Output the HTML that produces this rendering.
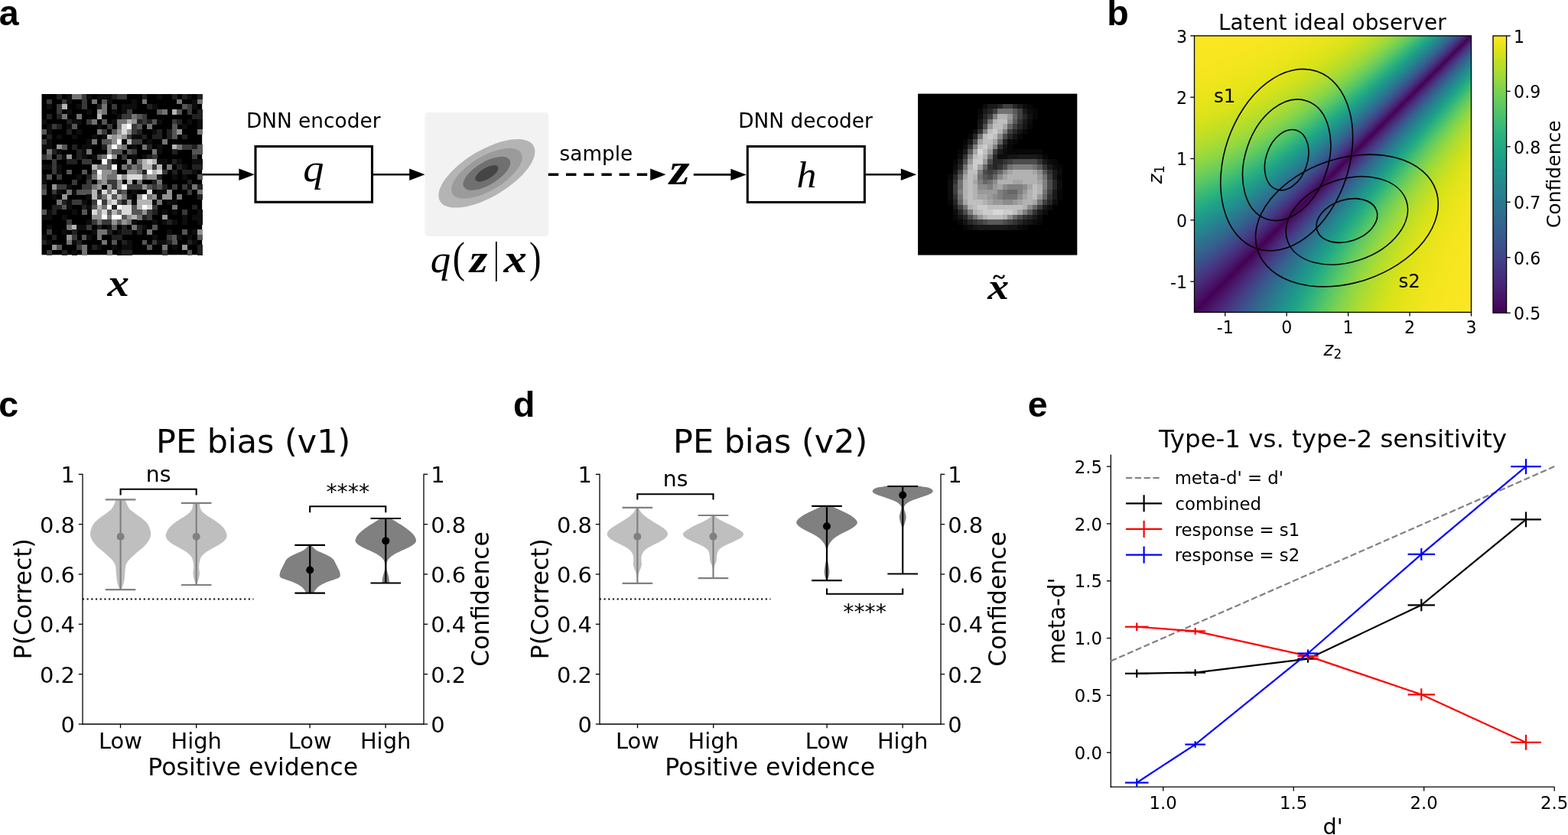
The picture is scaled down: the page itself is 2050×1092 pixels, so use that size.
<!DOCTYPE html>
<html><head><meta charset="utf-8"><title>Figure</title>
<style>html,body{margin:0;padding:0;background:#fff;width:2050px;height:1092px;overflow:hidden;} svg{display:block;}</style></head>
<body><svg width="2050" height="1092" viewBox="0 0 2050 1092">
<rect width="2050" height="1092" fill="#fff"/>
<text x="-1.35" y="32.80" font-family='"Liberation Sans", Arial, sans-serif' font-weight="bold" font-style="normal" font-size="46.50" fill="#000">a</text>
<text x="1447.23" y="32.80" font-family='"Liberation Sans", Arial, sans-serif' font-weight="bold" font-style="normal" font-size="46.50" fill="#000">b</text>
<text x="-1.81" y="545.00" font-family='"Liberation Sans", Arial, sans-serif' font-weight="bold" font-style="normal" font-size="46.50" fill="#000">c</text>
<text x="670.89" y="545.00" font-family='"Liberation Sans", Arial, sans-serif' font-weight="bold" font-style="normal" font-size="46.50" fill="#000">d</text>
<text x="1343.79" y="545.00" font-family='"Liberation Sans", Arial, sans-serif' font-weight="bold" font-style="normal" font-size="46.50" fill="#000">e</text>
<rect x="1200.10" y="122.60" width="208.20" height="211.00" fill="#000"/>
<g shape-rendering="crispEdges"><rect x="1284.68" y="135.79" width="6.81" height="6.89" fill="#0c0c0c"/><rect x="1291.19" y="135.79" width="6.81" height="6.89" fill="#191919"/><rect x="1297.69" y="135.79" width="6.81" height="6.89" fill="#191919"/><rect x="1304.20" y="135.79" width="6.81" height="6.89" fill="#262626"/><rect x="1310.71" y="135.79" width="6.81" height="6.89" fill="#3f3f3f"/><rect x="1317.21" y="135.79" width="6.81" height="6.89" fill="#3f3f3f"/><rect x="1323.72" y="135.79" width="6.81" height="6.89" fill="#262626"/><rect x="1330.22" y="135.79" width="6.81" height="6.89" fill="#191919"/><rect x="1336.73" y="135.79" width="6.81" height="6.89" fill="#0c0c0c"/><rect x="1343.24" y="135.79" width="6.81" height="6.89" fill="#070707"/><rect x="1278.17" y="142.38" width="6.81" height="6.89" fill="#070707"/><rect x="1284.68" y="142.38" width="6.81" height="6.89" fill="#191919"/><rect x="1291.19" y="142.38" width="6.81" height="6.89" fill="#262626"/><rect x="1297.69" y="142.38" width="6.81" height="6.89" fill="#3f3f3f"/><rect x="1304.20" y="142.38" width="6.81" height="6.89" fill="#727272"/><rect x="1310.71" y="142.38" width="6.81" height="6.89" fill="#727272"/><rect x="1317.21" y="142.38" width="6.81" height="6.89" fill="#727272"/><rect x="1323.72" y="142.38" width="6.81" height="6.89" fill="#595959"/><rect x="1330.22" y="142.38" width="6.81" height="6.89" fill="#3f3f3f"/><rect x="1336.73" y="142.38" width="6.81" height="6.89" fill="#191919"/><rect x="1343.24" y="142.38" width="6.81" height="6.89" fill="#0c0c0c"/><rect x="1349.74" y="142.38" width="6.81" height="6.89" fill="#070707"/><rect x="1278.17" y="148.97" width="6.81" height="6.89" fill="#0c0c0c"/><rect x="1284.68" y="148.97" width="6.81" height="6.89" fill="#262626"/><rect x="1291.19" y="148.97" width="6.81" height="6.89" fill="#3f3f3f"/><rect x="1297.69" y="148.97" width="6.81" height="6.89" fill="#7f7f7f"/><rect x="1304.20" y="148.97" width="6.81" height="6.89" fill="#b2b2b2"/><rect x="1310.71" y="148.97" width="6.81" height="6.89" fill="#b2b2b2"/><rect x="1317.21" y="148.97" width="6.81" height="6.89" fill="#999999"/><rect x="1323.72" y="148.97" width="6.81" height="6.89" fill="#666666"/><rect x="1330.22" y="148.97" width="6.81" height="6.89" fill="#3f3f3f"/><rect x="1336.73" y="148.97" width="6.81" height="6.89" fill="#262626"/><rect x="1343.24" y="148.97" width="6.81" height="6.89" fill="#111111"/><rect x="1349.74" y="148.97" width="6.81" height="6.89" fill="#070707"/><rect x="1278.17" y="155.57" width="6.81" height="6.89" fill="#141414"/><rect x="1284.68" y="155.57" width="6.81" height="6.89" fill="#333333"/><rect x="1291.19" y="155.57" width="6.81" height="6.89" fill="#727272"/><rect x="1297.69" y="155.57" width="6.81" height="6.89" fill="#b2b2b2"/><rect x="1304.20" y="155.57" width="6.81" height="6.89" fill="#bfbfbf"/><rect x="1310.71" y="155.57" width="6.81" height="6.89" fill="#bfbfbf"/><rect x="1317.21" y="155.57" width="6.81" height="6.89" fill="#8c8c8c"/><rect x="1323.72" y="155.57" width="6.81" height="6.89" fill="#595959"/><rect x="1330.22" y="155.57" width="6.81" height="6.89" fill="#333333"/><rect x="1336.73" y="155.57" width="6.81" height="6.89" fill="#191919"/><rect x="1343.24" y="155.57" width="6.81" height="6.89" fill="#0c0c0c"/><rect x="1278.17" y="162.16" width="6.81" height="6.89" fill="#191919"/><rect x="1284.68" y="162.16" width="6.81" height="6.89" fill="#4c4c4c"/><rect x="1291.19" y="162.16" width="6.81" height="6.89" fill="#999999"/><rect x="1297.69" y="162.16" width="6.81" height="6.89" fill="#bfbfbf"/><rect x="1304.20" y="162.16" width="6.81" height="6.89" fill="#bfbfbf"/><rect x="1310.71" y="162.16" width="6.81" height="6.89" fill="#a5a5a5"/><rect x="1317.21" y="162.16" width="6.81" height="6.89" fill="#666666"/><rect x="1323.72" y="162.16" width="6.81" height="6.89" fill="#3f3f3f"/><rect x="1330.22" y="162.16" width="6.81" height="6.89" fill="#262626"/><rect x="1336.73" y="162.16" width="6.81" height="6.89" fill="#141414"/><rect x="1343.24" y="162.16" width="6.81" height="6.89" fill="#070707"/><rect x="1271.67" y="168.76" width="6.81" height="6.89" fill="#0c0c0c"/><rect x="1278.17" y="168.76" width="6.81" height="6.89" fill="#333333"/><rect x="1284.68" y="168.76" width="6.81" height="6.89" fill="#7f7f7f"/><rect x="1291.19" y="168.76" width="6.81" height="6.89" fill="#bfbfbf"/><rect x="1297.69" y="168.76" width="6.81" height="6.89" fill="#cccccc"/><rect x="1304.20" y="168.76" width="6.81" height="6.89" fill="#b2b2b2"/><rect x="1310.71" y="168.76" width="6.81" height="6.89" fill="#7f7f7f"/><rect x="1317.21" y="168.76" width="6.81" height="6.89" fill="#3f3f3f"/><rect x="1323.72" y="168.76" width="6.81" height="6.89" fill="#262626"/><rect x="1330.22" y="168.76" width="6.81" height="6.89" fill="#141414"/><rect x="1336.73" y="168.76" width="6.81" height="6.89" fill="#070707"/><rect x="1265.16" y="175.35" width="6.81" height="6.89" fill="#070707"/><rect x="1271.67" y="175.35" width="6.81" height="6.89" fill="#262626"/><rect x="1278.17" y="175.35" width="6.81" height="6.89" fill="#727272"/><rect x="1284.68" y="175.35" width="6.81" height="6.89" fill="#bfbfbf"/><rect x="1291.19" y="175.35" width="6.81" height="6.89" fill="#cccccc"/><rect x="1297.69" y="175.35" width="6.81" height="6.89" fill="#bfbfbf"/><rect x="1304.20" y="175.35" width="6.81" height="6.89" fill="#8c8c8c"/><rect x="1310.71" y="175.35" width="6.81" height="6.89" fill="#4c4c4c"/><rect x="1317.21" y="175.35" width="6.81" height="6.89" fill="#262626"/><rect x="1323.72" y="175.35" width="6.81" height="6.89" fill="#141414"/><rect x="1330.22" y="175.35" width="6.81" height="6.89" fill="#070707"/><rect x="1258.66" y="181.94" width="6.81" height="6.89" fill="#070707"/><rect x="1265.16" y="181.94" width="6.81" height="6.89" fill="#191919"/><rect x="1271.67" y="181.94" width="6.81" height="6.89" fill="#4c4c4c"/><rect x="1278.17" y="181.94" width="6.81" height="6.89" fill="#a5a5a5"/><rect x="1284.68" y="181.94" width="6.81" height="6.89" fill="#bfbfbf"/><rect x="1291.19" y="181.94" width="6.81" height="6.89" fill="#bfbfbf"/><rect x="1297.69" y="181.94" width="6.81" height="6.89" fill="#a5a5a5"/><rect x="1304.20" y="181.94" width="6.81" height="6.89" fill="#666666"/><rect x="1310.71" y="181.94" width="6.81" height="6.89" fill="#262626"/><rect x="1317.21" y="181.94" width="6.81" height="6.89" fill="#0c0c0c"/><rect x="1323.72" y="181.94" width="6.81" height="6.89" fill="#070707"/><rect x="1258.66" y="188.54" width="6.81" height="6.89" fill="#0c0c0c"/><rect x="1265.16" y="188.54" width="6.81" height="6.89" fill="#333333"/><rect x="1271.67" y="188.54" width="6.81" height="6.89" fill="#7f7f7f"/><rect x="1278.17" y="188.54" width="6.81" height="6.89" fill="#bfbfbf"/><rect x="1284.68" y="188.54" width="6.81" height="6.89" fill="#cccccc"/><rect x="1291.19" y="188.54" width="6.81" height="6.89" fill="#b2b2b2"/><rect x="1297.69" y="188.54" width="6.81" height="6.89" fill="#7f7f7f"/><rect x="1304.20" y="188.54" width="6.81" height="6.89" fill="#333333"/><rect x="1310.71" y="188.54" width="6.81" height="6.89" fill="#141414"/><rect x="1317.21" y="188.54" width="6.81" height="6.89" fill="#070707"/><rect x="1252.15" y="195.13" width="6.81" height="6.89" fill="#070707"/><rect x="1258.66" y="195.13" width="6.81" height="6.89" fill="#191919"/><rect x="1265.16" y="195.13" width="6.81" height="6.89" fill="#595959"/><rect x="1271.67" y="195.13" width="6.81" height="6.89" fill="#a5a5a5"/><rect x="1278.17" y="195.13" width="6.81" height="6.89" fill="#d8d8d8"/><rect x="1284.68" y="195.13" width="6.81" height="6.89" fill="#bfbfbf"/><rect x="1291.19" y="195.13" width="6.81" height="6.89" fill="#999999"/><rect x="1297.69" y="195.13" width="6.81" height="6.89" fill="#3f3f3f"/><rect x="1304.20" y="195.13" width="6.81" height="6.89" fill="#191919"/><rect x="1310.71" y="195.13" width="6.81" height="6.89" fill="#0c0c0c"/><rect x="1317.21" y="195.13" width="6.81" height="6.89" fill="#070707"/><rect x="1323.72" y="195.13" width="6.81" height="6.89" fill="#070707"/><rect x="1330.22" y="195.13" width="6.81" height="6.89" fill="#070707"/><rect x="1336.73" y="195.13" width="6.81" height="6.89" fill="#070707"/><rect x="1343.24" y="195.13" width="6.81" height="6.89" fill="#070707"/><rect x="1349.74" y="195.13" width="6.81" height="6.89" fill="#070707"/><rect x="1356.25" y="195.13" width="6.81" height="6.89" fill="#070707"/><rect x="1252.15" y="201.73" width="6.81" height="6.89" fill="#0c0c0c"/><rect x="1258.66" y="201.73" width="6.81" height="6.89" fill="#333333"/><rect x="1265.16" y="201.73" width="6.81" height="6.89" fill="#7f7f7f"/><rect x="1271.67" y="201.73" width="6.81" height="6.89" fill="#bfbfbf"/><rect x="1278.17" y="201.73" width="6.81" height="6.89" fill="#cccccc"/><rect x="1284.68" y="201.73" width="6.81" height="6.89" fill="#b2b2b2"/><rect x="1291.19" y="201.73" width="6.81" height="6.89" fill="#727272"/><rect x="1297.69" y="201.73" width="6.81" height="6.89" fill="#262626"/><rect x="1304.20" y="201.73" width="6.81" height="6.89" fill="#0c0c0c"/><rect x="1310.71" y="201.73" width="6.81" height="6.89" fill="#0c0c0c"/><rect x="1317.21" y="201.73" width="6.81" height="6.89" fill="#141414"/><rect x="1323.72" y="201.73" width="6.81" height="6.89" fill="#141414"/><rect x="1330.22" y="201.73" width="6.81" height="6.89" fill="#191919"/><rect x="1336.73" y="201.73" width="6.81" height="6.89" fill="#191919"/><rect x="1343.24" y="201.73" width="6.81" height="6.89" fill="#191919"/><rect x="1349.74" y="201.73" width="6.81" height="6.89" fill="#191919"/><rect x="1356.25" y="201.73" width="6.81" height="6.89" fill="#141414"/><rect x="1362.76" y="201.73" width="6.81" height="6.89" fill="#070707"/><rect x="1245.64" y="208.32" width="6.81" height="6.89" fill="#070707"/><rect x="1252.15" y="208.32" width="6.81" height="6.89" fill="#191919"/><rect x="1258.66" y="208.32" width="6.81" height="6.89" fill="#4c4c4c"/><rect x="1265.16" y="208.32" width="6.81" height="6.89" fill="#999999"/><rect x="1271.67" y="208.32" width="6.81" height="6.89" fill="#cccccc"/><rect x="1278.17" y="208.32" width="6.81" height="6.89" fill="#cccccc"/><rect x="1284.68" y="208.32" width="6.81" height="6.89" fill="#999999"/><rect x="1291.19" y="208.32" width="6.81" height="6.89" fill="#4c4c4c"/><rect x="1297.69" y="208.32" width="6.81" height="6.89" fill="#262626"/><rect x="1304.20" y="208.32" width="6.81" height="6.89" fill="#262626"/><rect x="1310.71" y="208.32" width="6.81" height="6.89" fill="#333333"/><rect x="1317.21" y="208.32" width="6.81" height="6.89" fill="#3f3f3f"/><rect x="1323.72" y="208.32" width="6.81" height="6.89" fill="#4c4c4c"/><rect x="1330.22" y="208.32" width="6.81" height="6.89" fill="#4c4c4c"/><rect x="1336.73" y="208.32" width="6.81" height="6.89" fill="#4c4c4c"/><rect x="1343.24" y="208.32" width="6.81" height="6.89" fill="#4c4c4c"/><rect x="1349.74" y="208.32" width="6.81" height="6.89" fill="#4c4c4c"/><rect x="1356.25" y="208.32" width="6.81" height="6.89" fill="#333333"/><rect x="1362.76" y="208.32" width="6.81" height="6.89" fill="#191919"/><rect x="1369.26" y="208.32" width="6.81" height="6.89" fill="#0c0c0c"/><rect x="1375.77" y="208.32" width="6.81" height="6.89" fill="#070707"/><rect x="1245.64" y="214.91" width="6.81" height="6.89" fill="#0c0c0c"/><rect x="1252.15" y="214.91" width="6.81" height="6.89" fill="#262626"/><rect x="1258.66" y="214.91" width="6.81" height="6.89" fill="#727272"/><rect x="1265.16" y="214.91" width="6.81" height="6.89" fill="#b2b2b2"/><rect x="1271.67" y="214.91" width="6.81" height="6.89" fill="#cccccc"/><rect x="1278.17" y="214.91" width="6.81" height="6.89" fill="#a5a5a5"/><rect x="1284.68" y="214.91" width="6.81" height="6.89" fill="#666666"/><rect x="1291.19" y="214.91" width="6.81" height="6.89" fill="#333333"/><rect x="1297.69" y="214.91" width="6.81" height="6.89" fill="#262626"/><rect x="1304.20" y="214.91" width="6.81" height="6.89" fill="#333333"/><rect x="1310.71" y="214.91" width="6.81" height="6.89" fill="#4c4c4c"/><rect x="1317.21" y="214.91" width="6.81" height="6.89" fill="#727272"/><rect x="1323.72" y="214.91" width="6.81" height="6.89" fill="#7f7f7f"/><rect x="1330.22" y="214.91" width="6.81" height="6.89" fill="#7f7f7f"/><rect x="1336.73" y="214.91" width="6.81" height="6.89" fill="#7f7f7f"/><rect x="1343.24" y="214.91" width="6.81" height="6.89" fill="#7f7f7f"/><rect x="1349.74" y="214.91" width="6.81" height="6.89" fill="#727272"/><rect x="1356.25" y="214.91" width="6.81" height="6.89" fill="#595959"/><rect x="1362.76" y="214.91" width="6.81" height="6.89" fill="#333333"/><rect x="1369.26" y="214.91" width="6.81" height="6.89" fill="#191919"/><rect x="1375.77" y="214.91" width="6.81" height="6.89" fill="#0c0c0c"/><rect x="1382.27" y="214.91" width="6.81" height="6.89" fill="#070707"/><rect x="1245.64" y="221.51" width="6.81" height="6.89" fill="#141414"/><rect x="1252.15" y="221.51" width="6.81" height="6.89" fill="#3f3f3f"/><rect x="1258.66" y="221.51" width="6.81" height="6.89" fill="#8c8c8c"/><rect x="1265.16" y="221.51" width="6.81" height="6.89" fill="#bfbfbf"/><rect x="1271.67" y="221.51" width="6.81" height="6.89" fill="#bfbfbf"/><rect x="1278.17" y="221.51" width="6.81" height="6.89" fill="#7f7f7f"/><rect x="1284.68" y="221.51" width="6.81" height="6.89" fill="#4c4c4c"/><rect x="1291.19" y="221.51" width="6.81" height="6.89" fill="#3f3f3f"/><rect x="1297.69" y="221.51" width="6.81" height="6.89" fill="#4c4c4c"/><rect x="1304.20" y="221.51" width="6.81" height="6.89" fill="#666666"/><rect x="1310.71" y="221.51" width="6.81" height="6.89" fill="#8c8c8c"/><rect x="1317.21" y="221.51" width="6.81" height="6.89" fill="#a5a5a5"/><rect x="1323.72" y="221.51" width="6.81" height="6.89" fill="#b2b2b2"/><rect x="1330.22" y="221.51" width="6.81" height="6.89" fill="#b2b2b2"/><rect x="1336.73" y="221.51" width="6.81" height="6.89" fill="#b2b2b2"/><rect x="1343.24" y="221.51" width="6.81" height="6.89" fill="#b2b2b2"/><rect x="1349.74" y="221.51" width="6.81" height="6.89" fill="#a5a5a5"/><rect x="1356.25" y="221.51" width="6.81" height="6.89" fill="#8c8c8c"/><rect x="1362.76" y="221.51" width="6.81" height="6.89" fill="#595959"/><rect x="1369.26" y="221.51" width="6.81" height="6.89" fill="#333333"/><rect x="1375.77" y="221.51" width="6.81" height="6.89" fill="#191919"/><rect x="1382.27" y="221.51" width="6.81" height="6.89" fill="#0c0c0c"/><rect x="1239.14" y="228.10" width="6.81" height="6.89" fill="#070707"/><rect x="1245.64" y="228.10" width="6.81" height="6.89" fill="#262626"/><rect x="1252.15" y="228.10" width="6.81" height="6.89" fill="#595959"/><rect x="1258.66" y="228.10" width="6.81" height="6.89" fill="#a5a5a5"/><rect x="1265.16" y="228.10" width="6.81" height="6.89" fill="#bfbfbf"/><rect x="1271.67" y="228.10" width="6.81" height="6.89" fill="#b2b2b2"/><rect x="1278.17" y="228.10" width="6.81" height="6.89" fill="#727272"/><rect x="1284.68" y="228.10" width="6.81" height="6.89" fill="#595959"/><rect x="1291.19" y="228.10" width="6.81" height="6.89" fill="#4c4c4c"/><rect x="1297.69" y="228.10" width="6.81" height="6.89" fill="#666666"/><rect x="1304.20" y="228.10" width="6.81" height="6.89" fill="#8c8c8c"/><rect x="1310.71" y="228.10" width="6.81" height="6.89" fill="#a5a5a5"/><rect x="1317.21" y="228.10" width="6.81" height="6.89" fill="#b2b2b2"/><rect x="1323.72" y="228.10" width="6.81" height="6.89" fill="#b2b2b2"/><rect x="1330.22" y="228.10" width="6.81" height="6.89" fill="#b2b2b2"/><rect x="1336.73" y="228.10" width="6.81" height="6.89" fill="#b2b2b2"/><rect x="1343.24" y="228.10" width="6.81" height="6.89" fill="#b2b2b2"/><rect x="1349.74" y="228.10" width="6.81" height="6.89" fill="#b2b2b2"/><rect x="1356.25" y="228.10" width="6.81" height="6.89" fill="#999999"/><rect x="1362.76" y="228.10" width="6.81" height="6.89" fill="#727272"/><rect x="1369.26" y="228.10" width="6.81" height="6.89" fill="#3f3f3f"/><rect x="1375.77" y="228.10" width="6.81" height="6.89" fill="#191919"/><rect x="1382.27" y="228.10" width="6.81" height="6.89" fill="#070707"/><rect x="1239.14" y="234.69" width="6.81" height="6.89" fill="#0c0c0c"/><rect x="1245.64" y="234.69" width="6.81" height="6.89" fill="#333333"/><rect x="1252.15" y="234.69" width="6.81" height="6.89" fill="#727272"/><rect x="1258.66" y="234.69" width="6.81" height="6.89" fill="#b2b2b2"/><rect x="1265.16" y="234.69" width="6.81" height="6.89" fill="#bfbfbf"/><rect x="1271.67" y="234.69" width="6.81" height="6.89" fill="#a5a5a5"/><rect x="1278.17" y="234.69" width="6.81" height="6.89" fill="#7f7f7f"/><rect x="1284.68" y="234.69" width="6.81" height="6.89" fill="#666666"/><rect x="1291.19" y="234.69" width="6.81" height="6.89" fill="#727272"/><rect x="1297.69" y="234.69" width="6.81" height="6.89" fill="#8c8c8c"/><rect x="1304.20" y="234.69" width="6.81" height="6.89" fill="#b2b2b2"/><rect x="1310.71" y="234.69" width="6.81" height="6.89" fill="#b2b2b2"/><rect x="1317.21" y="234.69" width="6.81" height="6.89" fill="#b2b2b2"/><rect x="1323.72" y="234.69" width="6.81" height="6.89" fill="#a5a5a5"/><rect x="1330.22" y="234.69" width="6.81" height="6.89" fill="#a5a5a5"/><rect x="1336.73" y="234.69" width="6.81" height="6.89" fill="#b2b2b2"/><rect x="1343.24" y="234.69" width="6.81" height="6.89" fill="#b2b2b2"/><rect x="1349.74" y="234.69" width="6.81" height="6.89" fill="#b2b2b2"/><rect x="1356.25" y="234.69" width="6.81" height="6.89" fill="#a5a5a5"/><rect x="1362.76" y="234.69" width="6.81" height="6.89" fill="#7f7f7f"/><rect x="1369.26" y="234.69" width="6.81" height="6.89" fill="#4c4c4c"/><rect x="1375.77" y="234.69" width="6.81" height="6.89" fill="#262626"/><rect x="1382.27" y="234.69" width="6.81" height="6.89" fill="#0c0c0c"/><rect x="1239.14" y="241.29" width="6.81" height="6.89" fill="#0c0c0c"/><rect x="1245.64" y="241.29" width="6.81" height="6.89" fill="#3f3f3f"/><rect x="1252.15" y="241.29" width="6.81" height="6.89" fill="#727272"/><rect x="1258.66" y="241.29" width="6.81" height="6.89" fill="#b2b2b2"/><rect x="1265.16" y="241.29" width="6.81" height="6.89" fill="#bfbfbf"/><rect x="1271.67" y="241.29" width="6.81" height="6.89" fill="#b2b2b2"/><rect x="1278.17" y="241.29" width="6.81" height="6.89" fill="#8c8c8c"/><rect x="1284.68" y="241.29" width="6.81" height="6.89" fill="#8c8c8c"/><rect x="1291.19" y="241.29" width="6.81" height="6.89" fill="#7f7f7f"/><rect x="1297.69" y="241.29" width="6.81" height="6.89" fill="#999999"/><rect x="1304.20" y="241.29" width="6.81" height="6.89" fill="#a5a5a5"/><rect x="1310.71" y="241.29" width="6.81" height="6.89" fill="#8c8c8c"/><rect x="1317.21" y="241.29" width="6.81" height="6.89" fill="#7f7f7f"/><rect x="1323.72" y="241.29" width="6.81" height="6.89" fill="#7f7f7f"/><rect x="1330.22" y="241.29" width="6.81" height="6.89" fill="#7f7f7f"/><rect x="1336.73" y="241.29" width="6.81" height="6.89" fill="#8c8c8c"/><rect x="1343.24" y="241.29" width="6.81" height="6.89" fill="#a5a5a5"/><rect x="1349.74" y="241.29" width="6.81" height="6.89" fill="#bfbfbf"/><rect x="1356.25" y="241.29" width="6.81" height="6.89" fill="#b2b2b2"/><rect x="1362.76" y="241.29" width="6.81" height="6.89" fill="#7f7f7f"/><rect x="1369.26" y="241.29" width="6.81" height="6.89" fill="#4c4c4c"/><rect x="1375.77" y="241.29" width="6.81" height="6.89" fill="#262626"/><rect x="1382.27" y="241.29" width="6.81" height="6.89" fill="#0c0c0c"/><rect x="1239.14" y="247.88" width="6.81" height="6.89" fill="#0c0c0c"/><rect x="1245.64" y="247.88" width="6.81" height="6.89" fill="#3f3f3f"/><rect x="1252.15" y="247.88" width="6.81" height="6.89" fill="#7f7f7f"/><rect x="1258.66" y="247.88" width="6.81" height="6.89" fill="#b2b2b2"/><rect x="1265.16" y="247.88" width="6.81" height="6.89" fill="#bfbfbf"/><rect x="1271.67" y="247.88" width="6.81" height="6.89" fill="#b2b2b2"/><rect x="1278.17" y="247.88" width="6.81" height="6.89" fill="#999999"/><rect x="1284.68" y="247.88" width="6.81" height="6.89" fill="#999999"/><rect x="1291.19" y="247.88" width="6.81" height="6.89" fill="#999999"/><rect x="1297.69" y="247.88" width="6.81" height="6.89" fill="#999999"/><rect x="1304.20" y="247.88" width="6.81" height="6.89" fill="#7f7f7f"/><rect x="1310.71" y="247.88" width="6.81" height="6.89" fill="#727272"/><rect x="1317.21" y="247.88" width="6.81" height="6.89" fill="#666666"/><rect x="1323.72" y="247.88" width="6.81" height="6.89" fill="#666666"/><rect x="1330.22" y="247.88" width="6.81" height="6.89" fill="#7f7f7f"/><rect x="1336.73" y="247.88" width="6.81" height="6.89" fill="#999999"/><rect x="1343.24" y="247.88" width="6.81" height="6.89" fill="#b2b2b2"/><rect x="1349.74" y="247.88" width="6.81" height="6.89" fill="#bfbfbf"/><rect x="1356.25" y="247.88" width="6.81" height="6.89" fill="#b2b2b2"/><rect x="1362.76" y="247.88" width="6.81" height="6.89" fill="#727272"/><rect x="1369.26" y="247.88" width="6.81" height="6.89" fill="#3f3f3f"/><rect x="1375.77" y="247.88" width="6.81" height="6.89" fill="#191919"/><rect x="1382.27" y="247.88" width="6.81" height="6.89" fill="#070707"/><rect x="1239.14" y="254.48" width="6.81" height="6.89" fill="#0c0c0c"/><rect x="1245.64" y="254.48" width="6.81" height="6.89" fill="#333333"/><rect x="1252.15" y="254.48" width="6.81" height="6.89" fill="#727272"/><rect x="1258.66" y="254.48" width="6.81" height="6.89" fill="#b2b2b2"/><rect x="1265.16" y="254.48" width="6.81" height="6.89" fill="#bfbfbf"/><rect x="1271.67" y="254.48" width="6.81" height="6.89" fill="#b2b2b2"/><rect x="1278.17" y="254.48" width="6.81" height="6.89" fill="#a5a5a5"/><rect x="1284.68" y="254.48" width="6.81" height="6.89" fill="#a5a5a5"/><rect x="1291.19" y="254.48" width="6.81" height="6.89" fill="#999999"/><rect x="1297.69" y="254.48" width="6.81" height="6.89" fill="#8c8c8c"/><rect x="1304.20" y="254.48" width="6.81" height="6.89" fill="#7f7f7f"/><rect x="1310.71" y="254.48" width="6.81" height="6.89" fill="#727272"/><rect x="1317.21" y="254.48" width="6.81" height="6.89" fill="#727272"/><rect x="1323.72" y="254.48" width="6.81" height="6.89" fill="#727272"/><rect x="1330.22" y="254.48" width="6.81" height="6.89" fill="#8c8c8c"/><rect x="1336.73" y="254.48" width="6.81" height="6.89" fill="#a5a5a5"/><rect x="1343.24" y="254.48" width="6.81" height="6.89" fill="#b2b2b2"/><rect x="1349.74" y="254.48" width="6.81" height="6.89" fill="#bfbfbf"/><rect x="1356.25" y="254.48" width="6.81" height="6.89" fill="#999999"/><rect x="1362.76" y="254.48" width="6.81" height="6.89" fill="#666666"/><rect x="1369.26" y="254.48" width="6.81" height="6.89" fill="#333333"/><rect x="1375.77" y="254.48" width="6.81" height="6.89" fill="#191919"/><rect x="1382.27" y="254.48" width="6.81" height="6.89" fill="#070707"/><rect x="1239.14" y="261.07" width="6.81" height="6.89" fill="#070707"/><rect x="1245.64" y="261.07" width="6.81" height="6.89" fill="#262626"/><rect x="1252.15" y="261.07" width="6.81" height="6.89" fill="#666666"/><rect x="1258.66" y="261.07" width="6.81" height="6.89" fill="#a5a5a5"/><rect x="1265.16" y="261.07" width="6.81" height="6.89" fill="#bfbfbf"/><rect x="1271.67" y="261.07" width="6.81" height="6.89" fill="#bfbfbf"/><rect x="1278.17" y="261.07" width="6.81" height="6.89" fill="#bfbfbf"/><rect x="1284.68" y="261.07" width="6.81" height="6.89" fill="#b2b2b2"/><rect x="1291.19" y="261.07" width="6.81" height="6.89" fill="#a5a5a5"/><rect x="1297.69" y="261.07" width="6.81" height="6.89" fill="#999999"/><rect x="1304.20" y="261.07" width="6.81" height="6.89" fill="#999999"/><rect x="1310.71" y="261.07" width="6.81" height="6.89" fill="#8c8c8c"/><rect x="1317.21" y="261.07" width="6.81" height="6.89" fill="#8c8c8c"/><rect x="1323.72" y="261.07" width="6.81" height="6.89" fill="#999999"/><rect x="1330.22" y="261.07" width="6.81" height="6.89" fill="#a5a5a5"/><rect x="1336.73" y="261.07" width="6.81" height="6.89" fill="#b2b2b2"/><rect x="1343.24" y="261.07" width="6.81" height="6.89" fill="#b2b2b2"/><rect x="1349.74" y="261.07" width="6.81" height="6.89" fill="#a5a5a5"/><rect x="1356.25" y="261.07" width="6.81" height="6.89" fill="#727272"/><rect x="1362.76" y="261.07" width="6.81" height="6.89" fill="#3f3f3f"/><rect x="1369.26" y="261.07" width="6.81" height="6.89" fill="#262626"/><rect x="1375.77" y="261.07" width="6.81" height="6.89" fill="#0c0c0c"/><rect x="1245.64" y="267.66" width="6.81" height="6.89" fill="#191919"/><rect x="1252.15" y="267.66" width="6.81" height="6.89" fill="#3f3f3f"/><rect x="1258.66" y="267.66" width="6.81" height="6.89" fill="#727272"/><rect x="1265.16" y="267.66" width="6.81" height="6.89" fill="#b2b2b2"/><rect x="1271.67" y="267.66" width="6.81" height="6.89" fill="#bfbfbf"/><rect x="1278.17" y="267.66" width="6.81" height="6.89" fill="#cccccc"/><rect x="1284.68" y="267.66" width="6.81" height="6.89" fill="#cccccc"/><rect x="1291.19" y="267.66" width="6.81" height="6.89" fill="#bfbfbf"/><rect x="1297.69" y="267.66" width="6.81" height="6.89" fill="#bfbfbf"/><rect x="1304.20" y="267.66" width="6.81" height="6.89" fill="#bfbfbf"/><rect x="1310.71" y="267.66" width="6.81" height="6.89" fill="#bfbfbf"/><rect x="1317.21" y="267.66" width="6.81" height="6.89" fill="#bfbfbf"/><rect x="1323.72" y="267.66" width="6.81" height="6.89" fill="#bfbfbf"/><rect x="1330.22" y="267.66" width="6.81" height="6.89" fill="#bfbfbf"/><rect x="1336.73" y="267.66" width="6.81" height="6.89" fill="#b2b2b2"/><rect x="1343.24" y="267.66" width="6.81" height="6.89" fill="#8c8c8c"/><rect x="1349.74" y="267.66" width="6.81" height="6.89" fill="#666666"/><rect x="1356.25" y="267.66" width="6.81" height="6.89" fill="#3f3f3f"/><rect x="1362.76" y="267.66" width="6.81" height="6.89" fill="#191919"/><rect x="1369.26" y="267.66" width="6.81" height="6.89" fill="#0c0c0c"/><rect x="1245.64" y="274.26" width="6.81" height="6.89" fill="#0c0c0c"/><rect x="1252.15" y="274.26" width="6.81" height="6.89" fill="#262626"/><rect x="1258.66" y="274.26" width="6.81" height="6.89" fill="#4c4c4c"/><rect x="1265.16" y="274.26" width="6.81" height="6.89" fill="#7f7f7f"/><rect x="1271.67" y="274.26" width="6.81" height="6.89" fill="#b2b2b2"/><rect x="1278.17" y="274.26" width="6.81" height="6.89" fill="#bfbfbf"/><rect x="1284.68" y="274.26" width="6.81" height="6.89" fill="#cccccc"/><rect x="1291.19" y="274.26" width="6.81" height="6.89" fill="#cccccc"/><rect x="1297.69" y="274.26" width="6.81" height="6.89" fill="#d8d8d8"/><rect x="1304.20" y="274.26" width="6.81" height="6.89" fill="#d8d8d8"/><rect x="1310.71" y="274.26" width="6.81" height="6.89" fill="#cccccc"/><rect x="1317.21" y="274.26" width="6.81" height="6.89" fill="#cccccc"/><rect x="1323.72" y="274.26" width="6.81" height="6.89" fill="#bfbfbf"/><rect x="1330.22" y="274.26" width="6.81" height="6.89" fill="#a5a5a5"/><rect x="1336.73" y="274.26" width="6.81" height="6.89" fill="#7f7f7f"/><rect x="1343.24" y="274.26" width="6.81" height="6.89" fill="#595959"/><rect x="1349.74" y="274.26" width="6.81" height="6.89" fill="#333333"/><rect x="1356.25" y="274.26" width="6.81" height="6.89" fill="#191919"/><rect x="1362.76" y="274.26" width="6.81" height="6.89" fill="#0c0c0c"/><rect x="1245.64" y="280.85" width="6.81" height="6.89" fill="#070707"/><rect x="1252.15" y="280.85" width="6.81" height="6.89" fill="#141414"/><rect x="1258.66" y="280.85" width="6.81" height="6.89" fill="#262626"/><rect x="1265.16" y="280.85" width="6.81" height="6.89" fill="#4c4c4c"/><rect x="1271.67" y="280.85" width="6.81" height="6.89" fill="#727272"/><rect x="1278.17" y="280.85" width="6.81" height="6.89" fill="#999999"/><rect x="1284.68" y="280.85" width="6.81" height="6.89" fill="#b2b2b2"/><rect x="1291.19" y="280.85" width="6.81" height="6.89" fill="#bfbfbf"/><rect x="1297.69" y="280.85" width="6.81" height="6.89" fill="#bfbfbf"/><rect x="1304.20" y="280.85" width="6.81" height="6.89" fill="#bfbfbf"/><rect x="1310.71" y="280.85" width="6.81" height="6.89" fill="#b2b2b2"/><rect x="1317.21" y="280.85" width="6.81" height="6.89" fill="#8c8c8c"/><rect x="1323.72" y="280.85" width="6.81" height="6.89" fill="#666666"/><rect x="1330.22" y="280.85" width="6.81" height="6.89" fill="#4c4c4c"/><rect x="1336.73" y="280.85" width="6.81" height="6.89" fill="#333333"/><rect x="1343.24" y="280.85" width="6.81" height="6.89" fill="#262626"/><rect x="1349.74" y="280.85" width="6.81" height="6.89" fill="#191919"/><rect x="1356.25" y="280.85" width="6.81" height="6.89" fill="#0c0c0c"/><rect x="1252.15" y="287.44" width="6.81" height="6.89" fill="#070707"/><rect x="1258.66" y="287.44" width="6.81" height="6.89" fill="#141414"/><rect x="1265.16" y="287.44" width="6.81" height="6.89" fill="#262626"/><rect x="1271.67" y="287.44" width="6.81" height="6.89" fill="#333333"/><rect x="1278.17" y="287.44" width="6.81" height="6.89" fill="#3f3f3f"/><rect x="1284.68" y="287.44" width="6.81" height="6.89" fill="#4c4c4c"/><rect x="1291.19" y="287.44" width="6.81" height="6.89" fill="#595959"/><rect x="1297.69" y="287.44" width="6.81" height="6.89" fill="#595959"/><rect x="1304.20" y="287.44" width="6.81" height="6.89" fill="#595959"/><rect x="1310.71" y="287.44" width="6.81" height="6.89" fill="#4c4c4c"/><rect x="1317.21" y="287.44" width="6.81" height="6.89" fill="#3f3f3f"/><rect x="1323.72" y="287.44" width="6.81" height="6.89" fill="#333333"/><rect x="1330.22" y="287.44" width="6.81" height="6.89" fill="#262626"/><rect x="1336.73" y="287.44" width="6.81" height="6.89" fill="#191919"/><rect x="1343.24" y="287.44" width="6.81" height="6.89" fill="#141414"/><rect x="1349.74" y="287.44" width="6.81" height="6.89" fill="#0c0c0c"/><rect x="1356.25" y="287.44" width="6.81" height="6.89" fill="#070707"/><rect x="1258.66" y="294.04" width="6.81" height="6.89" fill="#070707"/><rect x="1265.16" y="294.04" width="6.81" height="6.89" fill="#0c0c0c"/><rect x="1271.67" y="294.04" width="6.81" height="6.89" fill="#141414"/><rect x="1278.17" y="294.04" width="6.81" height="6.89" fill="#191919"/><rect x="1284.68" y="294.04" width="6.81" height="6.89" fill="#191919"/><rect x="1291.19" y="294.04" width="6.81" height="6.89" fill="#191919"/><rect x="1297.69" y="294.04" width="6.81" height="6.89" fill="#191919"/><rect x="1304.20" y="294.04" width="6.81" height="6.89" fill="#191919"/><rect x="1310.71" y="294.04" width="6.81" height="6.89" fill="#191919"/><rect x="1317.21" y="294.04" width="6.81" height="6.89" fill="#141414"/><rect x="1323.72" y="294.04" width="6.81" height="6.89" fill="#141414"/><rect x="1330.22" y="294.04" width="6.81" height="6.89" fill="#0c0c0c"/><rect x="1336.73" y="294.04" width="6.81" height="6.89" fill="#070707"/></g>
<rect x="54.50" y="123.00" width="209.70" height="210.30" fill="#000"/>
<g shape-rendering="crispEdges"><rect x="74.16" y="123.00" width="6.85" height="6.87" fill="#212121"/><rect x="87.27" y="123.00" width="6.85" height="6.87" fill="#0d0d0d"/><rect x="93.82" y="123.00" width="6.85" height="6.87" fill="#737373"/><rect x="100.37" y="123.00" width="6.85" height="6.87" fill="#737373"/><rect x="106.92" y="123.00" width="6.85" height="6.87" fill="#393939"/><rect x="113.48" y="123.00" width="6.85" height="6.87" fill="#0d0d0d"/><rect x="126.58" y="123.00" width="6.85" height="6.87" fill="#0d0d0d"/><rect x="133.14" y="123.00" width="6.85" height="6.87" fill="#0d0d0d"/><rect x="139.69" y="123.00" width="6.85" height="6.87" fill="#0d0d0d"/><rect x="146.24" y="123.00" width="6.85" height="6.87" fill="#212121"/><rect x="152.80" y="123.00" width="6.85" height="6.87" fill="#393939"/><rect x="159.35" y="123.00" width="6.85" height="6.87" fill="#393939"/><rect x="185.56" y="123.00" width="6.85" height="6.87" fill="#212121"/><rect x="205.22" y="123.00" width="6.85" height="6.87" fill="#0d0d0d"/><rect x="224.88" y="123.00" width="6.85" height="6.87" fill="#212121"/><rect x="237.99" y="123.00" width="6.85" height="6.87" fill="#212121"/><rect x="244.54" y="123.00" width="6.85" height="6.87" fill="#0d0d0d"/><rect x="257.65" y="123.00" width="6.85" height="6.87" fill="#212121"/><rect x="61.05" y="129.57" width="6.85" height="6.87" fill="#393939"/><rect x="80.71" y="129.57" width="6.85" height="6.87" fill="#393939"/><rect x="87.27" y="129.57" width="6.85" height="6.87" fill="#0d0d0d"/><rect x="106.92" y="129.57" width="6.85" height="6.87" fill="#393939"/><rect x="120.03" y="129.57" width="6.85" height="6.87" fill="#737373"/><rect x="133.14" y="129.57" width="6.85" height="6.87" fill="#555555"/><rect x="139.69" y="129.57" width="6.85" height="6.87" fill="#0d0d0d"/><rect x="172.46" y="129.57" width="6.85" height="6.87" fill="#0d0d0d"/><rect x="185.56" y="129.57" width="6.85" height="6.87" fill="#737373"/><rect x="231.43" y="129.57" width="6.85" height="6.87" fill="#737373"/><rect x="251.09" y="129.57" width="6.85" height="6.87" fill="#0d0d0d"/><rect x="257.65" y="129.57" width="6.85" height="6.87" fill="#737373"/><rect x="61.05" y="136.14" width="6.85" height="6.87" fill="#0d0d0d"/><rect x="74.16" y="136.14" width="6.85" height="6.87" fill="#393939"/><rect x="80.71" y="136.14" width="6.85" height="6.87" fill="#b5b5b5"/><rect x="100.37" y="136.14" width="6.85" height="6.87" fill="#0d0d0d"/><rect x="106.92" y="136.14" width="6.85" height="6.87" fill="#393939"/><rect x="126.58" y="136.14" width="6.85" height="6.87" fill="#212121"/><rect x="133.14" y="136.14" width="6.85" height="6.87" fill="#737373"/><rect x="146.24" y="136.14" width="6.85" height="6.87" fill="#393939"/><rect x="159.35" y="136.14" width="6.85" height="6.87" fill="#0d0d0d"/><rect x="165.90" y="136.14" width="6.85" height="6.87" fill="#0d0d0d"/><rect x="172.46" y="136.14" width="6.85" height="6.87" fill="#0d0d0d"/><rect x="192.12" y="136.14" width="6.85" height="6.87" fill="#212121"/><rect x="198.67" y="136.14" width="6.85" height="6.87" fill="#0d0d0d"/><rect x="237.99" y="136.14" width="6.85" height="6.87" fill="#555555"/><rect x="244.54" y="136.14" width="6.85" height="6.87" fill="#393939"/><rect x="251.09" y="136.14" width="6.85" height="6.87" fill="#0d0d0d"/><rect x="74.16" y="142.72" width="6.85" height="6.87" fill="#393939"/><rect x="87.27" y="142.72" width="6.85" height="6.87" fill="#0d0d0d"/><rect x="113.48" y="142.72" width="6.85" height="6.87" fill="#0d0d0d"/><rect x="126.58" y="142.72" width="6.85" height="6.87" fill="#939393"/><rect x="133.14" y="142.72" width="6.85" height="6.87" fill="#737373"/><rect x="146.24" y="142.72" width="6.85" height="6.87" fill="#0d0d0d"/><rect x="159.35" y="142.72" width="6.85" height="6.87" fill="#0d0d0d"/><rect x="165.90" y="142.72" width="6.85" height="6.87" fill="#393939"/><rect x="205.22" y="142.72" width="6.85" height="6.87" fill="#555555"/><rect x="211.77" y="142.72" width="6.85" height="6.87" fill="#737373"/><rect x="224.88" y="142.72" width="6.85" height="6.87" fill="#b5b5b5"/><rect x="231.43" y="142.72" width="6.85" height="6.87" fill="#555555"/><rect x="244.54" y="142.72" width="6.85" height="6.87" fill="#393939"/><rect x="257.65" y="142.72" width="6.85" height="6.87" fill="#212121"/><rect x="61.05" y="149.29" width="6.85" height="6.87" fill="#212121"/><rect x="74.16" y="149.29" width="6.85" height="6.87" fill="#212121"/><rect x="80.71" y="149.29" width="6.85" height="6.87" fill="#737373"/><rect x="100.37" y="149.29" width="6.85" height="6.87" fill="#737373"/><rect x="126.58" y="149.29" width="6.85" height="6.87" fill="#b5b5b5"/><rect x="152.80" y="149.29" width="6.85" height="6.87" fill="#0d0d0d"/><rect x="159.35" y="149.29" width="6.85" height="6.87" fill="#393939"/><rect x="165.90" y="149.29" width="6.85" height="6.87" fill="#393939"/><rect x="172.46" y="149.29" width="6.85" height="6.87" fill="#737373"/><rect x="179.01" y="149.29" width="6.85" height="6.87" fill="#555555"/><rect x="185.56" y="149.29" width="6.85" height="6.87" fill="#393939"/><rect x="251.09" y="149.29" width="6.85" height="6.87" fill="#212121"/><rect x="257.65" y="149.29" width="6.85" height="6.87" fill="#212121"/><rect x="54.50" y="155.86" width="6.85" height="6.87" fill="#0d0d0d"/><rect x="87.27" y="155.86" width="6.85" height="6.87" fill="#212121"/><rect x="93.82" y="155.86" width="6.85" height="6.87" fill="#0d0d0d"/><rect x="100.37" y="155.86" width="6.85" height="6.87" fill="#0d0d0d"/><rect x="113.48" y="155.86" width="6.85" height="6.87" fill="#393939"/><rect x="120.03" y="155.86" width="6.85" height="6.87" fill="#737373"/><rect x="133.14" y="155.86" width="6.85" height="6.87" fill="#555555"/><rect x="146.24" y="155.86" width="6.85" height="6.87" fill="#0d0d0d"/><rect x="152.80" y="155.86" width="6.85" height="6.87" fill="#737373"/><rect x="159.35" y="155.86" width="6.85" height="6.87" fill="#737373"/><rect x="165.90" y="155.86" width="6.85" height="6.87" fill="#b5b5b5"/><rect x="172.46" y="155.86" width="6.85" height="6.87" fill="#939393"/><rect x="179.01" y="155.86" width="6.85" height="6.87" fill="#212121"/><rect x="185.56" y="155.86" width="6.85" height="6.87" fill="#393939"/><rect x="192.12" y="155.86" width="6.85" height="6.87" fill="#212121"/><rect x="198.67" y="155.86" width="6.85" height="6.87" fill="#555555"/><rect x="205.22" y="155.86" width="6.85" height="6.87" fill="#0d0d0d"/><rect x="224.88" y="155.86" width="6.85" height="6.87" fill="#393939"/><rect x="231.43" y="155.86" width="6.85" height="6.87" fill="#212121"/><rect x="244.54" y="155.86" width="6.85" height="6.87" fill="#0d0d0d"/><rect x="257.65" y="155.86" width="6.85" height="6.87" fill="#0d0d0d"/><rect x="61.05" y="162.43" width="6.85" height="6.87" fill="#0d0d0d"/><rect x="67.61" y="162.43" width="6.85" height="6.87" fill="#393939"/><rect x="74.16" y="162.43" width="6.85" height="6.87" fill="#212121"/><rect x="87.27" y="162.43" width="6.85" height="6.87" fill="#0d0d0d"/><rect x="93.82" y="162.43" width="6.85" height="6.87" fill="#555555"/><rect x="126.58" y="162.43" width="6.85" height="6.87" fill="#0d0d0d"/><rect x="139.69" y="162.43" width="6.85" height="6.87" fill="#393939"/><rect x="152.80" y="162.43" width="6.85" height="6.87" fill="#737373"/><rect x="159.35" y="162.43" width="6.85" height="6.87" fill="#d9d9d9"/><rect x="165.90" y="162.43" width="6.85" height="6.87" fill="#ffffff"/><rect x="172.46" y="162.43" width="6.85" height="6.87" fill="#393939"/><rect x="179.01" y="162.43" width="6.85" height="6.87" fill="#555555"/><rect x="192.12" y="162.43" width="6.85" height="6.87" fill="#737373"/><rect x="224.88" y="162.43" width="6.85" height="6.87" fill="#555555"/><rect x="237.99" y="162.43" width="6.85" height="6.87" fill="#0d0d0d"/><rect x="257.65" y="162.43" width="6.85" height="6.87" fill="#0d0d0d"/><rect x="54.50" y="169.00" width="6.85" height="6.87" fill="#555555"/><rect x="61.05" y="169.00" width="6.85" height="6.87" fill="#0d0d0d"/><rect x="87.27" y="169.00" width="6.85" height="6.87" fill="#212121"/><rect x="100.37" y="169.00" width="6.85" height="6.87" fill="#0d0d0d"/><rect x="126.58" y="169.00" width="6.85" height="6.87" fill="#737373"/><rect x="133.14" y="169.00" width="6.85" height="6.87" fill="#393939"/><rect x="146.24" y="169.00" width="6.85" height="6.87" fill="#555555"/><rect x="152.80" y="169.00" width="6.85" height="6.87" fill="#939393"/><rect x="159.35" y="169.00" width="6.85" height="6.87" fill="#d9d9d9"/><rect x="165.90" y="169.00" width="6.85" height="6.87" fill="#939393"/><rect x="172.46" y="169.00" width="6.85" height="6.87" fill="#393939"/><rect x="179.01" y="169.00" width="6.85" height="6.87" fill="#212121"/><rect x="198.67" y="169.00" width="6.85" height="6.87" fill="#0d0d0d"/><rect x="205.22" y="169.00" width="6.85" height="6.87" fill="#212121"/><rect x="218.33" y="169.00" width="6.85" height="6.87" fill="#212121"/><rect x="224.88" y="169.00" width="6.85" height="6.87" fill="#555555"/><rect x="231.43" y="169.00" width="6.85" height="6.87" fill="#939393"/><rect x="257.65" y="169.00" width="6.85" height="6.87" fill="#737373"/><rect x="61.05" y="175.57" width="6.85" height="6.87" fill="#212121"/><rect x="74.16" y="175.57" width="6.85" height="6.87" fill="#0d0d0d"/><rect x="93.82" y="175.57" width="6.85" height="6.87" fill="#0d0d0d"/><rect x="120.03" y="175.57" width="6.85" height="6.87" fill="#0d0d0d"/><rect x="133.14" y="175.57" width="6.85" height="6.87" fill="#0d0d0d"/><rect x="139.69" y="175.57" width="6.85" height="6.87" fill="#b5b5b5"/><rect x="146.24" y="175.57" width="6.85" height="6.87" fill="#939393"/><rect x="152.80" y="175.57" width="6.85" height="6.87" fill="#b5b5b5"/><rect x="159.35" y="175.57" width="6.85" height="6.87" fill="#939393"/><rect x="165.90" y="175.57" width="6.85" height="6.87" fill="#393939"/><rect x="172.46" y="175.57" width="6.85" height="6.87" fill="#0d0d0d"/><rect x="179.01" y="175.57" width="6.85" height="6.87" fill="#0d0d0d"/><rect x="185.56" y="175.57" width="6.85" height="6.87" fill="#212121"/><rect x="198.67" y="175.57" width="6.85" height="6.87" fill="#212121"/><rect x="205.22" y="175.57" width="6.85" height="6.87" fill="#212121"/><rect x="218.33" y="175.57" width="6.85" height="6.87" fill="#212121"/><rect x="224.88" y="175.57" width="6.85" height="6.87" fill="#555555"/><rect x="237.99" y="175.57" width="6.85" height="6.87" fill="#212121"/><rect x="54.50" y="182.15" width="6.85" height="6.87" fill="#393939"/><rect x="61.05" y="182.15" width="6.85" height="6.87" fill="#0d0d0d"/><rect x="113.48" y="182.15" width="6.85" height="6.87" fill="#0d0d0d"/><rect x="120.03" y="182.15" width="6.85" height="6.87" fill="#737373"/><rect x="133.14" y="182.15" width="6.85" height="6.87" fill="#555555"/><rect x="139.69" y="182.15" width="6.85" height="6.87" fill="#555555"/><rect x="146.24" y="182.15" width="6.85" height="6.87" fill="#939393"/><rect x="152.80" y="182.15" width="6.85" height="6.87" fill="#ffffff"/><rect x="159.35" y="182.15" width="6.85" height="6.87" fill="#0d0d0d"/><rect x="165.90" y="182.15" width="6.85" height="6.87" fill="#b5b5b5"/><rect x="172.46" y="182.15" width="6.85" height="6.87" fill="#393939"/><rect x="179.01" y="182.15" width="6.85" height="6.87" fill="#393939"/><rect x="192.12" y="182.15" width="6.85" height="6.87" fill="#0d0d0d"/><rect x="211.77" y="182.15" width="6.85" height="6.87" fill="#737373"/><rect x="54.50" y="188.72" width="6.85" height="6.87" fill="#0d0d0d"/><rect x="61.05" y="188.72" width="6.85" height="6.87" fill="#0d0d0d"/><rect x="74.16" y="188.72" width="6.85" height="6.87" fill="#939393"/><rect x="80.71" y="188.72" width="6.85" height="6.87" fill="#555555"/><rect x="93.82" y="188.72" width="6.85" height="6.87" fill="#212121"/><rect x="106.92" y="188.72" width="6.85" height="6.87" fill="#0d0d0d"/><rect x="113.48" y="188.72" width="6.85" height="6.87" fill="#0d0d0d"/><rect x="133.14" y="188.72" width="6.85" height="6.87" fill="#212121"/><rect x="139.69" y="188.72" width="6.85" height="6.87" fill="#939393"/><rect x="146.24" y="188.72" width="6.85" height="6.87" fill="#ffffff"/><rect x="152.80" y="188.72" width="6.85" height="6.87" fill="#939393"/><rect x="159.35" y="188.72" width="6.85" height="6.87" fill="#737373"/><rect x="172.46" y="188.72" width="6.85" height="6.87" fill="#0d0d0d"/><rect x="185.56" y="188.72" width="6.85" height="6.87" fill="#737373"/><rect x="192.12" y="188.72" width="6.85" height="6.87" fill="#212121"/><rect x="205.22" y="188.72" width="6.85" height="6.87" fill="#0d0d0d"/><rect x="224.88" y="188.72" width="6.85" height="6.87" fill="#b5b5b5"/><rect x="231.43" y="188.72" width="6.85" height="6.87" fill="#737373"/><rect x="237.99" y="188.72" width="6.85" height="6.87" fill="#393939"/><rect x="244.54" y="188.72" width="6.85" height="6.87" fill="#393939"/><rect x="251.09" y="188.72" width="6.85" height="6.87" fill="#212121"/><rect x="257.65" y="188.72" width="6.85" height="6.87" fill="#555555"/><rect x="61.05" y="195.29" width="6.85" height="6.87" fill="#737373"/><rect x="67.61" y="195.29" width="6.85" height="6.87" fill="#212121"/><rect x="74.16" y="195.29" width="6.85" height="6.87" fill="#0d0d0d"/><rect x="100.37" y="195.29" width="6.85" height="6.87" fill="#212121"/><rect x="106.92" y="195.29" width="6.85" height="6.87" fill="#0d0d0d"/><rect x="113.48" y="195.29" width="6.85" height="6.87" fill="#737373"/><rect x="139.69" y="195.29" width="6.85" height="6.87" fill="#939393"/><rect x="146.24" y="195.29" width="6.85" height="6.87" fill="#555555"/><rect x="152.80" y="195.29" width="6.85" height="6.87" fill="#555555"/><rect x="165.90" y="195.29" width="6.85" height="6.87" fill="#555555"/><rect x="172.46" y="195.29" width="6.85" height="6.87" fill="#393939"/><rect x="198.67" y="195.29" width="6.85" height="6.87" fill="#737373"/><rect x="205.22" y="195.29" width="6.85" height="6.87" fill="#0d0d0d"/><rect x="224.88" y="195.29" width="6.85" height="6.87" fill="#212121"/><rect x="251.09" y="195.29" width="6.85" height="6.87" fill="#555555"/><rect x="257.65" y="195.29" width="6.85" height="6.87" fill="#555555"/><rect x="54.50" y="201.86" width="6.85" height="6.87" fill="#393939"/><rect x="61.05" y="201.86" width="6.85" height="6.87" fill="#555555"/><rect x="74.16" y="201.86" width="6.85" height="6.87" fill="#393939"/><rect x="80.71" y="201.86" width="6.85" height="6.87" fill="#0d0d0d"/><rect x="87.27" y="201.86" width="6.85" height="6.87" fill="#939393"/><rect x="100.37" y="201.86" width="6.85" height="6.87" fill="#212121"/><rect x="106.92" y="201.86" width="6.85" height="6.87" fill="#0d0d0d"/><rect x="120.03" y="201.86" width="6.85" height="6.87" fill="#0d0d0d"/><rect x="126.58" y="201.86" width="6.85" height="6.87" fill="#555555"/><rect x="133.14" y="201.86" width="6.85" height="6.87" fill="#737373"/><rect x="139.69" y="201.86" width="6.85" height="6.87" fill="#ffffff"/><rect x="146.24" y="201.86" width="6.85" height="6.87" fill="#939393"/><rect x="159.35" y="201.86" width="6.85" height="6.87" fill="#393939"/><rect x="172.46" y="201.86" width="6.85" height="6.87" fill="#0d0d0d"/><rect x="185.56" y="201.86" width="6.85" height="6.87" fill="#0d0d0d"/><rect x="192.12" y="201.86" width="6.85" height="6.87" fill="#212121"/><rect x="198.67" y="201.86" width="6.85" height="6.87" fill="#393939"/><rect x="251.09" y="201.86" width="6.85" height="6.87" fill="#393939"/><rect x="67.61" y="208.43" width="6.85" height="6.87" fill="#393939"/><rect x="87.27" y="208.43" width="6.85" height="6.87" fill="#212121"/><rect x="93.82" y="208.43" width="6.85" height="6.87" fill="#212121"/><rect x="106.92" y="208.43" width="6.85" height="6.87" fill="#393939"/><rect x="113.48" y="208.43" width="6.85" height="6.87" fill="#393939"/><rect x="133.14" y="208.43" width="6.85" height="6.87" fill="#ffffff"/><rect x="139.69" y="208.43" width="6.85" height="6.87" fill="#555555"/><rect x="146.24" y="208.43" width="6.85" height="6.87" fill="#0d0d0d"/><rect x="165.90" y="208.43" width="6.85" height="6.87" fill="#939393"/><rect x="172.46" y="208.43" width="6.85" height="6.87" fill="#0d0d0d"/><rect x="179.01" y="208.43" width="6.85" height="6.87" fill="#737373"/><rect x="185.56" y="208.43" width="6.85" height="6.87" fill="#b5b5b5"/><rect x="192.12" y="208.43" width="6.85" height="6.87" fill="#d9d9d9"/><rect x="198.67" y="208.43" width="6.85" height="6.87" fill="#b5b5b5"/><rect x="205.22" y="208.43" width="6.85" height="6.87" fill="#0d0d0d"/><rect x="211.77" y="208.43" width="6.85" height="6.87" fill="#0d0d0d"/><rect x="224.88" y="208.43" width="6.85" height="6.87" fill="#212121"/><rect x="231.43" y="208.43" width="6.85" height="6.87" fill="#0d0d0d"/><rect x="251.09" y="208.43" width="6.85" height="6.87" fill="#0d0d0d"/><rect x="257.65" y="208.43" width="6.85" height="6.87" fill="#0d0d0d"/><rect x="54.50" y="215.01" width="6.85" height="6.87" fill="#0d0d0d"/><rect x="61.05" y="215.01" width="6.85" height="6.87" fill="#0d0d0d"/><rect x="67.61" y="215.01" width="6.85" height="6.87" fill="#393939"/><rect x="74.16" y="215.01" width="6.85" height="6.87" fill="#0d0d0d"/><rect x="120.03" y="215.01" width="6.85" height="6.87" fill="#b5b5b5"/><rect x="126.58" y="215.01" width="6.85" height="6.87" fill="#737373"/><rect x="133.14" y="215.01" width="6.85" height="6.87" fill="#737373"/><rect x="139.69" y="215.01" width="6.85" height="6.87" fill="#555555"/><rect x="146.24" y="215.01" width="6.85" height="6.87" fill="#ffffff"/><rect x="159.35" y="215.01" width="6.85" height="6.87" fill="#737373"/><rect x="165.90" y="215.01" width="6.85" height="6.87" fill="#393939"/><rect x="172.46" y="215.01" width="6.85" height="6.87" fill="#737373"/><rect x="179.01" y="215.01" width="6.85" height="6.87" fill="#555555"/><rect x="185.56" y="215.01" width="6.85" height="6.87" fill="#b5b5b5"/><rect x="192.12" y="215.01" width="6.85" height="6.87" fill="#b5b5b5"/><rect x="198.67" y="215.01" width="6.85" height="6.87" fill="#393939"/><rect x="205.22" y="215.01" width="6.85" height="6.87" fill="#b5b5b5"/><rect x="218.33" y="215.01" width="6.85" height="6.87" fill="#737373"/><rect x="231.43" y="215.01" width="6.85" height="6.87" fill="#212121"/><rect x="237.99" y="215.01" width="6.85" height="6.87" fill="#0d0d0d"/><rect x="251.09" y="215.01" width="6.85" height="6.87" fill="#212121"/><rect x="257.65" y="215.01" width="6.85" height="6.87" fill="#212121"/><rect x="67.61" y="221.58" width="6.85" height="6.87" fill="#393939"/><rect x="74.16" y="221.58" width="6.85" height="6.87" fill="#0d0d0d"/><rect x="87.27" y="221.58" width="6.85" height="6.87" fill="#555555"/><rect x="106.92" y="221.58" width="6.85" height="6.87" fill="#555555"/><rect x="120.03" y="221.58" width="6.85" height="6.87" fill="#555555"/><rect x="126.58" y="221.58" width="6.85" height="6.87" fill="#ffffff"/><rect x="133.14" y="221.58" width="6.85" height="6.87" fill="#939393"/><rect x="139.69" y="221.58" width="6.85" height="6.87" fill="#939393"/><rect x="146.24" y="221.58" width="6.85" height="6.87" fill="#737373"/><rect x="165.90" y="221.58" width="6.85" height="6.87" fill="#939393"/><rect x="172.46" y="221.58" width="6.85" height="6.87" fill="#939393"/><rect x="179.01" y="221.58" width="6.85" height="6.87" fill="#737373"/><rect x="185.56" y="221.58" width="6.85" height="6.87" fill="#212121"/><rect x="192.12" y="221.58" width="6.85" height="6.87" fill="#ffffff"/><rect x="198.67" y="221.58" width="6.85" height="6.87" fill="#b5b5b5"/><rect x="205.22" y="221.58" width="6.85" height="6.87" fill="#d9d9d9"/><rect x="211.77" y="221.58" width="6.85" height="6.87" fill="#393939"/><rect x="224.88" y="221.58" width="6.85" height="6.87" fill="#212121"/><rect x="237.99" y="221.58" width="6.85" height="6.87" fill="#212121"/><rect x="244.54" y="221.58" width="6.85" height="6.87" fill="#212121"/><rect x="251.09" y="221.58" width="6.85" height="6.87" fill="#0d0d0d"/><rect x="54.50" y="228.15" width="6.85" height="6.87" fill="#0d0d0d"/><rect x="61.05" y="228.15" width="6.85" height="6.87" fill="#555555"/><rect x="74.16" y="228.15" width="6.85" height="6.87" fill="#393939"/><rect x="100.37" y="228.15" width="6.85" height="6.87" fill="#0d0d0d"/><rect x="113.48" y="228.15" width="6.85" height="6.87" fill="#212121"/><rect x="120.03" y="228.15" width="6.85" height="6.87" fill="#737373"/><rect x="126.58" y="228.15" width="6.85" height="6.87" fill="#d9d9d9"/><rect x="133.14" y="228.15" width="6.85" height="6.87" fill="#939393"/><rect x="139.69" y="228.15" width="6.85" height="6.87" fill="#737373"/><rect x="146.24" y="228.15" width="6.85" height="6.87" fill="#737373"/><rect x="152.80" y="228.15" width="6.85" height="6.87" fill="#d9d9d9"/><rect x="159.35" y="228.15" width="6.85" height="6.87" fill="#939393"/><rect x="165.90" y="228.15" width="6.85" height="6.87" fill="#d9d9d9"/><rect x="172.46" y="228.15" width="6.85" height="6.87" fill="#d9d9d9"/><rect x="179.01" y="228.15" width="6.85" height="6.87" fill="#d9d9d9"/><rect x="185.56" y="228.15" width="6.85" height="6.87" fill="#737373"/><rect x="192.12" y="228.15" width="6.85" height="6.87" fill="#939393"/><rect x="198.67" y="228.15" width="6.85" height="6.87" fill="#939393"/><rect x="205.22" y="228.15" width="6.85" height="6.87" fill="#212121"/><rect x="224.88" y="228.15" width="6.85" height="6.87" fill="#0d0d0d"/><rect x="237.99" y="228.15" width="6.85" height="6.87" fill="#0d0d0d"/><rect x="257.65" y="228.15" width="6.85" height="6.87" fill="#555555"/><rect x="54.50" y="234.72" width="6.85" height="6.87" fill="#0d0d0d"/><rect x="93.82" y="234.72" width="6.85" height="6.87" fill="#393939"/><rect x="113.48" y="234.72" width="6.85" height="6.87" fill="#393939"/><rect x="126.58" y="234.72" width="6.85" height="6.87" fill="#737373"/><rect x="133.14" y="234.72" width="6.85" height="6.87" fill="#939393"/><rect x="139.69" y="234.72" width="6.85" height="6.87" fill="#393939"/><rect x="146.24" y="234.72" width="6.85" height="6.87" fill="#393939"/><rect x="152.80" y="234.72" width="6.85" height="6.87" fill="#939393"/><rect x="165.90" y="234.72" width="6.85" height="6.87" fill="#b5b5b5"/><rect x="179.01" y="234.72" width="6.85" height="6.87" fill="#737373"/><rect x="198.67" y="234.72" width="6.85" height="6.87" fill="#212121"/><rect x="205.22" y="234.72" width="6.85" height="6.87" fill="#737373"/><rect x="244.54" y="234.72" width="6.85" height="6.87" fill="#212121"/><rect x="54.50" y="241.29" width="6.85" height="6.87" fill="#393939"/><rect x="67.61" y="241.29" width="6.85" height="6.87" fill="#939393"/><rect x="74.16" y="241.29" width="6.85" height="6.87" fill="#393939"/><rect x="80.71" y="241.29" width="6.85" height="6.87" fill="#393939"/><rect x="87.27" y="241.29" width="6.85" height="6.87" fill="#0d0d0d"/><rect x="106.92" y="241.29" width="6.85" height="6.87" fill="#393939"/><rect x="113.48" y="241.29" width="6.85" height="6.87" fill="#393939"/><rect x="120.03" y="241.29" width="6.85" height="6.87" fill="#737373"/><rect x="126.58" y="241.29" width="6.85" height="6.87" fill="#939393"/><rect x="139.69" y="241.29" width="6.85" height="6.87" fill="#939393"/><rect x="146.24" y="241.29" width="6.85" height="6.87" fill="#393939"/><rect x="152.80" y="241.29" width="6.85" height="6.87" fill="#939393"/><rect x="159.35" y="241.29" width="6.85" height="6.87" fill="#ffffff"/><rect x="165.90" y="241.29" width="6.85" height="6.87" fill="#393939"/><rect x="172.46" y="241.29" width="6.85" height="6.87" fill="#393939"/><rect x="179.01" y="241.29" width="6.85" height="6.87" fill="#393939"/><rect x="185.56" y="241.29" width="6.85" height="6.87" fill="#939393"/><rect x="192.12" y="241.29" width="6.85" height="6.87" fill="#555555"/><rect x="198.67" y="241.29" width="6.85" height="6.87" fill="#393939"/><rect x="205.22" y="241.29" width="6.85" height="6.87" fill="#555555"/><rect x="211.77" y="241.29" width="6.85" height="6.87" fill="#212121"/><rect x="224.88" y="241.29" width="6.85" height="6.87" fill="#393939"/><rect x="237.99" y="241.29" width="6.85" height="6.87" fill="#393939"/><rect x="244.54" y="241.29" width="6.85" height="6.87" fill="#0d0d0d"/><rect x="251.09" y="241.29" width="6.85" height="6.87" fill="#737373"/><rect x="257.65" y="241.29" width="6.85" height="6.87" fill="#212121"/><rect x="54.50" y="247.87" width="6.85" height="6.87" fill="#555555"/><rect x="67.61" y="247.87" width="6.85" height="6.87" fill="#393939"/><rect x="74.16" y="247.87" width="6.85" height="6.87" fill="#0d0d0d"/><rect x="87.27" y="247.87" width="6.85" height="6.87" fill="#737373"/><rect x="93.82" y="247.87" width="6.85" height="6.87" fill="#0d0d0d"/><rect x="100.37" y="247.87" width="6.85" height="6.87" fill="#555555"/><rect x="106.92" y="247.87" width="6.85" height="6.87" fill="#555555"/><rect x="113.48" y="247.87" width="6.85" height="6.87" fill="#555555"/><rect x="120.03" y="247.87" width="6.85" height="6.87" fill="#b5b5b5"/><rect x="126.58" y="247.87" width="6.85" height="6.87" fill="#212121"/><rect x="133.14" y="247.87" width="6.85" height="6.87" fill="#d9d9d9"/><rect x="139.69" y="247.87" width="6.85" height="6.87" fill="#737373"/><rect x="146.24" y="247.87" width="6.85" height="6.87" fill="#d9d9d9"/><rect x="152.80" y="247.87" width="6.85" height="6.87" fill="#393939"/><rect x="159.35" y="247.87" width="6.85" height="6.87" fill="#555555"/><rect x="172.46" y="247.87" width="6.85" height="6.87" fill="#0d0d0d"/><rect x="192.12" y="247.87" width="6.85" height="6.87" fill="#d9d9d9"/><rect x="205.22" y="247.87" width="6.85" height="6.87" fill="#0d0d0d"/><rect x="211.77" y="247.87" width="6.85" height="6.87" fill="#0d0d0d"/><rect x="218.33" y="247.87" width="6.85" height="6.87" fill="#939393"/><rect x="244.54" y="247.87" width="6.85" height="6.87" fill="#393939"/><rect x="257.65" y="247.87" width="6.85" height="6.87" fill="#737373"/><rect x="67.61" y="254.44" width="6.85" height="6.87" fill="#0d0d0d"/><rect x="80.71" y="254.44" width="6.85" height="6.87" fill="#939393"/><rect x="113.48" y="254.44" width="6.85" height="6.87" fill="#0d0d0d"/><rect x="120.03" y="254.44" width="6.85" height="6.87" fill="#b5b5b5"/><rect x="126.58" y="254.44" width="6.85" height="6.87" fill="#393939"/><rect x="133.14" y="254.44" width="6.85" height="6.87" fill="#737373"/><rect x="139.69" y="254.44" width="6.85" height="6.87" fill="#d9d9d9"/><rect x="146.24" y="254.44" width="6.85" height="6.87" fill="#555555"/><rect x="152.80" y="254.44" width="6.85" height="6.87" fill="#b5b5b5"/><rect x="159.35" y="254.44" width="6.85" height="6.87" fill="#737373"/><rect x="165.90" y="254.44" width="6.85" height="6.87" fill="#0d0d0d"/><rect x="179.01" y="254.44" width="6.85" height="6.87" fill="#939393"/><rect x="185.56" y="254.44" width="6.85" height="6.87" fill="#ffffff"/><rect x="192.12" y="254.44" width="6.85" height="6.87" fill="#737373"/><rect x="198.67" y="254.44" width="6.85" height="6.87" fill="#939393"/><rect x="205.22" y="254.44" width="6.85" height="6.87" fill="#0d0d0d"/><rect x="211.77" y="254.44" width="6.85" height="6.87" fill="#939393"/><rect x="218.33" y="254.44" width="6.85" height="6.87" fill="#939393"/><rect x="231.43" y="254.44" width="6.85" height="6.87" fill="#737373"/><rect x="257.65" y="254.44" width="6.85" height="6.87" fill="#212121"/><rect x="74.16" y="261.01" width="6.85" height="6.87" fill="#737373"/><rect x="80.71" y="261.01" width="6.85" height="6.87" fill="#212121"/><rect x="87.27" y="261.01" width="6.85" height="6.87" fill="#0d0d0d"/><rect x="93.82" y="261.01" width="6.85" height="6.87" fill="#393939"/><rect x="100.37" y="261.01" width="6.85" height="6.87" fill="#393939"/><rect x="106.92" y="261.01" width="6.85" height="6.87" fill="#0d0d0d"/><rect x="120.03" y="261.01" width="6.85" height="6.87" fill="#393939"/><rect x="126.58" y="261.01" width="6.85" height="6.87" fill="#ffffff"/><rect x="133.14" y="261.01" width="6.85" height="6.87" fill="#393939"/><rect x="139.69" y="261.01" width="6.85" height="6.87" fill="#b5b5b5"/><rect x="146.24" y="261.01" width="6.85" height="6.87" fill="#d9d9d9"/><rect x="152.80" y="261.01" width="6.85" height="6.87" fill="#555555"/><rect x="159.35" y="261.01" width="6.85" height="6.87" fill="#212121"/><rect x="165.90" y="261.01" width="6.85" height="6.87" fill="#939393"/><rect x="172.46" y="261.01" width="6.85" height="6.87" fill="#0d0d0d"/><rect x="179.01" y="261.01" width="6.85" height="6.87" fill="#b5b5b5"/><rect x="185.56" y="261.01" width="6.85" height="6.87" fill="#b5b5b5"/><rect x="192.12" y="261.01" width="6.85" height="6.87" fill="#b5b5b5"/><rect x="198.67" y="261.01" width="6.85" height="6.87" fill="#0d0d0d"/><rect x="205.22" y="261.01" width="6.85" height="6.87" fill="#737373"/><rect x="218.33" y="261.01" width="6.85" height="6.87" fill="#0d0d0d"/><rect x="224.88" y="261.01" width="6.85" height="6.87" fill="#0d0d0d"/><rect x="67.61" y="267.58" width="6.85" height="6.87" fill="#212121"/><rect x="74.16" y="267.58" width="6.85" height="6.87" fill="#212121"/><rect x="80.71" y="267.58" width="6.85" height="6.87" fill="#555555"/><rect x="87.27" y="267.58" width="6.85" height="6.87" fill="#0d0d0d"/><rect x="106.92" y="267.58" width="6.85" height="6.87" fill="#212121"/><rect x="113.48" y="267.58" width="6.85" height="6.87" fill="#0d0d0d"/><rect x="120.03" y="267.58" width="6.85" height="6.87" fill="#555555"/><rect x="126.58" y="267.58" width="6.85" height="6.87" fill="#b5b5b5"/><rect x="133.14" y="267.58" width="6.85" height="6.87" fill="#737373"/><rect x="139.69" y="267.58" width="6.85" height="6.87" fill="#ffffff"/><rect x="146.24" y="267.58" width="6.85" height="6.87" fill="#212121"/><rect x="152.80" y="267.58" width="6.85" height="6.87" fill="#ffffff"/><rect x="159.35" y="267.58" width="6.85" height="6.87" fill="#d9d9d9"/><rect x="165.90" y="267.58" width="6.85" height="6.87" fill="#d9d9d9"/><rect x="172.46" y="267.58" width="6.85" height="6.87" fill="#555555"/><rect x="179.01" y="267.58" width="6.85" height="6.87" fill="#b5b5b5"/><rect x="185.56" y="267.58" width="6.85" height="6.87" fill="#ffffff"/><rect x="192.12" y="267.58" width="6.85" height="6.87" fill="#d9d9d9"/><rect x="198.67" y="267.58" width="6.85" height="6.87" fill="#393939"/><rect x="224.88" y="267.58" width="6.85" height="6.87" fill="#737373"/><rect x="251.09" y="267.58" width="6.85" height="6.87" fill="#212121"/><rect x="54.50" y="274.15" width="6.85" height="6.87" fill="#555555"/><rect x="61.05" y="274.15" width="6.85" height="6.87" fill="#0d0d0d"/><rect x="67.61" y="274.15" width="6.85" height="6.87" fill="#212121"/><rect x="93.82" y="274.15" width="6.85" height="6.87" fill="#0d0d0d"/><rect x="106.92" y="274.15" width="6.85" height="6.87" fill="#555555"/><rect x="120.03" y="274.15" width="6.85" height="6.87" fill="#d9d9d9"/><rect x="126.58" y="274.15" width="6.85" height="6.87" fill="#939393"/><rect x="133.14" y="274.15" width="6.85" height="6.87" fill="#d9d9d9"/><rect x="139.69" y="274.15" width="6.85" height="6.87" fill="#555555"/><rect x="146.24" y="274.15" width="6.85" height="6.87" fill="#b5b5b5"/><rect x="152.80" y="274.15" width="6.85" height="6.87" fill="#737373"/><rect x="159.35" y="274.15" width="6.85" height="6.87" fill="#d9d9d9"/><rect x="165.90" y="274.15" width="6.85" height="6.87" fill="#d9d9d9"/><rect x="172.46" y="274.15" width="6.85" height="6.87" fill="#555555"/><rect x="179.01" y="274.15" width="6.85" height="6.87" fill="#555555"/><rect x="185.56" y="274.15" width="6.85" height="6.87" fill="#939393"/><rect x="192.12" y="274.15" width="6.85" height="6.87" fill="#393939"/><rect x="198.67" y="274.15" width="6.85" height="6.87" fill="#212121"/><rect x="211.77" y="274.15" width="6.85" height="6.87" fill="#0d0d0d"/><rect x="224.88" y="274.15" width="6.85" height="6.87" fill="#0d0d0d"/><rect x="237.99" y="274.15" width="6.85" height="6.87" fill="#393939"/><rect x="257.65" y="274.15" width="6.85" height="6.87" fill="#0d0d0d"/><rect x="54.50" y="280.73" width="6.85" height="6.87" fill="#0d0d0d"/><rect x="61.05" y="280.73" width="6.85" height="6.87" fill="#0d0d0d"/><rect x="80.71" y="280.73" width="6.85" height="6.87" fill="#0d0d0d"/><rect x="120.03" y="280.73" width="6.85" height="6.87" fill="#939393"/><rect x="126.58" y="280.73" width="6.85" height="6.87" fill="#939393"/><rect x="133.14" y="280.73" width="6.85" height="6.87" fill="#ffffff"/><rect x="139.69" y="280.73" width="6.85" height="6.87" fill="#737373"/><rect x="146.24" y="280.73" width="6.85" height="6.87" fill="#ffffff"/><rect x="152.80" y="280.73" width="6.85" height="6.87" fill="#ffffff"/><rect x="159.35" y="280.73" width="6.85" height="6.87" fill="#555555"/><rect x="165.90" y="280.73" width="6.85" height="6.87" fill="#939393"/><rect x="172.46" y="280.73" width="6.85" height="6.87" fill="#b5b5b5"/><rect x="179.01" y="280.73" width="6.85" height="6.87" fill="#737373"/><rect x="185.56" y="280.73" width="6.85" height="6.87" fill="#212121"/><rect x="192.12" y="280.73" width="6.85" height="6.87" fill="#393939"/><rect x="211.77" y="280.73" width="6.85" height="6.87" fill="#939393"/><rect x="237.99" y="280.73" width="6.85" height="6.87" fill="#0d0d0d"/><rect x="251.09" y="280.73" width="6.85" height="6.87" fill="#0d0d0d"/><rect x="257.65" y="280.73" width="6.85" height="6.87" fill="#0d0d0d"/><rect x="87.27" y="287.30" width="6.85" height="6.87" fill="#393939"/><rect x="113.48" y="287.30" width="6.85" height="6.87" fill="#0d0d0d"/><rect x="120.03" y="287.30" width="6.85" height="6.87" fill="#393939"/><rect x="126.58" y="287.30" width="6.85" height="6.87" fill="#737373"/><rect x="133.14" y="287.30" width="6.85" height="6.87" fill="#393939"/><rect x="139.69" y="287.30" width="6.85" height="6.87" fill="#393939"/><rect x="146.24" y="287.30" width="6.85" height="6.87" fill="#939393"/><rect x="152.80" y="287.30" width="6.85" height="6.87" fill="#555555"/><rect x="159.35" y="287.30" width="6.85" height="6.87" fill="#939393"/><rect x="165.90" y="287.30" width="6.85" height="6.87" fill="#737373"/><rect x="172.46" y="287.30" width="6.85" height="6.87" fill="#0d0d0d"/><rect x="198.67" y="287.30" width="6.85" height="6.87" fill="#0d0d0d"/><rect x="211.77" y="287.30" width="6.85" height="6.87" fill="#0d0d0d"/><rect x="218.33" y="287.30" width="6.85" height="6.87" fill="#212121"/><rect x="224.88" y="287.30" width="6.85" height="6.87" fill="#0d0d0d"/><rect x="237.99" y="287.30" width="6.85" height="6.87" fill="#0d0d0d"/><rect x="257.65" y="287.30" width="6.85" height="6.87" fill="#0d0d0d"/><rect x="61.05" y="293.87" width="6.85" height="6.87" fill="#0d0d0d"/><rect x="87.27" y="293.87" width="6.85" height="6.87" fill="#737373"/><rect x="93.82" y="293.87" width="6.85" height="6.87" fill="#b5b5b5"/><rect x="100.37" y="293.87" width="6.85" height="6.87" fill="#0d0d0d"/><rect x="106.92" y="293.87" width="6.85" height="6.87" fill="#0d0d0d"/><rect x="113.48" y="293.87" width="6.85" height="6.87" fill="#393939"/><rect x="126.58" y="293.87" width="6.85" height="6.87" fill="#212121"/><rect x="139.69" y="293.87" width="6.85" height="6.87" fill="#0d0d0d"/><rect x="146.24" y="293.87" width="6.85" height="6.87" fill="#555555"/><rect x="159.35" y="293.87" width="6.85" height="6.87" fill="#212121"/><rect x="172.46" y="293.87" width="6.85" height="6.87" fill="#737373"/><rect x="179.01" y="293.87" width="6.85" height="6.87" fill="#212121"/><rect x="185.56" y="293.87" width="6.85" height="6.87" fill="#0d0d0d"/><rect x="198.67" y="293.87" width="6.85" height="6.87" fill="#555555"/><rect x="61.05" y="300.44" width="6.85" height="6.87" fill="#393939"/><rect x="80.71" y="300.44" width="6.85" height="6.87" fill="#0d0d0d"/><rect x="93.82" y="300.44" width="6.85" height="6.87" fill="#212121"/><rect x="120.03" y="300.44" width="6.85" height="6.87" fill="#0d0d0d"/><rect x="126.58" y="300.44" width="6.85" height="6.87" fill="#737373"/><rect x="133.14" y="300.44" width="6.85" height="6.87" fill="#737373"/><rect x="139.69" y="300.44" width="6.85" height="6.87" fill="#212121"/><rect x="152.80" y="300.44" width="6.85" height="6.87" fill="#0d0d0d"/><rect x="159.35" y="300.44" width="6.85" height="6.87" fill="#212121"/><rect x="165.90" y="300.44" width="6.85" height="6.87" fill="#212121"/><rect x="179.01" y="300.44" width="6.85" height="6.87" fill="#212121"/><rect x="192.12" y="300.44" width="6.85" height="6.87" fill="#737373"/><rect x="218.33" y="300.44" width="6.85" height="6.87" fill="#0d0d0d"/><rect x="237.99" y="300.44" width="6.85" height="6.87" fill="#555555"/><rect x="251.09" y="300.44" width="6.85" height="6.87" fill="#0d0d0d"/><rect x="257.65" y="300.44" width="6.85" height="6.87" fill="#939393"/><rect x="54.50" y="307.01" width="6.85" height="6.87" fill="#0d0d0d"/><rect x="67.61" y="307.01" width="6.85" height="6.87" fill="#212121"/><rect x="87.27" y="307.01" width="6.85" height="6.87" fill="#939393"/><rect x="93.82" y="307.01" width="6.85" height="6.87" fill="#393939"/><rect x="106.92" y="307.01" width="6.85" height="6.87" fill="#555555"/><rect x="113.48" y="307.01" width="6.85" height="6.87" fill="#0d0d0d"/><rect x="126.58" y="307.01" width="6.85" height="6.87" fill="#737373"/><rect x="146.24" y="307.01" width="6.85" height="6.87" fill="#212121"/><rect x="152.80" y="307.01" width="6.85" height="6.87" fill="#212121"/><rect x="198.67" y="307.01" width="6.85" height="6.87" fill="#0d0d0d"/><rect x="218.33" y="307.01" width="6.85" height="6.87" fill="#393939"/><rect x="224.88" y="307.01" width="6.85" height="6.87" fill="#555555"/><rect x="231.43" y="307.01" width="6.85" height="6.87" fill="#0d0d0d"/><rect x="244.54" y="307.01" width="6.85" height="6.87" fill="#0d0d0d"/><rect x="257.65" y="307.01" width="6.85" height="6.87" fill="#555555"/><rect x="54.50" y="313.58" width="6.85" height="6.87" fill="#212121"/><rect x="61.05" y="313.58" width="6.85" height="6.87" fill="#0d0d0d"/><rect x="87.27" y="313.58" width="6.85" height="6.87" fill="#737373"/><rect x="93.82" y="313.58" width="6.85" height="6.87" fill="#0d0d0d"/><rect x="100.37" y="313.58" width="6.85" height="6.87" fill="#212121"/><rect x="133.14" y="313.58" width="6.85" height="6.87" fill="#737373"/><rect x="146.24" y="313.58" width="6.85" height="6.87" fill="#555555"/><rect x="159.35" y="313.58" width="6.85" height="6.87" fill="#212121"/><rect x="165.90" y="313.58" width="6.85" height="6.87" fill="#0d0d0d"/><rect x="185.56" y="313.58" width="6.85" height="6.87" fill="#555555"/><rect x="198.67" y="313.58" width="6.85" height="6.87" fill="#393939"/><rect x="205.22" y="313.58" width="6.85" height="6.87" fill="#0d0d0d"/><rect x="211.77" y="313.58" width="6.85" height="6.87" fill="#0d0d0d"/><rect x="218.33" y="313.58" width="6.85" height="6.87" fill="#212121"/><rect x="224.88" y="313.58" width="6.85" height="6.87" fill="#555555"/><rect x="244.54" y="313.58" width="6.85" height="6.87" fill="#212121"/><rect x="251.09" y="313.58" width="6.85" height="6.87" fill="#0d0d0d"/><rect x="67.61" y="320.16" width="6.85" height="6.87" fill="#939393"/><rect x="74.16" y="320.16" width="6.85" height="6.87" fill="#555555"/><rect x="100.37" y="320.16" width="6.85" height="6.87" fill="#393939"/><rect x="106.92" y="320.16" width="6.85" height="6.87" fill="#737373"/><rect x="120.03" y="320.16" width="6.85" height="6.87" fill="#212121"/><rect x="126.58" y="320.16" width="6.85" height="6.87" fill="#0d0d0d"/><rect x="146.24" y="320.16" width="6.85" height="6.87" fill="#0d0d0d"/><rect x="159.35" y="320.16" width="6.85" height="6.87" fill="#0d0d0d"/><rect x="165.90" y="320.16" width="6.85" height="6.87" fill="#0d0d0d"/><rect x="192.12" y="320.16" width="6.85" height="6.87" fill="#555555"/><rect x="211.77" y="320.16" width="6.85" height="6.87" fill="#737373"/><rect x="224.88" y="320.16" width="6.85" height="6.87" fill="#0d0d0d"/><rect x="237.99" y="320.16" width="6.85" height="6.87" fill="#939393"/><rect x="257.65" y="320.16" width="6.85" height="6.87" fill="#212121"/><rect x="61.05" y="326.73" width="6.85" height="6.87" fill="#393939"/><rect x="80.71" y="326.73" width="6.85" height="6.87" fill="#212121"/><rect x="93.82" y="326.73" width="6.85" height="6.87" fill="#0d0d0d"/><rect x="106.92" y="326.73" width="6.85" height="6.87" fill="#737373"/><rect x="139.69" y="326.73" width="6.85" height="6.87" fill="#737373"/><rect x="152.80" y="326.73" width="6.85" height="6.87" fill="#0d0d0d"/><rect x="159.35" y="326.73" width="6.85" height="6.87" fill="#212121"/><rect x="165.90" y="326.73" width="6.85" height="6.87" fill="#212121"/><rect x="211.77" y="326.73" width="6.85" height="6.87" fill="#393939"/><rect x="244.54" y="326.73" width="6.85" height="6.87" fill="#555555"/><rect x="257.65" y="326.73" width="6.85" height="6.87" fill="#212121"/></g>
<line x1="264.40" y1="228.20" x2="313.40" y2="228.20" stroke="#000" stroke-width="2.6" />
<polygon points="312.40,220.50 332.80,228.20 312.40,235.90" fill="#000"/>
<rect x="334.0" y="191.5" width="152.5" height="72.8" fill="#fff" stroke="#000" stroke-width="3.1"/>
<line x1="488.00" y1="228.20" x2="536.20" y2="228.20" stroke="#000" stroke-width="2.6" />
<polygon points="535.20,220.50 555.60,228.20 535.20,235.90" fill="#000"/>
<rect x="555.4" y="147.1" width="161.8" height="161.9" rx="4.5" fill="#f2f2f2"/>
<ellipse cx="636.40" cy="226.80" rx="71.03" ry="30.51" transform="rotate(149.24,636.40,226.80)" fill="#b4b4b4"/>
<ellipse cx="636.40" cy="226.80" rx="52.21" ry="22.43" transform="rotate(149.24,636.40,226.80)" fill="#9b9b9b"/>
<ellipse cx="636.40" cy="226.80" rx="34.80" ry="14.95" transform="rotate(149.24,636.40,226.80)" fill="#707070"/>
<ellipse cx="636.40" cy="226.80" rx="17.05" ry="7.32" transform="rotate(149.24,636.40,226.80)" fill="#454545"/>
<line x1="716.80" y1="228.20" x2="850.50" y2="228.20" stroke="#000" stroke-width="3.4" stroke-dasharray="13.4 9.8"/>
<polygon points="850.2,220.5 870.6,228.2 850.2,235.9" fill="#000"/>
<line x1="906.80" y1="228.40" x2="956.40" y2="228.40" stroke="#000" stroke-width="2.6" />
<polygon points="955.40,220.70 975.80,228.40 955.40,236.10" fill="#000"/>
<rect x="977.3" y="191.5" width="153.1" height="73.0" fill="#fff" stroke="#000" stroke-width="3.0"/>
<line x1="1131.70" y1="228.20" x2="1178.80" y2="228.20" stroke="#000" stroke-width="2.6" />
<polygon points="1177.80,220.50 1198.20,228.20 1177.80,235.90" fill="#000"/>
<text x="321.91" y="167.10" font-family='"DejaVu Sans", sans-serif' font-weight="normal" font-style="normal" font-size="26.40" fill="#000">DNN encoder</text>
<text x="965.21" y="167.10" font-family='"DejaVu Sans", sans-serif' font-weight="normal" font-style="normal" font-size="26.40" fill="#000">DNN decoder</text>
<text x="731.58" y="209.80" font-family='"DejaVu Sans", sans-serif' font-weight="normal" font-style="normal" font-size="26.30" fill="#000">sample</text>
<text transform="translate(396.20,236.93) scale(1.0662,1)" font-family='"Liberation Serif", serif' font-weight="normal" font-style="italic" font-size="51.02" fill="#000" >q</text>
<text transform="translate(1041.43,245.10) scale(1.0687,1)" font-family='"Liberation Serif", serif' font-weight="normal" font-style="italic" font-size="48.56" fill="#000" >h</text>
<text transform="translate(140.38,386.50) scale(1.1418,1)" font-family='"Liberation Serif", serif' font-weight="bold" font-style="italic" font-size="49.89" fill="#000" >x</text>
<text transform="translate(875.20,241.20) scale(1.1525,1)" font-family='"Liberation Serif", serif' font-weight="bold" font-style="italic" font-size="58.82" fill="#000" >z</text>
<text transform="translate(1291.17,390.50) scale(1.1682,1)" font-family='"Liberation Serif", serif' font-weight="bold" font-style="italic" font-size="47.71" fill="#000" >x</text>
<text transform="translate(1298.12,370.32) scale(1.1624,1)" font-family='"Liberation Serif", serif' font-weight="normal" font-style="normal" font-size="25.60" fill="#000" stroke="#000" stroke-width="0.9" stroke-linejoin="round">~</text>
<text transform="translate(562.66,355.92) scale(1.0534,1)" font-family='"Liberation Serif", serif' font-weight="normal" font-style="italic" font-size="50.15" fill="#000" >q</text>
<text transform="translate(591.86,355.75) scale(0.8387,1)" font-family='"Liberation Serif", serif' font-weight="normal" font-style="normal" font-size="57.99" fill="#000" >(</text>
<text transform="translate(614.09,355.70) scale(1.1249,1)" font-family='"Liberation Serif", serif' font-weight="bold" font-style="italic" font-size="53.59" fill="#000" >z</text>
<text transform="translate(645.20,355.61) scale(0.6228,1)" font-family='"Liberation Serif", serif' font-weight="normal" font-style="normal" font-size="57.80" fill="#000" >|</text>
<text transform="translate(658.43,355.70) scale(1.1505,1)" font-family='"Liberation Serif", serif' font-weight="bold" font-style="italic" font-size="52.72" fill="#000" >x</text>
<text transform="translate(692.11,355.75) scale(0.8051,1)" font-family='"Liberation Serif", serif' font-weight="normal" font-style="normal" font-size="57.99" fill="#000" >)</text>
<defs><linearGradient id="hmb" gradientUnits="userSpaceOnUse" x1="0" y1="-7.0" x2="0" y2="7.0"><stop offset="0.0000" stop-color="#fde725"/><stop offset="0.1214" stop-color="#f8e621"/><stop offset="0.1786" stop-color="#f1e51d"/><stop offset="0.2214" stop-color="#e5e419"/><stop offset="0.2536" stop-color="#d8e219"/><stop offset="0.2821" stop-color="#c2df23"/><stop offset="0.3071" stop-color="#aadc32"/><stop offset="0.3286" stop-color="#90d743"/><stop offset="0.3464" stop-color="#75d054"/><stop offset="0.3629" stop-color="#5ac864"/><stop offset="0.3786" stop-color="#3fbc73"/><stop offset="0.3929" stop-color="#2ab07f"/><stop offset="0.4050" stop-color="#20a386"/><stop offset="0.4164" stop-color="#1f968b"/><stop offset="0.4271" stop-color="#23898e"/><stop offset="0.4371" stop-color="#297b8e"/><stop offset="0.4464" stop-color="#2e6e8e"/><stop offset="0.4550" stop-color="#34618d"/><stop offset="0.4629" stop-color="#3a538b"/><stop offset="0.4700" stop-color="#404588"/><stop offset="0.4764" stop-color="#453882"/><stop offset="0.4821" stop-color="#472c7a"/><stop offset="0.4879" stop-color="#481f70"/><stop offset="0.4929" stop-color="#471365"/><stop offset="0.4964" stop-color="#460a5d"/><stop offset="0.5000" stop-color="#440154"/><stop offset="0.5036" stop-color="#460a5d"/><stop offset="0.5071" stop-color="#471365"/><stop offset="0.5121" stop-color="#481f70"/><stop offset="0.5179" stop-color="#472c7a"/><stop offset="0.5236" stop-color="#453882"/><stop offset="0.5300" stop-color="#404588"/><stop offset="0.5371" stop-color="#3a538b"/><stop offset="0.5450" stop-color="#34618d"/><stop offset="0.5536" stop-color="#2e6e8e"/><stop offset="0.5629" stop-color="#297b8e"/><stop offset="0.5729" stop-color="#23898e"/><stop offset="0.5836" stop-color="#1f968b"/><stop offset="0.5950" stop-color="#20a386"/><stop offset="0.6071" stop-color="#2ab07f"/><stop offset="0.6214" stop-color="#3fbc73"/><stop offset="0.6371" stop-color="#5ac864"/><stop offset="0.6536" stop-color="#75d054"/><stop offset="0.6714" stop-color="#90d743"/><stop offset="0.6929" stop-color="#aadc32"/><stop offset="0.7179" stop-color="#c2df23"/><stop offset="0.7464" stop-color="#d8e219"/><stop offset="0.7786" stop-color="#e5e419"/><stop offset="0.8214" stop-color="#f1e51d"/><stop offset="0.8786" stop-color="#f8e621"/><stop offset="1.0000" stop-color="#fde725"/></linearGradient>
<linearGradient id="hs0" href="#hmb" gradientTransform="scale(1,109.455)"/><linearGradient id="hs1" href="#hmb" gradientTransform="scale(1,105.386)"/><linearGradient id="hs2" href="#hmb" gradientTransform="scale(1,101.609)"/><linearGradient id="hs3" href="#hmb" gradientTransform="scale(1,98.094)"/><linearGradient id="hs4" href="#hmb" gradientTransform="scale(1,94.813)"/><linearGradient id="hs5" href="#hmb" gradientTransform="scale(1,91.745)"/><linearGradient id="hs6" href="#hmb" gradientTransform="scale(1,88.869)"/><linearGradient id="hs7" href="#hmb" gradientTransform="scale(1,86.168)"/><linearGradient id="hs8" href="#hmb" gradientTransform="scale(1,83.626)"/><linearGradient id="hs9" href="#hmb" gradientTransform="scale(1,81.230)"/><linearGradient id="hs10" href="#hmb" gradientTransform="scale(1,78.968)"/><linearGradient id="hs11" href="#hmb" gradientTransform="scale(1,76.828)"/><linearGradient id="hs12" href="#hmb" gradientTransform="scale(1,74.801)"/><linearGradient id="hs13" href="#hmb" gradientTransform="scale(1,72.878)"/><linearGradient id="hs14" href="#hmb" gradientTransform="scale(1,71.051)"/><linearGradient id="hs15" href="#hmb" gradientTransform="scale(1,69.314)"/><linearGradient id="hs16" href="#hmb" gradientTransform="scale(1,67.660)"/><linearGradient id="hs17" href="#hmb" gradientTransform="scale(1,66.083)"/><linearGradient id="hs18" href="#hmb" gradientTransform="scale(1,64.578)"/><linearGradient id="hs19" href="#hmb" gradientTransform="scale(1,63.139)"/><linearGradient id="hs20" href="#hmb" gradientTransform="scale(1,61.764)"/><linearGradient id="hs21" href="#hmb" gradientTransform="scale(1,60.447)"/><linearGradient id="hs22" href="#hmb" gradientTransform="scale(1,59.185)"/><linearGradient id="hs23" href="#hmb" gradientTransform="scale(1,57.975)"/><linearGradient id="hs24" href="#hmb" gradientTransform="scale(1,56.813)"/><linearGradient id="hs25" href="#hmb" gradientTransform="scale(1,55.697)"/><linearGradient id="hs26" href="#hmb" gradientTransform="scale(1,54.624)"/><linearGradient id="hs27" href="#hmb" gradientTransform="scale(1,53.591)"/><linearGradient id="hs28" href="#hmb" gradientTransform="scale(1,52.597)"/><linearGradient id="hs29" href="#hmb" gradientTransform="scale(1,51.639)"/><linearGradient id="hs30" href="#hmb" gradientTransform="scale(1,50.715)"/><linearGradient id="hs31" href="#hmb" gradientTransform="scale(1,49.824)"/><linearGradient id="hs32" href="#hmb" gradientTransform="scale(1,48.963)"/><linearGradient id="hs33" href="#hmb" gradientTransform="scale(1,48.132)"/><linearGradient id="hs34" href="#hmb" gradientTransform="scale(1,47.329)"/><linearGradient id="hs35" href="#hmb" gradientTransform="scale(1,46.552)"/><linearGradient id="hs36" href="#hmb" gradientTransform="scale(1,45.800)"/><linearGradient id="hs37" href="#hmb" gradientTransform="scale(1,45.071)"/><linearGradient id="hs38" href="#hmb" gradientTransform="scale(1,44.366)"/><linearGradient id="hs39" href="#hmb" gradientTransform="scale(1,43.683)"/><linearGradient id="hs40" href="#hmb" gradientTransform="scale(1,43.020)"/><linearGradient id="hs41" href="#hmb" gradientTransform="scale(1,42.377)"/><linearGradient id="hs42" href="#hmb" gradientTransform="scale(1,41.753)"/><linearGradient id="hs43" href="#hmb" gradientTransform="scale(1,41.147)"/><linearGradient id="hs44" href="#hmb" gradientTransform="scale(1,40.558)"/><linearGradient id="hs45" href="#hmb" gradientTransform="scale(1,39.986)"/><linearGradient id="hs46" href="#hmb" gradientTransform="scale(1,39.430)"/><linearGradient id="hs47" href="#hmb" gradientTransform="scale(1,38.889)"/><linearGradient id="hs48" href="#hmb" gradientTransform="scale(1,38.363)"/><linearGradient id="hs49" href="#hmb" gradientTransform="scale(1,37.851)"/><linearGradient id="hs50" href="#hmb" gradientTransform="scale(1,37.352)"/><linearGradient id="hs51" href="#hmb" gradientTransform="scale(1,36.866)"/><linearGradient id="hs52" href="#hmb" gradientTransform="scale(1,36.393)"/><linearGradient id="hs53" href="#hmb" gradientTransform="scale(1,35.932)"/><linearGradient id="hs54" href="#hmb" gradientTransform="scale(1,35.482)"/><linearGradient id="hs55" href="#hmb" gradientTransform="scale(1,35.043)"/><linearGradient id="hs56" href="#hmb" gradientTransform="scale(1,34.616)"/><linearGradient id="hs57" href="#hmb" gradientTransform="scale(1,34.198)"/><linearGradient id="hs58" href="#hmb" gradientTransform="scale(1,33.790)"/><linearGradient id="hs59" href="#hmb" gradientTransform="scale(1,33.392)"/><linearGradient id="hs60" href="#hmb" gradientTransform="scale(1,33.004)"/><linearGradient id="hs61" href="#hmb" gradientTransform="scale(1,32.624)"/><linearGradient id="hs62" href="#hmb" gradientTransform="scale(1,32.253)"/><linearGradient id="hs63" href="#hmb" gradientTransform="scale(1,31.890)"/><linearGradient id="hs64" href="#hmb" gradientTransform="scale(1,31.535)"/><linearGradient id="hs65" href="#hmb" gradientTransform="scale(1,31.188)"/><linearGradient id="hs66" href="#hmb" gradientTransform="scale(1,30.849)"/><linearGradient id="hs67" href="#hmb" gradientTransform="scale(1,30.517)"/><linearGradient id="hs68" href="#hmb" gradientTransform="scale(1,30.192)"/><linearGradient id="hs69" href="#hmb" gradientTransform="scale(1,29.874)"/><linearGradient id="hs70" href="#hmb" gradientTransform="scale(1,29.562)"/><linearGradient id="hs71" href="#hmb" gradientTransform="scale(1,29.257)"/><linearGradient id="hs72" href="#hmb" gradientTransform="scale(1,28.958)"/><linearGradient id="hs73" href="#hmb" gradientTransform="scale(1,28.666)"/><linearGradient id="hs74" href="#hmb" gradientTransform="scale(1,28.379)"/><linearGradient id="hs75" href="#hmb" gradientTransform="scale(1,28.097)"/><linearGradient id="hs76" href="#hmb" gradientTransform="scale(1,27.822)"/><linearGradient id="hs77" href="#hmb" gradientTransform="scale(1,27.551)"/><linearGradient id="hs78" href="#hmb" gradientTransform="scale(1,27.286)"/><linearGradient id="hs79" href="#hmb" gradientTransform="scale(1,27.026)"/><linearGradient id="hs80" href="#hmb" gradientTransform="scale(1,26.771)"/><linearGradient id="hs81" href="#hmb" gradientTransform="scale(1,26.520)"/><linearGradient id="hs82" href="#hmb" gradientTransform="scale(1,26.275)"/><linearGradient id="hs83" href="#hmb" gradientTransform="scale(1,26.033)"/><linearGradient id="hs84" href="#hmb" gradientTransform="scale(1,25.796)"/><linearGradient id="hs85" href="#hmb" gradientTransform="scale(1,25.564)"/><linearGradient id="hs86" href="#hmb" gradientTransform="scale(1,25.335)"/><linearGradient id="hs87" href="#hmb" gradientTransform="scale(1,25.111)"/>
<linearGradient id="cb" x1="0" y1="0" x2="0" y2="1"><stop offset="0.000" stop-color="#fde725"/><stop offset="0.010" stop-color="#f8e621"/><stop offset="0.020" stop-color="#f1e51d"/><stop offset="0.030" stop-color="#ece51b"/><stop offset="0.040" stop-color="#e5e419"/><stop offset="0.050" stop-color="#dfe318"/><stop offset="0.060" stop-color="#d8e219"/><stop offset="0.070" stop-color="#d2e21b"/><stop offset="0.080" stop-color="#cae11f"/><stop offset="0.090" stop-color="#c2df23"/><stop offset="0.100" stop-color="#bddf26"/><stop offset="0.110" stop-color="#b5de2b"/><stop offset="0.120" stop-color="#b0dd2f"/><stop offset="0.130" stop-color="#a8db34"/><stop offset="0.140" stop-color="#a2da37"/><stop offset="0.150" stop-color="#9bd93c"/><stop offset="0.160" stop-color="#95d840"/><stop offset="0.170" stop-color="#8ed645"/><stop offset="0.180" stop-color="#86d549"/><stop offset="0.190" stop-color="#81d34d"/><stop offset="0.200" stop-color="#7ad151"/><stop offset="0.210" stop-color="#75d054"/><stop offset="0.220" stop-color="#6ece58"/><stop offset="0.230" stop-color="#69cd5b"/><stop offset="0.240" stop-color="#63cb5f"/><stop offset="0.250" stop-color="#5ec962"/><stop offset="0.260" stop-color="#58c765"/><stop offset="0.270" stop-color="#52c569"/><stop offset="0.280" stop-color="#4ec36b"/><stop offset="0.290" stop-color="#48c16e"/><stop offset="0.300" stop-color="#44bf70"/><stop offset="0.310" stop-color="#3fbc73"/><stop offset="0.320" stop-color="#3bbb75"/><stop offset="0.330" stop-color="#37b878"/><stop offset="0.340" stop-color="#32b67a"/><stop offset="0.350" stop-color="#2fb47c"/><stop offset="0.360" stop-color="#2cb17e"/><stop offset="0.370" stop-color="#29af7f"/><stop offset="0.380" stop-color="#26ad81"/><stop offset="0.390" stop-color="#25ab82"/><stop offset="0.400" stop-color="#22a884"/><stop offset="0.410" stop-color="#21a685"/><stop offset="0.420" stop-color="#20a386"/><stop offset="0.430" stop-color="#1fa188"/><stop offset="0.440" stop-color="#1f9f88"/><stop offset="0.450" stop-color="#1e9c89"/><stop offset="0.460" stop-color="#1f9a8a"/><stop offset="0.470" stop-color="#1f978b"/><stop offset="0.480" stop-color="#1f958b"/><stop offset="0.490" stop-color="#20928c"/><stop offset="0.500" stop-color="#21918c"/><stop offset="0.510" stop-color="#218e8d"/><stop offset="0.520" stop-color="#228b8d"/><stop offset="0.530" stop-color="#23898e"/><stop offset="0.540" stop-color="#24868e"/><stop offset="0.550" stop-color="#25848e"/><stop offset="0.560" stop-color="#26828e"/><stop offset="0.570" stop-color="#27808e"/><stop offset="0.580" stop-color="#287d8e"/><stop offset="0.590" stop-color="#297a8e"/><stop offset="0.600" stop-color="#2a788e"/><stop offset="0.610" stop-color="#2b758e"/><stop offset="0.620" stop-color="#2c738e"/><stop offset="0.630" stop-color="#2d718e"/><stop offset="0.640" stop-color="#2e6f8e"/><stop offset="0.650" stop-color="#2f6c8e"/><stop offset="0.660" stop-color="#306a8e"/><stop offset="0.670" stop-color="#31678e"/><stop offset="0.680" stop-color="#32648e"/><stop offset="0.690" stop-color="#33628d"/><stop offset="0.700" stop-color="#355f8d"/><stop offset="0.710" stop-color="#365d8d"/><stop offset="0.720" stop-color="#375a8c"/><stop offset="0.730" stop-color="#38588c"/><stop offset="0.740" stop-color="#3a548c"/><stop offset="0.750" stop-color="#3b528b"/><stop offset="0.760" stop-color="#3c4f8a"/><stop offset="0.770" stop-color="#3e4c8a"/><stop offset="0.780" stop-color="#3e4989"/><stop offset="0.790" stop-color="#404688"/><stop offset="0.800" stop-color="#414487"/><stop offset="0.810" stop-color="#424086"/><stop offset="0.820" stop-color="#433e85"/><stop offset="0.830" stop-color="#443a83"/><stop offset="0.840" stop-color="#453781"/><stop offset="0.850" stop-color="#463480"/><stop offset="0.860" stop-color="#46307e"/><stop offset="0.870" stop-color="#472e7c"/><stop offset="0.880" stop-color="#472a7a"/><stop offset="0.890" stop-color="#482878"/><stop offset="0.900" stop-color="#482475"/><stop offset="0.910" stop-color="#482173"/><stop offset="0.920" stop-color="#481d6f"/><stop offset="0.930" stop-color="#481a6c"/><stop offset="0.940" stop-color="#481769"/><stop offset="0.950" stop-color="#471365"/><stop offset="0.960" stop-color="#471063"/><stop offset="0.970" stop-color="#460b5e"/><stop offset="0.980" stop-color="#46085c"/><stop offset="0.990" stop-color="#450457"/><stop offset="1.000" stop-color="#440154"/></linearGradient>
<clipPath id="hmclip"><rect x="1561.5" y="46.8" width="362.0" height="361.59999999999997"/></clipPath></defs>
<g clip-path="url(#hmclip)"><g transform="translate(1742.50,227.60) rotate(-45)"><rect x="-262.0" y="-262" width="6.8" height="524" fill="url(#hs0)"/><rect x="-256.0" y="-262" width="6.8" height="524" fill="url(#hs1)"/><rect x="-250.0" y="-262" width="6.8" height="524" fill="url(#hs2)"/><rect x="-244.0" y="-262" width="6.8" height="524" fill="url(#hs3)"/><rect x="-238.0" y="-262" width="6.8" height="524" fill="url(#hs4)"/><rect x="-232.0" y="-262" width="6.8" height="524" fill="url(#hs5)"/><rect x="-226.0" y="-262" width="6.8" height="524" fill="url(#hs6)"/><rect x="-220.0" y="-262" width="6.8" height="524" fill="url(#hs7)"/><rect x="-214.0" y="-262" width="6.8" height="524" fill="url(#hs8)"/><rect x="-208.0" y="-262" width="6.8" height="524" fill="url(#hs9)"/><rect x="-202.0" y="-262" width="6.8" height="524" fill="url(#hs10)"/><rect x="-196.0" y="-262" width="6.8" height="524" fill="url(#hs11)"/><rect x="-190.0" y="-262" width="6.8" height="524" fill="url(#hs12)"/><rect x="-184.0" y="-262" width="6.8" height="524" fill="url(#hs13)"/><rect x="-178.0" y="-262" width="6.8" height="524" fill="url(#hs14)"/><rect x="-172.0" y="-262" width="6.8" height="524" fill="url(#hs15)"/><rect x="-166.0" y="-262" width="6.8" height="524" fill="url(#hs16)"/><rect x="-160.0" y="-262" width="6.8" height="524" fill="url(#hs17)"/><rect x="-154.0" y="-262" width="6.8" height="524" fill="url(#hs18)"/><rect x="-148.0" y="-262" width="6.8" height="524" fill="url(#hs19)"/><rect x="-142.0" y="-262" width="6.8" height="524" fill="url(#hs20)"/><rect x="-136.0" y="-262" width="6.8" height="524" fill="url(#hs21)"/><rect x="-130.0" y="-262" width="6.8" height="524" fill="url(#hs22)"/><rect x="-124.0" y="-262" width="6.8" height="524" fill="url(#hs23)"/><rect x="-118.0" y="-262" width="6.8" height="524" fill="url(#hs24)"/><rect x="-112.0" y="-262" width="6.8" height="524" fill="url(#hs25)"/><rect x="-106.0" y="-262" width="6.8" height="524" fill="url(#hs26)"/><rect x="-100.0" y="-262" width="6.8" height="524" fill="url(#hs27)"/><rect x="-94.0" y="-262" width="6.8" height="524" fill="url(#hs28)"/><rect x="-88.0" y="-262" width="6.8" height="524" fill="url(#hs29)"/><rect x="-82.0" y="-262" width="6.8" height="524" fill="url(#hs30)"/><rect x="-76.0" y="-262" width="6.8" height="524" fill="url(#hs31)"/><rect x="-70.0" y="-262" width="6.8" height="524" fill="url(#hs32)"/><rect x="-64.0" y="-262" width="6.8" height="524" fill="url(#hs33)"/><rect x="-58.0" y="-262" width="6.8" height="524" fill="url(#hs34)"/><rect x="-52.0" y="-262" width="6.8" height="524" fill="url(#hs35)"/><rect x="-46.0" y="-262" width="6.8" height="524" fill="url(#hs36)"/><rect x="-40.0" y="-262" width="6.8" height="524" fill="url(#hs37)"/><rect x="-34.0" y="-262" width="6.8" height="524" fill="url(#hs38)"/><rect x="-28.0" y="-262" width="6.8" height="524" fill="url(#hs39)"/><rect x="-22.0" y="-262" width="6.8" height="524" fill="url(#hs40)"/><rect x="-16.0" y="-262" width="6.8" height="524" fill="url(#hs41)"/><rect x="-10.0" y="-262" width="6.8" height="524" fill="url(#hs42)"/><rect x="-4.0" y="-262" width="6.8" height="524" fill="url(#hs43)"/><rect x="2.0" y="-262" width="6.8" height="524" fill="url(#hs44)"/><rect x="8.0" y="-262" width="6.8" height="524" fill="url(#hs45)"/><rect x="14.0" y="-262" width="6.8" height="524" fill="url(#hs46)"/><rect x="20.0" y="-262" width="6.8" height="524" fill="url(#hs47)"/><rect x="26.0" y="-262" width="6.8" height="524" fill="url(#hs48)"/><rect x="32.0" y="-262" width="6.8" height="524" fill="url(#hs49)"/><rect x="38.0" y="-262" width="6.8" height="524" fill="url(#hs50)"/><rect x="44.0" y="-262" width="6.8" height="524" fill="url(#hs51)"/><rect x="50.0" y="-262" width="6.8" height="524" fill="url(#hs52)"/><rect x="56.0" y="-262" width="6.8" height="524" fill="url(#hs53)"/><rect x="62.0" y="-262" width="6.8" height="524" fill="url(#hs54)"/><rect x="68.0" y="-262" width="6.8" height="524" fill="url(#hs55)"/><rect x="74.0" y="-262" width="6.8" height="524" fill="url(#hs56)"/><rect x="80.0" y="-262" width="6.8" height="524" fill="url(#hs57)"/><rect x="86.0" y="-262" width="6.8" height="524" fill="url(#hs58)"/><rect x="92.0" y="-262" width="6.8" height="524" fill="url(#hs59)"/><rect x="98.0" y="-262" width="6.8" height="524" fill="url(#hs60)"/><rect x="104.0" y="-262" width="6.8" height="524" fill="url(#hs61)"/><rect x="110.0" y="-262" width="6.8" height="524" fill="url(#hs62)"/><rect x="116.0" y="-262" width="6.8" height="524" fill="url(#hs63)"/><rect x="122.0" y="-262" width="6.8" height="524" fill="url(#hs64)"/><rect x="128.0" y="-262" width="6.8" height="524" fill="url(#hs65)"/><rect x="134.0" y="-262" width="6.8" height="524" fill="url(#hs66)"/><rect x="140.0" y="-262" width="6.8" height="524" fill="url(#hs67)"/><rect x="146.0" y="-262" width="6.8" height="524" fill="url(#hs68)"/><rect x="152.0" y="-262" width="6.8" height="524" fill="url(#hs69)"/><rect x="158.0" y="-262" width="6.8" height="524" fill="url(#hs70)"/><rect x="164.0" y="-262" width="6.8" height="524" fill="url(#hs71)"/><rect x="170.0" y="-262" width="6.8" height="524" fill="url(#hs72)"/><rect x="176.0" y="-262" width="6.8" height="524" fill="url(#hs73)"/><rect x="182.0" y="-262" width="6.8" height="524" fill="url(#hs74)"/><rect x="188.0" y="-262" width="6.8" height="524" fill="url(#hs75)"/><rect x="194.0" y="-262" width="6.8" height="524" fill="url(#hs76)"/><rect x="200.0" y="-262" width="6.8" height="524" fill="url(#hs77)"/><rect x="206.0" y="-262" width="6.8" height="524" fill="url(#hs78)"/><rect x="212.0" y="-262" width="6.8" height="524" fill="url(#hs79)"/><rect x="218.0" y="-262" width="6.8" height="524" fill="url(#hs80)"/><rect x="224.0" y="-262" width="6.8" height="524" fill="url(#hs81)"/><rect x="230.0" y="-262" width="6.8" height="524" fill="url(#hs82)"/><rect x="236.0" y="-262" width="6.8" height="524" fill="url(#hs83)"/><rect x="242.0" y="-262" width="6.8" height="524" fill="url(#hs84)"/><rect x="248.0" y="-262" width="6.8" height="524" fill="url(#hs85)"/><rect x="254.0" y="-262" width="6.8" height="524" fill="url(#hs86)"/><rect x="260.0" y="-262" width="6.8" height="524" fill="url(#hs87)"/></g></g>
<g clip-path="url(#hmclip)"><ellipse cx="1682.20" cy="209.20" rx="40.81" ry="27.06" transform="rotate(108.83,1682.20,209.20)" fill="none" stroke="#000" stroke-width="1.6"/><ellipse cx="1682.20" cy="209.20" rx="81.62" ry="54.12" transform="rotate(108.83,1682.20,209.20)" fill="none" stroke="#000" stroke-width="1.6"/><ellipse cx="1682.20" cy="209.20" rx="122.43" ry="81.18" transform="rotate(108.83,1682.20,209.20)" fill="none" stroke="#000" stroke-width="1.6"/></g>
<g clip-path="url(#hmclip)"><ellipse cx="1760.90" cy="288.50" rx="40.99" ry="27.07" transform="rotate(161.39,1760.90,288.50)" fill="none" stroke="#000" stroke-width="1.6"/><ellipse cx="1760.90" cy="288.50" rx="81.99" ry="54.15" transform="rotate(161.39,1760.90,288.50)" fill="none" stroke="#000" stroke-width="1.6"/><ellipse cx="1760.90" cy="288.50" rx="122.98" ry="81.22" transform="rotate(161.39,1760.90,288.50)" fill="none" stroke="#000" stroke-width="1.6"/></g>
<rect x="1561.5" y="46.8" width="362.00" height="361.60" fill="none" stroke="#000" stroke-width="1.3"/>
<line x1="1601.72" y1="408.40" x2="1601.72" y2="413.60" stroke="#000" stroke-width="1.3" />
<line x1="1561.50" y1="368.22" x2="1556.30" y2="368.22" stroke="#000" stroke-width="1.3" />
<line x1="1682.17" y1="408.40" x2="1682.17" y2="413.60" stroke="#000" stroke-width="1.3" />
<line x1="1561.50" y1="287.87" x2="1556.30" y2="287.87" stroke="#000" stroke-width="1.3" />
<line x1="1762.61" y1="408.40" x2="1762.61" y2="413.60" stroke="#000" stroke-width="1.3" />
<line x1="1561.50" y1="207.51" x2="1556.30" y2="207.51" stroke="#000" stroke-width="1.3" />
<line x1="1843.06" y1="408.40" x2="1843.06" y2="413.60" stroke="#000" stroke-width="1.3" />
<line x1="1561.50" y1="127.16" x2="1556.30" y2="127.16" stroke="#000" stroke-width="1.3" />
<line x1="1923.50" y1="408.40" x2="1923.50" y2="413.60" stroke="#000" stroke-width="1.3" />
<line x1="1561.50" y1="46.80" x2="1556.30" y2="46.80" stroke="#000" stroke-width="1.3" />
<text x="1590.70" y="436.00" font-family='"DejaVu Sans", sans-serif' font-weight="normal" font-style="normal" font-size="22.10" fill="#000">-1</text>
<text x="1530.06" y="376.92" font-family='"DejaVu Sans", sans-serif' font-weight="normal" font-style="normal" font-size="22.10" fill="#000">-1</text>
<text x="1675.14" y="436.00" font-family='"DejaVu Sans", sans-serif' font-weight="normal" font-style="normal" font-size="22.10" fill="#000">0</text>
<text x="1538.04" y="296.57" font-family='"DejaVu Sans", sans-serif' font-weight="normal" font-style="normal" font-size="22.10" fill="#000">0</text>
<text x="1755.58" y="436.00" font-family='"DejaVu Sans", sans-serif' font-weight="normal" font-style="normal" font-size="22.10" fill="#000">1</text>
<text x="1538.04" y="216.21" font-family='"DejaVu Sans", sans-serif' font-weight="normal" font-style="normal" font-size="22.10" fill="#000">1</text>
<text x="1836.03" y="436.00" font-family='"DejaVu Sans", sans-serif' font-weight="normal" font-style="normal" font-size="22.10" fill="#000">2</text>
<text x="1538.04" y="135.86" font-family='"DejaVu Sans", sans-serif' font-weight="normal" font-style="normal" font-size="22.10" fill="#000">2</text>
<text x="1916.47" y="436.00" font-family='"DejaVu Sans", sans-serif' font-weight="normal" font-style="normal" font-size="22.10" fill="#000">3</text>
<text x="1538.04" y="55.50" font-family='"DejaVu Sans", sans-serif' font-weight="normal" font-style="normal" font-size="22.10" fill="#000">3</text>
<text x="1593.07" y="38.60" font-family='"DejaVu Sans", sans-serif' font-weight="normal" font-style="normal" font-size="27.90" fill="#000">Latent ideal observer</text>
<text x="1586.88" y="134.30" font-family='"DejaVu Sans", sans-serif' font-weight="normal" font-style="normal" font-size="24.50" fill="#000">s1</text>
<text x="1828.58" y="375.80" font-family='"DejaVu Sans", sans-serif' font-weight="normal" font-style="normal" font-size="24.50" fill="#000">s2</text>
<text transform="translate(1730.43,464.55)" font-family='"DejaVu Sans", sans-serif' font-weight="normal" font-style="oblique" font-size="24.13" fill="#000" >z</text>
<text transform="translate(1743.47,468.75)" font-family='"DejaVu Sans", sans-serif' font-weight="normal" font-style="normal" font-size="16.85" fill="#000" >2</text>
<text transform="translate(1518.55,240.16) rotate(-90)" font-family='"DejaVu Sans", sans-serif' font-weight="normal" font-style="oblique" font-size="24.31" fill="#000" >z</text>
<text transform="translate(1522.45,227.02) rotate(-90)" font-family='"DejaVu Sans", sans-serif' font-weight="normal" font-style="normal" font-size="16.87" fill="#000" >1</text>
<rect x="1952.0" y="46.9" width="17.60" height="362.30" fill="url(#cb)" stroke="#000" stroke-width="1.3"/>
<line x1="1969.60" y1="409.20" x2="1974.80" y2="409.20" stroke="#000" stroke-width="1.3" />
<text x="1979.10" y="418.20" font-family='"DejaVu Sans", sans-serif' font-weight="normal" font-style="normal" font-size="22.10" fill="#000">0.5</text>
<line x1="1969.60" y1="336.74" x2="1974.80" y2="336.74" stroke="#000" stroke-width="1.3" />
<text x="1979.10" y="345.74" font-family='"DejaVu Sans", sans-serif' font-weight="normal" font-style="normal" font-size="22.10" fill="#000">0.6</text>
<line x1="1969.60" y1="264.28" x2="1974.80" y2="264.28" stroke="#000" stroke-width="1.3" />
<text x="1979.10" y="273.28" font-family='"DejaVu Sans", sans-serif' font-weight="normal" font-style="normal" font-size="22.10" fill="#000">0.7</text>
<line x1="1969.60" y1="191.82" x2="1974.80" y2="191.82" stroke="#000" stroke-width="1.3" />
<text x="1979.10" y="200.82" font-family='"DejaVu Sans", sans-serif' font-weight="normal" font-style="normal" font-size="22.10" fill="#000">0.8</text>
<line x1="1969.60" y1="119.36" x2="1974.80" y2="119.36" stroke="#000" stroke-width="1.3" />
<text x="1979.10" y="128.36" font-family='"DejaVu Sans", sans-serif' font-weight="normal" font-style="normal" font-size="22.10" fill="#000">0.9</text>
<line x1="1969.60" y1="46.90" x2="1974.80" y2="46.90" stroke="#000" stroke-width="1.3" />
<text x="1979.10" y="55.90" font-family='"DejaVu Sans", sans-serif' font-weight="normal" font-style="normal" font-size="22.10" fill="#000">1</text>
<text transform="translate(2039.95,298.15) rotate(-90)" font-family='"DejaVu Sans", sans-serif' font-weight="normal" font-style="normal" font-size="25.07" fill="#000" >Confidence</text>
<line x1="108.00" y1="619.70" x2="108.00" y2="947.60" stroke="#000" stroke-width="1.3" />
<line x1="554.00" y1="619.70" x2="554.00" y2="947.60" stroke="#000" stroke-width="1.3" />
<line x1="108.00" y1="947.00" x2="554.00" y2="947.00" stroke="#000" stroke-width="1.3" />
<line x1="108.00" y1="947.00" x2="102.80" y2="947.00" stroke="#000" stroke-width="1.3" />
<line x1="554.00" y1="947.00" x2="559.20" y2="947.00" stroke="#000" stroke-width="1.3" />
<text x="79.61" y="958.10" font-family='"DejaVu Sans", sans-serif' font-weight="normal" font-style="normal" font-size="28.90" fill="#000">0</text>
<text x="563.20" y="958.10" font-family='"DejaVu Sans", sans-serif' font-weight="normal" font-style="normal" font-size="28.90" fill="#000">0</text>
<line x1="108.00" y1="881.66" x2="102.80" y2="881.66" stroke="#000" stroke-width="1.3" />
<line x1="554.00" y1="881.66" x2="559.20" y2="881.66" stroke="#000" stroke-width="1.3" />
<text x="52.04" y="892.76" font-family='"DejaVu Sans", sans-serif' font-weight="normal" font-style="normal" font-size="28.90" fill="#000">0.2</text>
<text x="563.20" y="892.76" font-family='"DejaVu Sans", sans-serif' font-weight="normal" font-style="normal" font-size="28.90" fill="#000">0.2</text>
<line x1="108.00" y1="816.32" x2="102.80" y2="816.32" stroke="#000" stroke-width="1.3" />
<line x1="554.00" y1="816.32" x2="559.20" y2="816.32" stroke="#000" stroke-width="1.3" />
<text x="52.04" y="827.42" font-family='"DejaVu Sans", sans-serif' font-weight="normal" font-style="normal" font-size="28.90" fill="#000">0.4</text>
<text x="563.20" y="827.42" font-family='"DejaVu Sans", sans-serif' font-weight="normal" font-style="normal" font-size="28.90" fill="#000">0.4</text>
<line x1="108.00" y1="750.98" x2="102.80" y2="750.98" stroke="#000" stroke-width="1.3" />
<line x1="554.00" y1="750.98" x2="559.20" y2="750.98" stroke="#000" stroke-width="1.3" />
<text x="52.04" y="762.08" font-family='"DejaVu Sans", sans-serif' font-weight="normal" font-style="normal" font-size="28.90" fill="#000">0.6</text>
<text x="563.20" y="762.08" font-family='"DejaVu Sans", sans-serif' font-weight="normal" font-style="normal" font-size="28.90" fill="#000">0.6</text>
<line x1="108.00" y1="685.64" x2="102.80" y2="685.64" stroke="#000" stroke-width="1.3" />
<line x1="554.00" y1="685.64" x2="559.20" y2="685.64" stroke="#000" stroke-width="1.3" />
<text x="52.04" y="696.74" font-family='"DejaVu Sans", sans-serif' font-weight="normal" font-style="normal" font-size="28.90" fill="#000">0.8</text>
<text x="563.20" y="696.74" font-family='"DejaVu Sans", sans-serif' font-weight="normal" font-style="normal" font-size="28.90" fill="#000">0.8</text>
<line x1="108.00" y1="620.30" x2="102.80" y2="620.30" stroke="#000" stroke-width="1.3" />
<line x1="554.00" y1="620.30" x2="559.20" y2="620.30" stroke="#000" stroke-width="1.3" />
<text x="79.61" y="631.40" font-family='"DejaVu Sans", sans-serif' font-weight="normal" font-style="normal" font-size="28.90" fill="#000">1</text>
<text x="563.20" y="631.40" font-family='"DejaVu Sans", sans-serif' font-weight="normal" font-style="normal" font-size="28.90" fill="#000">1</text>
<line x1="157.50" y1="947.00" x2="157.50" y2="952.20" stroke="#000" stroke-width="1.3" />
<text x="129.04" y="979.00" font-family='"DejaVu Sans", sans-serif' font-weight="normal" font-style="normal" font-size="28.90" fill="#000">Low</text>
<line x1="256.70" y1="947.00" x2="256.70" y2="952.20" stroke="#000" stroke-width="1.3" />
<text x="223.49" y="979.00" font-family='"DejaVu Sans", sans-serif' font-weight="normal" font-style="normal" font-size="28.90" fill="#000">High</text>
<line x1="405.10" y1="947.00" x2="405.10" y2="952.20" stroke="#000" stroke-width="1.3" />
<text x="376.64" y="979.00" font-family='"DejaVu Sans", sans-serif' font-weight="normal" font-style="normal" font-size="28.90" fill="#000">Low</text>
<line x1="504.10" y1="947.00" x2="504.10" y2="952.20" stroke="#000" stroke-width="1.3" />
<text x="470.89" y="979.00" font-family='"DejaVu Sans", sans-serif' font-weight="normal" font-style="normal" font-size="28.90" fill="#000">High</text>
<text transform="translate(204.05,591.82)" font-family='"DejaVu Sans", sans-serif' font-weight="normal" font-style="normal" font-size="42.90" fill="#000" >PE bias (v1)</text>
<text transform="translate(40.54,862.23) rotate(-90)" font-family='"DejaVu Sans", sans-serif' font-weight="normal" font-style="normal" font-size="31.39" fill="#000" >P(Correct)</text>
<text transform="translate(639.32,871.71) rotate(-90)" font-family='"DejaVu Sans", sans-serif' font-weight="normal" font-style="normal" font-size="31.42" fill="#000" >Confidence</text>
<text transform="translate(193.26,1014.23)" font-family='"DejaVu Sans", sans-serif' font-weight="normal" font-style="normal" font-size="31.57" fill="#000" >Positive evidence</text>
<line x1="107.80" y1="783.50" x2="331.50" y2="783.50" stroke="#000" stroke-width="2.2" stroke-dasharray="2.15 3.56"/>
<path d="M 151.65,653.40 L 151.45,653.90 L 151.19,654.58 L 150.89,655.38 L 150.54,656.27 L 150.17,657.21 L 149.78,658.16 L 149.39,659.07 L 149.00,659.90 L 148.63,660.67 L 148.27,661.44 L 147.91,662.19 L 147.53,662.94 L 147.12,663.68 L 146.66,664.42 L 146.12,665.16 L 145.50,665.90 L 144.78,666.64 L 143.99,667.38 L 143.12,668.12 L 142.20,668.85 L 141.24,669.58 L 140.26,670.32 L 139.28,671.06 L 138.30,671.80 L 137.30,672.55 L 136.26,673.30 L 135.19,674.05 L 134.11,674.80 L 133.04,675.55 L 131.98,676.30 L 130.96,677.05 L 130.00,677.80 L 129.07,678.54 L 128.16,679.28 L 127.26,680.02 L 126.40,680.75 L 125.57,681.48 L 124.79,682.22 L 124.07,682.96 L 123.40,683.70 L 122.80,684.45 L 122.26,685.20 L 121.78,685.95 L 121.34,686.70 L 120.94,687.45 L 120.57,688.20 L 120.23,688.95 L 119.90,689.70 L 119.60,690.46 L 119.33,691.24 L 119.10,692.02 L 118.89,692.80 L 118.71,693.56 L 118.56,694.29 L 118.42,694.97 L 118.30,695.60 L 118.20,696.15 L 118.12,696.63 L 118.06,697.07 L 118.02,697.47 L 118.01,697.86 L 118.02,698.27 L 118.05,698.71 L 118.10,699.20 L 118.17,699.74 L 118.25,700.29 L 118.35,700.86 L 118.47,701.46 L 118.62,702.07 L 118.81,702.69 L 119.03,703.34 L 119.30,704.00 L 119.61,704.68 L 119.97,705.40 L 120.36,706.13 L 120.79,706.88 L 121.25,707.63 L 121.74,708.39 L 122.26,709.15 L 122.80,709.90 L 123.37,710.65 L 123.98,711.40 L 124.61,712.15 L 125.28,712.90 L 125.97,713.65 L 126.69,714.40 L 127.43,715.15 L 128.20,715.90 L 129.01,716.64 L 129.87,717.38 L 130.76,718.12 L 131.68,718.85 L 132.60,719.58 L 133.52,720.32 L 134.42,721.06 L 135.30,721.80 L 136.15,722.55 L 137.00,723.30 L 137.84,724.05 L 138.68,724.80 L 139.50,725.55 L 140.31,726.30 L 141.11,727.05 L 141.90,727.80 L 142.69,728.54 L 143.49,729.28 L 144.29,730.02 L 145.07,730.75 L 145.83,731.48 L 146.55,732.22 L 147.21,732.96 L 147.80,733.70 L 148.33,734.45 L 148.81,735.20 L 149.23,735.95 L 149.62,736.70 L 149.96,737.45 L 150.27,738.20 L 150.55,738.95 L 150.80,739.70 L 151.01,740.44 L 151.16,741.18 L 151.28,741.92 L 151.36,742.65 L 151.43,743.38 L 151.48,744.12 L 151.53,744.86 L 151.60,745.60 L 151.67,746.35 L 151.72,747.10 L 151.77,747.85 L 151.81,748.60 L 151.85,749.35 L 151.90,750.10 L 151.94,750.85 L 152.00,751.60 L 152.06,752.34 L 152.12,753.08 L 152.18,753.82 L 152.25,754.55 L 152.32,755.28 L 152.40,756.02 L 152.49,756.76 L 152.60,757.50 L 152.72,758.25 L 152.84,759.02 L 152.98,759.80 L 153.12,760.58 L 153.28,761.34 L 153.44,762.09 L 153.62,762.81 L 153.80,763.50 L 154.00,764.17 L 154.21,764.82 L 154.44,765.46 L 154.68,766.07 L 154.92,766.66 L 155.16,767.22 L 155.39,767.73 L 155.60,768.20 L 155.81,768.63 L 156.03,769.02 L 156.25,769.37 L 156.46,769.69 L 156.66,769.98 L 156.84,770.22 L 156.99,770.43 L 157.10,770.60 L 158.10,770.60 L 158.21,770.43 L 158.36,770.22 L 158.54,769.98 L 158.74,769.69 L 158.95,769.37 L 159.17,769.02 L 159.39,768.63 L 159.60,768.20 L 159.81,767.73 L 160.04,767.22 L 160.28,766.66 L 160.52,766.07 L 160.76,765.46 L 160.99,764.82 L 161.20,764.17 L 161.40,763.50 L 161.58,762.81 L 161.76,762.09 L 161.92,761.34 L 162.07,760.58 L 162.22,759.80 L 162.36,759.02 L 162.48,758.25 L 162.60,757.50 L 162.71,756.76 L 162.80,756.02 L 162.88,755.28 L 162.95,754.55 L 163.02,753.82 L 163.08,753.08 L 163.14,752.34 L 163.20,751.60 L 163.26,750.85 L 163.30,750.10 L 163.35,749.35 L 163.39,748.60 L 163.43,747.85 L 163.48,747.10 L 163.53,746.35 L 163.60,745.60 L 163.67,744.86 L 163.72,744.12 L 163.77,743.38 L 163.84,742.65 L 163.92,741.92 L 164.04,741.18 L 164.19,740.44 L 164.40,739.70 L 164.65,738.95 L 164.93,738.20 L 165.24,737.45 L 165.58,736.70 L 165.97,735.95 L 166.39,735.20 L 166.87,734.45 L 167.40,733.70 L 167.99,732.96 L 168.65,732.22 L 169.37,731.48 L 170.12,730.75 L 170.91,730.02 L 171.71,729.28 L 172.51,728.54 L 173.30,727.80 L 174.09,727.05 L 174.89,726.30 L 175.70,725.55 L 176.52,724.80 L 177.36,724.05 L 178.20,723.30 L 179.05,722.55 L 179.90,721.80 L 180.78,721.06 L 181.68,720.32 L 182.60,719.58 L 183.52,718.85 L 184.44,718.12 L 185.33,717.38 L 186.19,716.64 L 187.00,715.90 L 187.77,715.15 L 188.51,714.40 L 189.23,713.65 L 189.92,712.90 L 190.59,712.15 L 191.22,711.40 L 191.83,710.65 L 192.40,709.90 L 192.94,709.15 L 193.46,708.39 L 193.95,707.63 L 194.41,706.88 L 194.84,706.13 L 195.23,705.40 L 195.59,704.68 L 195.90,704.00 L 196.17,703.34 L 196.39,702.69 L 196.58,702.07 L 196.73,701.46 L 196.85,700.86 L 196.95,700.29 L 197.03,699.74 L 197.10,699.20 L 197.15,698.71 L 197.18,698.27 L 197.19,697.86 L 197.18,697.47 L 197.14,697.07 L 197.08,696.63 L 197.00,696.15 L 196.90,695.60 L 196.78,694.97 L 196.64,694.29 L 196.49,693.56 L 196.31,692.80 L 196.10,692.02 L 195.87,691.24 L 195.60,690.46 L 195.30,689.70 L 194.97,688.95 L 194.63,688.20 L 194.26,687.45 L 193.86,686.70 L 193.42,685.95 L 192.94,685.20 L 192.40,684.45 L 191.80,683.70 L 191.13,682.96 L 190.41,682.22 L 189.63,681.48 L 188.80,680.75 L 187.94,680.02 L 187.04,679.28 L 186.13,678.54 L 185.20,677.80 L 184.24,677.05 L 183.22,676.30 L 182.16,675.55 L 181.09,674.80 L 180.01,674.05 L 178.94,673.30 L 177.90,672.55 L 176.90,671.80 L 175.92,671.06 L 174.94,670.32 L 173.96,669.58 L 173.00,668.85 L 172.08,668.12 L 171.21,667.38 L 170.42,666.64 L 169.70,665.90 L 169.08,665.16 L 168.54,664.42 L 168.08,663.68 L 167.67,662.94 L 167.29,662.19 L 166.93,661.44 L 166.57,660.67 L 166.20,659.90 L 165.81,659.07 L 165.42,658.16 L 165.03,657.21 L 164.66,656.27 L 164.31,655.38 L 164.01,654.58 L 163.75,653.90 L 163.55,653.40 Z" fill="#bfbfbf" stroke="none"/>
<line x1="157.60" y1="653.40" x2="157.60" y2="771.20" stroke="#808080" stroke-width="2.2" />
<line x1="137.80" y1="653.40" x2="177.40" y2="653.40" stroke="#808080" stroke-width="2.2" />
<line x1="137.80" y1="771.20" x2="177.40" y2="771.20" stroke="#808080" stroke-width="2.2" />
<circle cx="157.60" cy="701.80" r="5.0" fill="#808080"/>
<path d="M 252.20,657.80 L 252.18,658.26 L 252.16,658.87 L 252.15,659.60 L 252.12,660.41 L 252.07,661.26 L 251.99,662.12 L 251.87,662.95 L 251.70,663.70 L 251.49,664.40 L 251.27,665.09 L 251.01,665.77 L 250.72,666.44 L 250.38,667.10 L 249.99,667.77 L 249.53,668.43 L 249.00,669.10 L 248.39,669.77 L 247.71,670.43 L 246.97,671.09 L 246.17,671.75 L 245.32,672.41 L 244.44,673.07 L 243.53,673.73 L 242.60,674.40 L 241.62,675.07 L 240.58,675.74 L 239.49,676.42 L 238.37,677.09 L 237.24,677.77 L 236.12,678.45 L 235.04,679.12 L 234.00,679.80 L 233.00,680.48 L 232.00,681.15 L 231.01,681.83 L 230.05,682.51 L 229.11,683.18 L 228.20,683.86 L 227.33,684.53 L 226.50,685.20 L 225.71,685.87 L 224.95,686.53 L 224.22,687.19 L 223.53,687.85 L 222.87,688.51 L 222.25,689.17 L 221.66,689.83 L 221.10,690.50 L 220.58,691.17 L 220.10,691.85 L 219.65,692.52 L 219.23,693.20 L 218.85,693.88 L 218.50,694.55 L 218.18,695.23 L 217.90,695.90 L 217.64,696.57 L 217.39,697.23 L 217.17,697.89 L 216.98,698.55 L 216.84,699.21 L 216.76,699.87 L 216.74,700.53 L 216.80,701.20 L 216.93,701.87 L 217.11,702.54 L 217.35,703.22 L 217.64,703.89 L 218.01,704.57 L 218.43,705.25 L 218.93,705.92 L 219.50,706.60 L 220.15,707.28 L 220.89,707.95 L 221.70,708.63 L 222.57,709.31 L 223.50,709.98 L 224.47,710.66 L 225.47,711.33 L 226.50,712.00 L 227.58,712.67 L 228.74,713.33 L 229.95,713.99 L 231.20,714.65 L 232.46,715.31 L 233.71,715.97 L 234.93,716.63 L 236.10,717.30 L 237.24,717.97 L 238.40,718.65 L 239.54,719.32 L 240.66,720.00 L 241.75,720.68 L 242.80,721.35 L 243.78,722.03 L 244.70,722.70 L 245.55,723.37 L 246.35,724.03 L 247.10,724.69 L 247.81,725.35 L 248.46,726.01 L 249.06,726.67 L 249.60,727.33 L 250.10,728.00 L 250.53,728.67 L 250.89,729.35 L 251.18,730.02 L 251.43,730.70 L 251.65,731.38 L 251.84,732.05 L 252.02,732.73 L 252.20,733.40 L 252.38,734.07 L 252.53,734.73 L 252.66,735.39 L 252.78,736.05 L 252.88,736.71 L 252.97,737.37 L 253.04,738.03 L 253.10,738.70 L 253.15,739.37 L 253.18,740.04 L 253.20,740.72 L 253.20,741.39 L 253.19,742.07 L 253.17,742.75 L 253.14,743.42 L 253.10,744.10 L 253.04,744.78 L 252.94,745.45 L 252.83,746.13 L 252.71,746.81 L 252.59,747.48 L 252.49,748.16 L 252.43,748.83 L 252.40,749.50 L 252.42,750.17 L 252.46,750.83 L 252.52,751.49 L 252.61,752.15 L 252.72,752.81 L 252.84,753.47 L 252.96,754.13 L 253.10,754.80 L 253.25,755.48 L 253.42,756.18 L 253.61,756.89 L 253.81,757.60 L 254.02,758.30 L 254.22,758.97 L 254.42,759.61 L 254.60,760.20 L 254.78,760.76 L 254.96,761.31 L 255.13,761.83 L 255.31,762.32 L 255.47,762.78 L 255.63,763.20 L 255.77,763.57 L 255.90,763.90 L 256.01,764.17 L 256.11,764.38 L 256.20,764.55 L 256.28,764.68 L 256.35,764.78 L 256.41,764.86 L 256.46,764.93 L 256.50,765.00 L 256.90,765.00 L 256.94,764.93 L 256.99,764.86 L 257.05,764.78 L 257.12,764.68 L 257.20,764.55 L 257.29,764.38 L 257.39,764.17 L 257.50,763.90 L 257.63,763.57 L 257.77,763.20 L 257.93,762.78 L 258.09,762.32 L 258.27,761.83 L 258.44,761.31 L 258.62,760.76 L 258.80,760.20 L 258.98,759.61 L 259.18,758.97 L 259.38,758.30 L 259.59,757.60 L 259.79,756.89 L 259.98,756.18 L 260.15,755.48 L 260.30,754.80 L 260.44,754.13 L 260.56,753.47 L 260.68,752.81 L 260.79,752.15 L 260.88,751.49 L 260.94,750.83 L 260.98,750.17 L 261.00,749.50 L 260.97,748.83 L 260.91,748.16 L 260.81,747.48 L 260.69,746.81 L 260.57,746.13 L 260.46,745.45 L 260.36,744.78 L 260.30,744.10 L 260.26,743.42 L 260.23,742.75 L 260.21,742.07 L 260.20,741.39 L 260.20,740.72 L 260.22,740.04 L 260.25,739.37 L 260.30,738.70 L 260.36,738.03 L 260.43,737.37 L 260.52,736.71 L 260.62,736.05 L 260.74,735.39 L 260.87,734.73 L 261.02,734.07 L 261.20,733.40 L 261.38,732.73 L 261.56,732.05 L 261.75,731.38 L 261.97,730.70 L 262.22,730.02 L 262.51,729.35 L 262.87,728.67 L 263.30,728.00 L 263.80,727.33 L 264.34,726.67 L 264.94,726.01 L 265.59,725.35 L 266.30,724.69 L 267.05,724.03 L 267.85,723.37 L 268.70,722.70 L 269.62,722.03 L 270.60,721.35 L 271.65,720.68 L 272.74,720.00 L 273.86,719.32 L 275.00,718.65 L 276.16,717.97 L 277.30,717.30 L 278.47,716.63 L 279.69,715.97 L 280.94,715.31 L 282.20,714.65 L 283.45,713.99 L 284.66,713.33 L 285.82,712.67 L 286.90,712.00 L 287.93,711.33 L 288.93,710.66 L 289.90,709.98 L 290.83,709.31 L 291.70,708.63 L 292.51,707.95 L 293.25,707.28 L 293.90,706.60 L 294.47,705.92 L 294.97,705.25 L 295.39,704.57 L 295.76,703.89 L 296.05,703.22 L 296.29,702.54 L 296.47,701.87 L 296.60,701.20 L 296.66,700.53 L 296.64,699.87 L 296.56,699.21 L 296.42,698.55 L 296.23,697.89 L 296.01,697.23 L 295.76,696.57 L 295.50,695.90 L 295.22,695.23 L 294.90,694.55 L 294.55,693.88 L 294.17,693.20 L 293.75,692.52 L 293.30,691.85 L 292.82,691.17 L 292.30,690.50 L 291.74,689.83 L 291.15,689.17 L 290.53,688.51 L 289.87,687.85 L 289.18,687.19 L 288.45,686.53 L 287.69,685.87 L 286.90,685.20 L 286.07,684.53 L 285.20,683.86 L 284.29,683.18 L 283.35,682.51 L 282.39,681.83 L 281.40,681.15 L 280.40,680.48 L 279.40,679.80 L 278.36,679.12 L 277.28,678.45 L 276.16,677.77 L 275.03,677.09 L 273.91,676.42 L 272.82,675.74 L 271.78,675.07 L 270.80,674.40 L 269.87,673.73 L 268.96,673.07 L 268.08,672.41 L 267.23,671.75 L 266.43,671.09 L 265.69,670.43 L 265.01,669.77 L 264.40,669.10 L 263.87,668.43 L 263.41,667.77 L 263.02,667.10 L 262.68,666.44 L 262.39,665.77 L 262.13,665.09 L 261.91,664.40 L 261.70,663.70 L 261.53,662.95 L 261.41,662.12 L 261.33,661.26 L 261.28,660.41 L 261.25,659.60 L 261.24,658.87 L 261.22,658.26 L 261.20,657.80 Z" fill="#bfbfbf" stroke="none"/>
<line x1="256.70" y1="657.80" x2="256.70" y2="765.00" stroke="#808080" stroke-width="2.2" />
<line x1="236.90" y1="657.80" x2="276.50" y2="657.80" stroke="#808080" stroke-width="2.2" />
<line x1="236.90" y1="765.00" x2="276.50" y2="765.00" stroke="#808080" stroke-width="2.2" />
<circle cx="256.70" cy="701.80" r="5.0" fill="#808080"/>
<path d="M 404.20,712.80 L 404.11,712.87 L 404.00,712.96 L 403.86,713.06 L 403.71,713.18 L 403.54,713.32 L 403.35,713.49 L 403.13,713.68 L 402.90,713.90 L 402.65,714.16 L 402.37,714.45 L 402.08,714.77 L 401.77,715.11 L 401.43,715.47 L 401.08,715.85 L 400.70,716.22 L 400.30,716.60 L 399.89,716.98 L 399.48,717.38 L 399.05,717.79 L 398.59,718.21 L 398.10,718.64 L 397.56,719.06 L 396.97,719.48 L 396.30,719.90 L 395.54,720.31 L 394.70,720.73 L 393.80,721.14 L 392.85,721.55 L 391.88,721.96 L 390.90,722.37 L 389.93,722.79 L 389.00,723.20 L 388.08,723.61 L 387.15,724.03 L 386.21,724.44 L 385.27,724.85 L 384.36,725.26 L 383.46,725.68 L 382.61,726.09 L 381.80,726.50 L 381.03,726.91 L 380.29,727.33 L 379.57,727.74 L 378.89,728.15 L 378.24,728.56 L 377.62,728.98 L 377.04,729.39 L 376.50,729.80 L 376.01,730.21 L 375.56,730.62 L 375.15,731.04 L 374.77,731.45 L 374.42,731.86 L 374.10,732.27 L 373.79,732.69 L 373.50,733.10 L 373.23,733.51 L 373.00,733.93 L 372.80,734.34 L 372.62,734.75 L 372.45,735.16 L 372.27,735.58 L 372.10,735.99 L 371.90,736.40 L 371.69,736.81 L 371.48,737.23 L 371.27,737.64 L 371.05,738.05 L 370.83,738.46 L 370.62,738.87 L 370.41,739.29 L 370.20,739.70 L 370.00,740.11 L 369.80,740.53 L 369.60,740.94 L 369.40,741.35 L 369.20,741.76 L 369.00,742.18 L 368.80,742.59 L 368.60,743.00 L 368.39,743.41 L 368.16,743.83 L 367.93,744.24 L 367.71,744.65 L 367.48,745.06 L 367.27,745.48 L 367.07,745.89 L 366.90,746.30 L 366.75,746.71 L 366.61,747.12 L 366.48,747.54 L 366.37,747.95 L 366.27,748.36 L 366.17,748.77 L 366.08,749.19 L 366.00,749.60 L 365.91,750.02 L 365.82,750.44 L 365.72,750.87 L 365.64,751.29 L 365.57,751.71 L 365.54,752.12 L 365.55,752.52 L 365.60,752.90 L 365.68,753.26 L 365.76,753.60 L 365.87,753.93 L 366.01,754.24 L 366.21,754.56 L 366.48,754.87 L 366.84,755.18 L 367.30,755.50 L 367.88,755.82 L 368.57,756.15 L 369.36,756.47 L 370.21,756.79 L 371.11,757.12 L 372.04,757.44 L 372.98,757.77 L 373.90,758.10 L 374.83,758.43 L 375.80,758.75 L 376.80,759.08 L 377.81,759.41 L 378.83,759.74 L 379.84,760.08 L 380.84,760.43 L 381.80,760.80 L 382.75,761.18 L 383.69,761.58 L 384.63,761.99 L 385.56,762.41 L 386.47,762.84 L 387.35,763.26 L 388.20,763.68 L 389.00,764.10 L 389.77,764.51 L 390.51,764.93 L 391.23,765.34 L 391.91,765.75 L 392.56,766.16 L 393.18,766.58 L 393.76,766.99 L 394.30,767.40 L 394.79,767.82 L 395.24,768.24 L 395.64,768.67 L 396.01,769.09 L 396.35,769.51 L 396.67,769.92 L 396.99,770.32 L 397.30,770.70 L 397.61,771.06 L 397.90,771.41 L 398.18,771.74 L 398.44,772.06 L 398.69,772.38 L 398.91,772.69 L 399.12,772.99 L 399.30,773.30 L 399.45,773.62 L 399.58,773.95 L 399.69,774.29 L 399.77,774.61 L 399.85,774.92 L 399.90,775.19 L 399.95,775.42 L 400.00,775.60 L 410.40,775.60 L 410.45,775.42 L 410.50,775.19 L 410.55,774.92 L 410.62,774.61 L 410.71,774.29 L 410.82,773.95 L 410.95,773.62 L 411.10,773.30 L 411.28,772.99 L 411.49,772.69 L 411.71,772.38 L 411.96,772.06 L 412.22,771.74 L 412.50,771.41 L 412.79,771.06 L 413.10,770.70 L 413.41,770.32 L 413.73,769.92 L 414.05,769.51 L 414.39,769.09 L 414.76,768.67 L 415.16,768.24 L 415.61,767.82 L 416.10,767.40 L 416.64,766.99 L 417.22,766.58 L 417.84,766.16 L 418.49,765.75 L 419.17,765.34 L 419.89,764.93 L 420.63,764.51 L 421.40,764.10 L 422.20,763.68 L 423.05,763.26 L 423.93,762.84 L 424.84,762.41 L 425.77,761.99 L 426.71,761.58 L 427.65,761.18 L 428.60,760.80 L 429.56,760.43 L 430.56,760.08 L 431.57,759.74 L 432.59,759.41 L 433.60,759.08 L 434.60,758.75 L 435.57,758.43 L 436.50,758.10 L 437.42,757.77 L 438.36,757.44 L 439.29,757.12 L 440.19,756.79 L 441.04,756.47 L 441.82,756.15 L 442.52,755.82 L 443.10,755.50 L 443.56,755.18 L 443.92,754.87 L 444.19,754.56 L 444.39,754.24 L 444.53,753.93 L 444.64,753.60 L 444.72,753.26 L 444.80,752.90 L 444.85,752.52 L 444.86,752.12 L 444.83,751.71 L 444.76,751.29 L 444.68,750.87 L 444.58,750.44 L 444.49,750.02 L 444.40,749.60 L 444.32,749.19 L 444.23,748.77 L 444.13,748.36 L 444.03,747.95 L 443.92,747.54 L 443.79,747.12 L 443.65,746.71 L 443.50,746.30 L 443.33,745.89 L 443.13,745.48 L 442.92,745.06 L 442.69,744.65 L 442.47,744.24 L 442.24,743.83 L 442.01,743.41 L 441.80,743.00 L 441.60,742.59 L 441.40,742.18 L 441.20,741.76 L 441.00,741.35 L 440.80,740.94 L 440.60,740.53 L 440.40,740.11 L 440.20,739.70 L 439.99,739.29 L 439.78,738.87 L 439.57,738.46 L 439.35,738.05 L 439.13,737.64 L 438.92,737.23 L 438.71,736.81 L 438.50,736.40 L 438.30,735.99 L 438.13,735.58 L 437.95,735.16 L 437.78,734.75 L 437.60,734.34 L 437.40,733.93 L 437.17,733.51 L 436.90,733.10 L 436.61,732.69 L 436.30,732.27 L 435.98,731.86 L 435.63,731.45 L 435.25,731.04 L 434.84,730.62 L 434.39,730.21 L 433.90,729.80 L 433.36,729.39 L 432.78,728.98 L 432.16,728.56 L 431.51,728.15 L 430.83,727.74 L 430.11,727.33 L 429.37,726.91 L 428.60,726.50 L 427.79,726.09 L 426.94,725.68 L 426.04,725.26 L 425.12,724.85 L 424.19,724.44 L 423.25,724.03 L 422.32,723.61 L 421.40,723.20 L 420.47,722.79 L 419.50,722.37 L 418.52,721.96 L 417.55,721.55 L 416.60,721.14 L 415.70,720.73 L 414.86,720.31 L 414.10,719.90 L 413.43,719.48 L 412.84,719.06 L 412.30,718.64 L 411.81,718.21 L 411.35,717.79 L 410.92,717.38 L 410.51,716.98 L 410.10,716.60 L 409.70,716.22 L 409.32,715.85 L 408.97,715.47 L 408.63,715.11 L 408.32,714.77 L 408.03,714.45 L 407.75,714.16 L 407.50,713.90 L 407.27,713.68 L 407.05,713.49 L 406.86,713.32 L 406.69,713.18 L 406.54,713.06 L 406.40,712.96 L 406.29,712.87 L 406.20,712.80 Z" fill="#808080" stroke="none"/>
<line x1="405.20" y1="712.80" x2="405.20" y2="775.60" stroke="#000000" stroke-width="2.2" />
<line x1="385.40" y1="712.80" x2="425.00" y2="712.80" stroke="#000000" stroke-width="2.2" />
<line x1="385.40" y1="775.60" x2="425.00" y2="775.60" stroke="#000000" stroke-width="2.2" />
<circle cx="405.20" cy="745.50" r="5.0" fill="#000000"/>
<path d="M 498.30,678.00 L 498.15,678.05 L 497.99,678.10 L 497.81,678.16 L 497.58,678.23 L 497.30,678.34 L 496.95,678.49 L 496.52,678.71 L 496.00,679.00 L 495.36,679.38 L 494.60,679.84 L 493.75,680.37 L 492.84,680.94 L 491.89,681.54 L 490.93,682.15 L 489.99,682.74 L 489.10,683.30 L 488.23,683.84 L 487.35,684.38 L 486.47,684.91 L 485.59,685.45 L 484.72,685.99 L 483.86,686.52 L 483.02,687.06 L 482.20,687.60 L 481.40,688.14 L 480.62,688.68 L 479.85,689.21 L 479.09,689.75 L 478.35,690.29 L 477.62,690.83 L 476.91,691.36 L 476.20,691.90 L 475.50,692.44 L 474.81,692.98 L 474.13,693.51 L 473.47,694.05 L 472.82,694.59 L 472.19,695.12 L 471.58,695.66 L 471.00,696.20 L 470.44,696.74 L 469.89,697.28 L 469.36,697.81 L 468.86,698.35 L 468.37,698.89 L 467.92,699.43 L 467.49,699.96 L 467.10,700.50 L 466.74,701.04 L 466.40,701.59 L 466.10,702.15 L 465.82,702.70 L 465.57,703.25 L 465.35,703.78 L 465.16,704.30 L 465.00,704.80 L 464.86,705.28 L 464.75,705.73 L 464.65,706.18 L 464.59,706.61 L 464.57,707.03 L 464.59,707.45 L 464.67,707.87 L 464.80,708.30 L 464.98,708.72 L 465.20,709.14 L 465.45,709.54 L 465.76,709.95 L 466.13,710.36 L 466.55,710.79 L 467.04,711.23 L 467.60,711.70 L 468.24,712.19 L 468.96,712.71 L 469.74,713.25 L 470.58,713.79 L 471.48,714.35 L 472.42,714.90 L 473.39,715.46 L 474.40,716.00 L 475.46,716.54 L 476.61,717.08 L 477.80,717.61 L 479.04,718.15 L 480.28,718.69 L 481.53,719.23 L 482.74,719.76 L 483.90,720.30 L 485.04,720.84 L 486.17,721.38 L 487.31,721.91 L 488.42,722.45 L 489.50,722.99 L 490.55,723.52 L 491.56,724.06 L 492.50,724.60 L 493.39,725.14 L 494.24,725.68 L 495.05,726.21 L 495.82,726.75 L 496.55,727.29 L 497.24,727.83 L 497.89,728.36 L 498.50,728.90 L 499.07,729.44 L 499.60,729.98 L 500.09,730.51 L 500.54,731.05 L 500.96,731.59 L 501.34,732.12 L 501.68,732.66 L 502.00,733.20 L 502.28,733.74 L 502.51,734.28 L 502.71,734.81 L 502.87,735.35 L 503.00,735.89 L 503.12,736.43 L 503.21,736.96 L 503.30,737.50 L 503.37,738.04 L 503.40,738.58 L 503.42,739.11 L 503.41,739.65 L 503.39,740.19 L 503.37,740.73 L 503.33,741.26 L 503.30,741.80 L 503.27,742.34 L 503.23,742.87 L 503.18,743.41 L 503.13,743.94 L 503.07,744.48 L 502.99,745.02 L 502.90,745.56 L 502.80,746.10 L 502.67,746.65 L 502.53,747.20 L 502.36,747.75 L 502.19,748.30 L 502.01,748.85 L 501.83,749.40 L 501.66,749.95 L 501.50,750.50 L 501.35,751.04 L 501.20,751.58 L 501.05,752.12 L 500.91,752.66 L 500.77,753.19 L 500.64,753.73 L 500.51,754.26 L 500.40,754.80 L 500.30,755.34 L 500.20,755.90 L 500.11,756.45 L 500.03,757.01 L 499.96,757.55 L 499.90,758.09 L 499.84,758.61 L 499.80,759.10 L 499.77,759.59 L 499.76,760.09 L 499.76,760.59 L 499.76,761.07 L 499.77,761.51 L 499.79,761.91 L 499.80,762.24 L 499.80,762.50 L 508.80,762.50 L 508.80,762.24 L 508.81,761.91 L 508.83,761.51 L 508.84,761.07 L 508.84,760.59 L 508.84,760.09 L 508.83,759.59 L 508.80,759.10 L 508.76,758.61 L 508.70,758.09 L 508.64,757.55 L 508.57,757.01 L 508.49,756.45 L 508.40,755.90 L 508.30,755.34 L 508.20,754.80 L 508.09,754.26 L 507.96,753.73 L 507.83,753.19 L 507.69,752.66 L 507.55,752.12 L 507.40,751.58 L 507.25,751.04 L 507.10,750.50 L 506.94,749.95 L 506.77,749.40 L 506.59,748.85 L 506.41,748.30 L 506.24,747.75 L 506.07,747.20 L 505.93,746.65 L 505.80,746.10 L 505.70,745.56 L 505.61,745.02 L 505.53,744.48 L 505.47,743.94 L 505.42,743.41 L 505.37,742.87 L 505.33,742.34 L 505.30,741.80 L 505.27,741.26 L 505.23,740.73 L 505.21,740.19 L 505.19,739.65 L 505.18,739.11 L 505.20,738.58 L 505.23,738.04 L 505.30,737.50 L 505.39,736.96 L 505.48,736.43 L 505.60,735.89 L 505.73,735.35 L 505.89,734.81 L 506.09,734.28 L 506.32,733.74 L 506.60,733.20 L 506.92,732.66 L 507.26,732.12 L 507.64,731.59 L 508.06,731.05 L 508.51,730.51 L 509.00,729.98 L 509.53,729.44 L 510.10,728.90 L 510.71,728.36 L 511.36,727.83 L 512.05,727.29 L 512.78,726.75 L 513.55,726.21 L 514.36,725.68 L 515.21,725.14 L 516.10,724.60 L 517.04,724.06 L 518.05,723.52 L 519.10,722.99 L 520.18,722.45 L 521.29,721.91 L 522.43,721.38 L 523.56,720.84 L 524.70,720.30 L 525.86,719.76 L 527.08,719.23 L 528.32,718.69 L 529.56,718.15 L 530.80,717.61 L 531.99,717.08 L 533.14,716.54 L 534.20,716.00 L 535.21,715.46 L 536.18,714.90 L 537.12,714.35 L 538.02,713.79 L 538.86,713.25 L 539.64,712.71 L 540.36,712.19 L 541.00,711.70 L 541.56,711.23 L 542.05,710.79 L 542.47,710.36 L 542.84,709.95 L 543.15,709.54 L 543.40,709.14 L 543.62,708.72 L 543.80,708.30 L 543.93,707.87 L 544.01,707.45 L 544.03,707.03 L 544.01,706.61 L 543.95,706.18 L 543.85,705.73 L 543.74,705.28 L 543.60,704.80 L 543.44,704.30 L 543.25,703.78 L 543.03,703.25 L 542.78,702.70 L 542.50,702.15 L 542.20,701.59 L 541.86,701.04 L 541.50,700.50 L 541.11,699.96 L 540.68,699.43 L 540.23,698.89 L 539.74,698.35 L 539.24,697.81 L 538.71,697.28 L 538.16,696.74 L 537.60,696.20 L 537.02,695.66 L 536.41,695.12 L 535.78,694.59 L 535.13,694.05 L 534.47,693.51 L 533.79,692.98 L 533.10,692.44 L 532.40,691.90 L 531.69,691.36 L 530.98,690.83 L 530.25,690.29 L 529.51,689.75 L 528.75,689.21 L 527.98,688.68 L 527.20,688.14 L 526.40,687.60 L 525.58,687.06 L 524.74,686.52 L 523.88,685.99 L 523.01,685.45 L 522.13,684.91 L 521.25,684.38 L 520.37,683.84 L 519.50,683.30 L 518.61,682.74 L 517.67,682.15 L 516.71,681.54 L 515.76,680.94 L 514.85,680.37 L 514.00,679.84 L 513.24,679.38 L 512.60,679.00 L 512.08,678.71 L 511.65,678.49 L 511.30,678.34 L 511.02,678.23 L 510.79,678.16 L 510.61,678.10 L 510.45,678.05 L 510.30,678.00 Z" fill="#808080" stroke="none"/>
<line x1="504.30" y1="678.00" x2="504.30" y2="762.50" stroke="#000000" stroke-width="2.2" />
<line x1="484.50" y1="678.00" x2="524.10" y2="678.00" stroke="#000000" stroke-width="2.2" />
<line x1="484.50" y1="762.50" x2="524.10" y2="762.50" stroke="#000000" stroke-width="2.2" />
<circle cx="504.30" cy="707.40" r="5.0" fill="#000000"/>
<polyline points="157.60,647.40 157.60,639.80 256.70,639.80 256.70,647.40" fill="none" stroke="#000" stroke-width="2.1" />
<polyline points="405.20,670.20 405.20,662.30 504.30,662.30 504.30,670.20" fill="none" stroke="#000" stroke-width="2.1" />
<text x="190.72" y="629.80" font-family='"DejaVu Sans", sans-serif' font-weight="normal" font-style="normal" font-size="28.30" fill="#000">ns</text>
<text transform="translate(426.40,652.66)" font-family='"DejaVu Sans", sans-serif' font-weight="normal" font-style="normal" font-size="28.43" fill="#000" >****</text>
<line x1="784.00" y1="619.70" x2="784.00" y2="947.60" stroke="#000" stroke-width="1.3" />
<line x1="1230.00" y1="619.70" x2="1230.00" y2="947.60" stroke="#000" stroke-width="1.3" />
<line x1="784.00" y1="947.00" x2="1230.00" y2="947.00" stroke="#000" stroke-width="1.3" />
<line x1="784.00" y1="947.00" x2="778.80" y2="947.00" stroke="#000" stroke-width="1.3" />
<line x1="1230.00" y1="947.00" x2="1235.20" y2="947.00" stroke="#000" stroke-width="1.3" />
<text x="755.61" y="958.10" font-family='"DejaVu Sans", sans-serif' font-weight="normal" font-style="normal" font-size="28.90" fill="#000">0</text>
<text x="1239.20" y="958.10" font-family='"DejaVu Sans", sans-serif' font-weight="normal" font-style="normal" font-size="28.90" fill="#000">0</text>
<line x1="784.00" y1="881.66" x2="778.80" y2="881.66" stroke="#000" stroke-width="1.3" />
<line x1="1230.00" y1="881.66" x2="1235.20" y2="881.66" stroke="#000" stroke-width="1.3" />
<text x="728.04" y="892.76" font-family='"DejaVu Sans", sans-serif' font-weight="normal" font-style="normal" font-size="28.90" fill="#000">0.2</text>
<text x="1239.20" y="892.76" font-family='"DejaVu Sans", sans-serif' font-weight="normal" font-style="normal" font-size="28.90" fill="#000">0.2</text>
<line x1="784.00" y1="816.32" x2="778.80" y2="816.32" stroke="#000" stroke-width="1.3" />
<line x1="1230.00" y1="816.32" x2="1235.20" y2="816.32" stroke="#000" stroke-width="1.3" />
<text x="728.04" y="827.42" font-family='"DejaVu Sans", sans-serif' font-weight="normal" font-style="normal" font-size="28.90" fill="#000">0.4</text>
<text x="1239.20" y="827.42" font-family='"DejaVu Sans", sans-serif' font-weight="normal" font-style="normal" font-size="28.90" fill="#000">0.4</text>
<line x1="784.00" y1="750.98" x2="778.80" y2="750.98" stroke="#000" stroke-width="1.3" />
<line x1="1230.00" y1="750.98" x2="1235.20" y2="750.98" stroke="#000" stroke-width="1.3" />
<text x="728.04" y="762.08" font-family='"DejaVu Sans", sans-serif' font-weight="normal" font-style="normal" font-size="28.90" fill="#000">0.6</text>
<text x="1239.20" y="762.08" font-family='"DejaVu Sans", sans-serif' font-weight="normal" font-style="normal" font-size="28.90" fill="#000">0.6</text>
<line x1="784.00" y1="685.64" x2="778.80" y2="685.64" stroke="#000" stroke-width="1.3" />
<line x1="1230.00" y1="685.64" x2="1235.20" y2="685.64" stroke="#000" stroke-width="1.3" />
<text x="728.04" y="696.74" font-family='"DejaVu Sans", sans-serif' font-weight="normal" font-style="normal" font-size="28.90" fill="#000">0.8</text>
<text x="1239.20" y="696.74" font-family='"DejaVu Sans", sans-serif' font-weight="normal" font-style="normal" font-size="28.90" fill="#000">0.8</text>
<line x1="784.00" y1="620.30" x2="778.80" y2="620.30" stroke="#000" stroke-width="1.3" />
<line x1="1230.00" y1="620.30" x2="1235.20" y2="620.30" stroke="#000" stroke-width="1.3" />
<text x="755.61" y="631.40" font-family='"DejaVu Sans", sans-serif' font-weight="normal" font-style="normal" font-size="28.90" fill="#000">1</text>
<text x="1239.20" y="631.40" font-family='"DejaVu Sans", sans-serif' font-weight="normal" font-style="normal" font-size="28.90" fill="#000">1</text>
<line x1="833.50" y1="947.00" x2="833.50" y2="952.20" stroke="#000" stroke-width="1.3" />
<text x="805.04" y="979.00" font-family='"DejaVu Sans", sans-serif' font-weight="normal" font-style="normal" font-size="28.90" fill="#000">Low</text>
<line x1="932.70" y1="947.00" x2="932.70" y2="952.20" stroke="#000" stroke-width="1.3" />
<text x="899.49" y="979.00" font-family='"DejaVu Sans", sans-serif' font-weight="normal" font-style="normal" font-size="28.90" fill="#000">High</text>
<line x1="1081.10" y1="947.00" x2="1081.10" y2="952.20" stroke="#000" stroke-width="1.3" />
<text x="1052.64" y="979.00" font-family='"DejaVu Sans", sans-serif' font-weight="normal" font-style="normal" font-size="28.90" fill="#000">Low</text>
<line x1="1180.10" y1="947.00" x2="1180.10" y2="952.20" stroke="#000" stroke-width="1.3" />
<text x="1146.89" y="979.00" font-family='"DejaVu Sans", sans-serif' font-weight="normal" font-style="normal" font-size="28.90" fill="#000">High</text>
<text transform="translate(880.05,591.82)" font-family='"DejaVu Sans", sans-serif' font-weight="normal" font-style="normal" font-size="42.90" fill="#000" >PE bias (v2)</text>
<text transform="translate(716.54,862.23) rotate(-90)" font-family='"DejaVu Sans", sans-serif' font-weight="normal" font-style="normal" font-size="31.39" fill="#000" >P(Correct)</text>
<text transform="translate(1315.32,871.71) rotate(-90)" font-family='"DejaVu Sans", sans-serif' font-weight="normal" font-style="normal" font-size="31.42" fill="#000" >Confidence</text>
<text transform="translate(869.26,1014.23)" font-family='"DejaVu Sans", sans-serif' font-weight="normal" font-style="normal" font-size="31.57" fill="#000" >Positive evidence</text>
<line x1="783.80" y1="783.50" x2="1007.50" y2="783.50" stroke="#000" stroke-width="2.2" stroke-dasharray="2.15 3.56"/>
<path d="M 832.55,663.90 L 832.49,663.95 L 832.41,663.99 L 832.33,664.03 L 832.23,664.09 L 832.11,664.20 L 831.96,664.35 L 831.77,664.58 L 831.55,664.90 L 831.29,665.33 L 831.01,665.85 L 830.69,666.45 L 830.34,667.11 L 829.97,667.79 L 829.56,668.48 L 829.12,669.16 L 828.65,669.80 L 828.15,670.41 L 827.61,671.02 L 827.05,671.64 L 826.45,672.25 L 825.82,672.86 L 825.16,673.48 L 824.47,674.09 L 823.75,674.70 L 822.99,675.31 L 822.19,675.93 L 821.35,676.54 L 820.48,677.15 L 819.59,677.76 L 818.69,678.38 L 817.77,678.99 L 816.85,679.60 L 815.92,680.21 L 814.97,680.83 L 814.00,681.44 L 813.01,682.05 L 812.02,682.66 L 811.03,683.27 L 810.04,683.89 L 809.05,684.50 L 808.05,685.11 L 807.03,685.73 L 806.00,686.34 L 804.98,686.95 L 803.96,687.56 L 802.98,688.17 L 802.04,688.79 L 801.15,689.40 L 800.30,690.01 L 799.45,690.62 L 798.63,691.24 L 797.85,691.85 L 797.12,692.46 L 796.45,693.07 L 795.85,693.69 L 795.35,694.30 L 794.92,694.91 L 794.56,695.52 L 794.26,696.14 L 794.02,696.75 L 793.86,697.36 L 793.78,697.98 L 793.77,698.59 L 793.85,699.20 L 794.01,699.81 L 794.25,700.43 L 794.57,701.04 L 794.96,701.65 L 795.43,702.26 L 795.97,702.88 L 796.58,703.49 L 797.25,704.10 L 798.01,704.71 L 798.86,705.33 L 799.80,705.94 L 800.80,706.55 L 801.85,707.16 L 802.94,707.77 L 804.04,708.39 L 805.15,709.00 L 806.30,709.61 L 807.51,710.23 L 808.77,710.84 L 810.06,711.45 L 811.34,712.06 L 812.60,712.67 L 813.81,713.29 L 814.95,713.90 L 816.05,714.51 L 817.13,715.12 L 818.19,715.74 L 819.22,716.35 L 820.20,716.96 L 821.12,717.57 L 821.98,718.19 L 822.75,718.80 L 823.44,719.41 L 824.06,720.02 L 824.60,720.64 L 825.09,721.25 L 825.53,721.86 L 825.94,722.48 L 826.30,723.09 L 826.65,723.70 L 826.96,724.31 L 827.23,724.93 L 827.45,725.54 L 827.64,726.15 L 827.80,726.76 L 827.94,727.38 L 828.05,727.99 L 828.15,728.60 L 828.22,729.21 L 828.26,729.83 L 828.27,730.44 L 828.26,731.05 L 828.24,731.66 L 828.21,732.27 L 828.17,732.89 L 828.15,733.50 L 828.12,734.11 L 828.06,734.73 L 827.99,735.34 L 827.92,735.95 L 827.86,736.56 L 827.82,737.17 L 827.81,737.79 L 827.85,738.40 L 827.93,739.01 L 828.05,739.62 L 828.19,740.24 L 828.36,740.85 L 828.55,741.46 L 828.75,742.07 L 828.95,742.69 L 829.15,743.30 L 829.36,743.91 L 829.59,744.52 L 829.84,745.14 L 830.09,745.75 L 830.34,746.36 L 830.59,746.98 L 830.83,747.59 L 831.05,748.20 L 831.26,748.81 L 831.48,749.43 L 831.69,750.04 L 831.89,750.65 L 832.08,751.26 L 832.25,751.88 L 832.41,752.49 L 832.55,753.10 L 832.66,753.71 L 832.75,754.33 L 832.82,754.94 L 832.88,755.55 L 832.92,756.16 L 832.96,756.77 L 833.00,757.39 L 833.05,758.00 L 833.10,758.65 L 833.15,759.34 L 833.19,760.05 L 833.23,760.76 L 833.27,761.42 L 833.30,762.02 L 833.33,762.52 L 833.35,762.90 L 833.35,762.90 L 833.37,762.52 L 833.40,762.02 L 833.43,761.42 L 833.47,760.76 L 833.51,760.05 L 833.55,759.34 L 833.60,758.65 L 833.65,758.00 L 833.70,757.39 L 833.74,756.77 L 833.78,756.16 L 833.83,755.55 L 833.88,754.94 L 833.95,754.33 L 834.04,753.71 L 834.15,753.10 L 834.29,752.49 L 834.45,751.88 L 834.62,751.26 L 834.81,750.65 L 835.01,750.04 L 835.22,749.43 L 835.44,748.81 L 835.65,748.20 L 835.87,747.59 L 836.11,746.98 L 836.36,746.36 L 836.61,745.75 L 836.86,745.14 L 837.11,744.52 L 837.34,743.91 L 837.55,743.30 L 837.75,742.69 L 837.95,742.07 L 838.15,741.46 L 838.34,740.85 L 838.51,740.24 L 838.65,739.62 L 838.77,739.01 L 838.85,738.40 L 838.89,737.79 L 838.88,737.17 L 838.84,736.56 L 838.78,735.95 L 838.71,735.34 L 838.64,734.73 L 838.58,734.11 L 838.55,733.50 L 838.53,732.89 L 838.49,732.27 L 838.46,731.66 L 838.44,731.05 L 838.43,730.44 L 838.44,729.83 L 838.48,729.21 L 838.55,728.60 L 838.65,727.99 L 838.76,727.38 L 838.90,726.76 L 839.06,726.15 L 839.25,725.54 L 839.47,724.93 L 839.74,724.31 L 840.05,723.70 L 840.40,723.09 L 840.76,722.48 L 841.17,721.86 L 841.61,721.25 L 842.10,720.64 L 842.64,720.02 L 843.26,719.41 L 843.95,718.80 L 844.72,718.19 L 845.58,717.57 L 846.50,716.96 L 847.48,716.35 L 848.51,715.74 L 849.57,715.12 L 850.65,714.51 L 851.75,713.90 L 852.89,713.29 L 854.10,712.67 L 855.36,712.06 L 856.64,711.45 L 857.93,710.84 L 859.19,710.23 L 860.40,709.61 L 861.55,709.00 L 862.66,708.39 L 863.76,707.77 L 864.85,707.16 L 865.90,706.55 L 866.90,705.94 L 867.84,705.33 L 868.69,704.71 L 869.45,704.10 L 870.12,703.49 L 870.73,702.88 L 871.27,702.26 L 871.74,701.65 L 872.13,701.04 L 872.45,700.43 L 872.69,699.81 L 872.85,699.20 L 872.93,698.59 L 872.92,697.98 L 872.84,697.36 L 872.68,696.75 L 872.44,696.14 L 872.14,695.52 L 871.78,694.91 L 871.35,694.30 L 870.85,693.69 L 870.25,693.07 L 869.58,692.46 L 868.85,691.85 L 868.07,691.24 L 867.25,690.62 L 866.40,690.01 L 865.55,689.40 L 864.66,688.79 L 863.72,688.17 L 862.74,687.56 L 861.73,686.95 L 860.70,686.34 L 859.67,685.73 L 858.65,685.11 L 857.65,684.50 L 856.66,683.89 L 855.67,683.27 L 854.68,682.66 L 853.69,682.05 L 852.70,681.44 L 851.73,680.83 L 850.78,680.21 L 849.85,679.60 L 848.93,678.99 L 848.01,678.38 L 847.11,677.76 L 846.22,677.15 L 845.35,676.54 L 844.51,675.93 L 843.71,675.31 L 842.95,674.70 L 842.23,674.09 L 841.54,673.48 L 840.88,672.86 L 840.25,672.25 L 839.65,671.64 L 839.09,671.02 L 838.55,670.41 L 838.05,669.80 L 837.58,669.16 L 837.14,668.48 L 836.73,667.79 L 836.36,667.11 L 836.01,666.45 L 835.69,665.85 L 835.41,665.33 L 835.15,664.90 L 834.93,664.58 L 834.74,664.35 L 834.59,664.20 L 834.47,664.09 L 834.37,664.03 L 834.29,663.99 L 834.21,663.95 L 834.15,663.90 Z" fill="#bfbfbf" stroke="none"/>
<line x1="833.35" y1="663.90" x2="833.35" y2="762.90" stroke="#808080" stroke-width="2.2" />
<line x1="813.55" y1="663.90" x2="853.15" y2="663.90" stroke="#808080" stroke-width="2.2" />
<line x1="813.55" y1="762.90" x2="853.15" y2="762.90" stroke="#808080" stroke-width="2.2" />
<circle cx="833.35" cy="701.70" r="5.0" fill="#808080"/>
<path d="M 931.70,674.00 L 931.62,674.05 L 931.53,674.11 L 931.43,674.17 L 931.31,674.24 L 931.15,674.35 L 930.95,674.49 L 930.71,674.67 L 930.40,674.90 L 930.04,675.19 L 929.65,675.54 L 929.21,675.92 L 928.73,676.34 L 928.20,676.79 L 927.62,677.26 L 926.99,677.73 L 926.30,678.20 L 925.54,678.68 L 924.72,679.19 L 923.84,679.71 L 922.91,680.25 L 921.94,680.79 L 920.95,681.34 L 919.93,681.87 L 918.90,682.40 L 917.83,682.92 L 916.70,683.43 L 915.54,683.94 L 914.35,684.46 L 913.16,684.97 L 912.00,685.48 L 910.87,685.99 L 909.80,686.50 L 908.79,687.01 L 907.81,687.52 L 906.87,688.04 L 905.94,688.55 L 905.04,689.06 L 904.15,689.58 L 903.28,690.09 L 902.40,690.60 L 901.51,691.12 L 900.61,691.63 L 899.70,692.16 L 898.82,692.68 L 897.97,693.19 L 897.17,693.70 L 896.44,694.21 L 895.80,694.70 L 895.22,695.18 L 894.68,695.63 L 894.19,696.08 L 893.76,696.52 L 893.40,696.96 L 893.13,697.42 L 892.96,697.90 L 892.90,698.40 L 892.95,698.94 L 893.11,699.50 L 893.36,700.08 L 893.71,700.67 L 894.13,701.27 L 894.62,701.86 L 895.18,702.44 L 895.80,703.00 L 896.50,703.54 L 897.29,704.06 L 898.17,704.57 L 899.11,705.08 L 900.10,705.58 L 901.12,706.09 L 902.16,706.59 L 903.20,707.10 L 904.26,707.61 L 905.38,708.12 L 906.53,708.64 L 907.70,709.15 L 908.88,709.66 L 910.05,710.18 L 911.19,710.69 L 912.30,711.20 L 913.39,711.71 L 914.49,712.22 L 915.58,712.73 L 916.66,713.24 L 917.70,713.76 L 918.70,714.27 L 919.63,714.78 L 920.50,715.30 L 921.30,715.82 L 922.05,716.35 L 922.76,716.87 L 923.41,717.40 L 924.01,717.93 L 924.56,718.45 L 925.06,718.98 L 925.50,719.50 L 925.87,720.02 L 926.16,720.53 L 926.38,721.04 L 926.56,721.56 L 926.70,722.07 L 926.83,722.58 L 926.96,723.09 L 927.10,723.60 L 927.25,724.11 L 927.39,724.62 L 927.52,725.14 L 927.64,725.65 L 927.75,726.16 L 927.85,726.68 L 927.93,727.19 L 928.00,727.70 L 928.04,728.21 L 928.06,728.72 L 928.05,729.23 L 928.04,729.74 L 928.02,730.26 L 928.02,730.77 L 928.05,731.28 L 928.10,731.80 L 928.19,732.32 L 928.29,732.85 L 928.41,733.37 L 928.55,733.90 L 928.70,734.43 L 928.86,734.95 L 929.03,735.48 L 929.20,736.00 L 929.39,736.52 L 929.59,737.03 L 929.82,737.54 L 930.04,738.06 L 930.27,738.57 L 930.50,739.08 L 930.71,739.59 L 930.90,740.10 L 931.08,740.61 L 931.25,741.13 L 931.42,741.65 L 931.58,742.17 L 931.73,742.68 L 931.87,743.20 L 931.99,743.70 L 932.10,744.20 L 932.19,744.72 L 932.27,745.26 L 932.33,745.81 L 932.38,746.36 L 932.41,746.87 L 932.45,747.32 L 932.47,747.71 L 932.50,748.00 L 932.50,748.00 L 932.53,747.71 L 932.55,747.32 L 932.59,746.87 L 932.62,746.36 L 932.67,745.81 L 932.73,745.26 L 932.81,744.72 L 932.90,744.20 L 933.01,743.70 L 933.13,743.20 L 933.27,742.68 L 933.42,742.17 L 933.58,741.65 L 933.75,741.13 L 933.92,740.61 L 934.10,740.10 L 934.29,739.59 L 934.50,739.08 L 934.73,738.57 L 934.96,738.06 L 935.18,737.54 L 935.41,737.03 L 935.61,736.52 L 935.80,736.00 L 935.97,735.48 L 936.14,734.95 L 936.30,734.43 L 936.45,733.90 L 936.59,733.37 L 936.71,732.85 L 936.81,732.32 L 936.90,731.80 L 936.95,731.28 L 936.98,730.77 L 936.98,730.26 L 936.96,729.74 L 936.95,729.23 L 936.94,728.72 L 936.96,728.21 L 937.00,727.70 L 937.07,727.19 L 937.15,726.68 L 937.25,726.16 L 937.36,725.65 L 937.48,725.14 L 937.61,724.62 L 937.75,724.11 L 937.90,723.60 L 938.04,723.09 L 938.17,722.58 L 938.30,722.07 L 938.44,721.56 L 938.62,721.04 L 938.84,720.53 L 939.13,720.02 L 939.50,719.50 L 939.94,718.98 L 940.44,718.45 L 940.99,717.93 L 941.59,717.40 L 942.24,716.87 L 942.95,716.35 L 943.70,715.82 L 944.50,715.30 L 945.37,714.78 L 946.30,714.27 L 947.30,713.76 L 948.34,713.24 L 949.42,712.73 L 950.51,712.22 L 951.61,711.71 L 952.70,711.20 L 953.81,710.69 L 954.95,710.18 L 956.12,709.66 L 957.30,709.15 L 958.47,708.64 L 959.62,708.12 L 960.74,707.61 L 961.80,707.10 L 962.84,706.59 L 963.88,706.09 L 964.90,705.58 L 965.89,705.08 L 966.83,704.57 L 967.71,704.06 L 968.50,703.54 L 969.20,703.00 L 969.82,702.44 L 970.38,701.86 L 970.87,701.27 L 971.29,700.67 L 971.64,700.08 L 971.89,699.50 L 972.05,698.94 L 972.10,698.40 L 972.04,697.90 L 971.87,697.42 L 971.60,696.96 L 971.24,696.52 L 970.81,696.08 L 970.32,695.63 L 969.78,695.18 L 969.20,694.70 L 968.56,694.21 L 967.83,693.70 L 967.03,693.19 L 966.18,692.68 L 965.30,692.16 L 964.39,691.63 L 963.49,691.12 L 962.60,690.60 L 961.72,690.09 L 960.85,689.58 L 959.96,689.06 L 959.06,688.55 L 958.13,688.04 L 957.19,687.52 L 956.21,687.01 L 955.20,686.50 L 954.13,685.99 L 953.00,685.48 L 951.84,684.97 L 950.65,684.46 L 949.46,683.94 L 948.30,683.43 L 947.17,682.92 L 946.10,682.40 L 945.07,681.87 L 944.05,681.34 L 943.06,680.79 L 942.09,680.25 L 941.16,679.71 L 940.28,679.19 L 939.46,678.68 L 938.70,678.20 L 938.01,677.73 L 937.38,677.26 L 936.80,676.79 L 936.27,676.34 L 935.79,675.92 L 935.35,675.54 L 934.96,675.19 L 934.60,674.90 L 934.29,674.67 L 934.05,674.49 L 933.85,674.35 L 933.69,674.24 L 933.57,674.17 L 933.47,674.11 L 933.38,674.05 L 933.30,674.00 Z" fill="#bfbfbf" stroke="none"/>
<line x1="932.50" y1="674.00" x2="932.50" y2="756.20" stroke="#808080" stroke-width="2.2" />
<line x1="912.70" y1="674.00" x2="952.30" y2="674.00" stroke="#808080" stroke-width="2.2" />
<line x1="912.70" y1="756.20" x2="952.30" y2="756.20" stroke="#808080" stroke-width="2.2" />
<circle cx="932.50" cy="701.60" r="5.0" fill="#808080"/>
<path d="M 1076.00,661.80 L 1075.79,661.87 L 1075.57,661.95 L 1075.31,662.03 L 1074.99,662.14 L 1074.58,662.28 L 1074.06,662.48 L 1073.41,662.75 L 1072.60,663.10 L 1071.58,663.55 L 1070.36,664.09 L 1068.99,664.70 L 1067.52,665.37 L 1065.99,666.06 L 1064.46,666.76 L 1062.98,667.45 L 1061.60,668.10 L 1060.27,668.72 L 1058.94,669.35 L 1057.61,669.97 L 1056.31,670.59 L 1055.03,671.22 L 1053.79,671.84 L 1052.61,672.47 L 1051.50,673.10 L 1050.44,673.73 L 1049.42,674.37 L 1048.45,675.01 L 1047.52,675.65 L 1046.65,676.29 L 1045.83,676.93 L 1045.08,677.57 L 1044.40,678.20 L 1043.77,678.83 L 1043.18,679.46 L 1042.63,680.08 L 1042.16,680.71 L 1041.76,681.33 L 1041.46,681.95 L 1041.27,682.58 L 1041.20,683.20 L 1041.26,683.82 L 1041.44,684.45 L 1041.72,685.07 L 1042.09,685.69 L 1042.56,686.32 L 1043.11,686.94 L 1043.72,687.57 L 1044.40,688.20 L 1045.16,688.83 L 1046.03,689.47 L 1046.99,690.11 L 1048.02,690.75 L 1049.10,691.39 L 1050.22,692.03 L 1051.36,692.67 L 1052.50,693.30 L 1053.68,693.93 L 1054.93,694.56 L 1056.23,695.18 L 1057.56,695.81 L 1058.88,696.43 L 1060.18,697.05 L 1061.42,697.68 L 1062.60,698.30 L 1063.72,698.92 L 1064.82,699.55 L 1065.88,700.17 L 1066.91,700.79 L 1067.90,701.42 L 1068.85,702.04 L 1069.75,702.67 L 1070.60,703.30 L 1071.39,703.93 L 1072.13,704.57 L 1072.82,705.21 L 1073.46,705.85 L 1074.07,706.49 L 1074.64,707.13 L 1075.18,707.77 L 1075.70,708.40 L 1076.19,709.03 L 1076.64,709.66 L 1077.05,710.28 L 1077.44,710.91 L 1077.79,711.53 L 1078.12,712.15 L 1078.42,712.78 L 1078.70,713.40 L 1078.95,714.01 L 1079.16,714.60 L 1079.35,715.18 L 1079.51,715.77 L 1079.65,716.37 L 1079.77,717.00 L 1079.89,717.67 L 1080.00,718.40 L 1080.11,719.18 L 1080.21,720.01 L 1080.29,720.87 L 1080.37,721.76 L 1080.43,722.68 L 1080.47,723.61 L 1080.50,724.56 L 1080.50,725.50 L 1080.48,726.46 L 1080.45,727.46 L 1080.39,728.47 L 1080.32,729.50 L 1080.23,730.53 L 1080.13,731.54 L 1080.02,732.54 L 1079.90,733.50 L 1079.76,734.43 L 1079.59,735.34 L 1079.41,736.23 L 1079.21,737.11 L 1079.02,737.98 L 1078.83,738.85 L 1078.65,739.72 L 1078.50,740.60 L 1078.36,741.49 L 1078.22,742.38 L 1078.09,743.27 L 1077.96,744.16 L 1077.86,745.05 L 1077.77,745.92 L 1077.72,746.77 L 1077.70,747.60 L 1077.72,748.42 L 1077.77,749.23 L 1077.84,750.02 L 1077.94,750.81 L 1078.06,751.57 L 1078.20,752.31 L 1078.35,753.02 L 1078.50,753.70 L 1078.68,754.36 L 1078.89,755.02 L 1079.12,755.66 L 1079.37,756.27 L 1079.61,756.84 L 1079.84,757.36 L 1080.04,757.82 L 1080.20,758.20 L 1080.32,758.50 L 1080.42,758.72 L 1080.50,758.88 L 1080.56,758.98 L 1080.60,759.05 L 1080.64,759.10 L 1080.67,759.15 L 1080.70,759.20 L 1081.30,759.20 L 1081.33,759.15 L 1081.36,759.10 L 1081.40,759.05 L 1081.44,758.98 L 1081.50,758.88 L 1081.58,758.72 L 1081.68,758.50 L 1081.80,758.20 L 1081.96,757.82 L 1082.16,757.36 L 1082.39,756.84 L 1082.63,756.27 L 1082.88,755.66 L 1083.11,755.02 L 1083.32,754.36 L 1083.50,753.70 L 1083.65,753.02 L 1083.80,752.31 L 1083.94,751.57 L 1084.06,750.81 L 1084.16,750.02 L 1084.23,749.23 L 1084.28,748.42 L 1084.30,747.60 L 1084.28,746.77 L 1084.23,745.92 L 1084.14,745.05 L 1084.04,744.16 L 1083.91,743.27 L 1083.78,742.38 L 1083.64,741.49 L 1083.50,740.60 L 1083.35,739.72 L 1083.17,738.85 L 1082.98,737.98 L 1082.79,737.11 L 1082.59,736.23 L 1082.41,735.34 L 1082.24,734.43 L 1082.10,733.50 L 1081.98,732.54 L 1081.87,731.54 L 1081.77,730.53 L 1081.68,729.50 L 1081.61,728.47 L 1081.55,727.46 L 1081.52,726.46 L 1081.50,725.50 L 1081.50,724.56 L 1081.53,723.61 L 1081.57,722.68 L 1081.63,721.76 L 1081.71,720.87 L 1081.79,720.01 L 1081.89,719.18 L 1082.00,718.40 L 1082.11,717.67 L 1082.23,717.00 L 1082.35,716.37 L 1082.49,715.77 L 1082.65,715.18 L 1082.84,714.60 L 1083.05,714.01 L 1083.30,713.40 L 1083.58,712.78 L 1083.88,712.15 L 1084.21,711.53 L 1084.56,710.91 L 1084.95,710.28 L 1085.36,709.66 L 1085.81,709.03 L 1086.30,708.40 L 1086.82,707.77 L 1087.36,707.13 L 1087.93,706.49 L 1088.54,705.85 L 1089.18,705.21 L 1089.87,704.57 L 1090.61,703.93 L 1091.40,703.30 L 1092.25,702.67 L 1093.15,702.04 L 1094.10,701.42 L 1095.09,700.79 L 1096.12,700.17 L 1097.18,699.55 L 1098.28,698.92 L 1099.40,698.30 L 1100.58,697.68 L 1101.82,697.05 L 1103.12,696.43 L 1104.44,695.81 L 1105.77,695.18 L 1107.07,694.56 L 1108.32,693.93 L 1109.50,693.30 L 1110.64,692.67 L 1111.78,692.03 L 1112.90,691.39 L 1113.98,690.75 L 1115.01,690.11 L 1115.97,689.47 L 1116.84,688.83 L 1117.60,688.20 L 1118.28,687.57 L 1118.89,686.94 L 1119.44,686.32 L 1119.91,685.69 L 1120.28,685.07 L 1120.56,684.45 L 1120.74,683.82 L 1120.80,683.20 L 1120.73,682.58 L 1120.54,681.95 L 1120.24,681.33 L 1119.84,680.71 L 1119.37,680.08 L 1118.82,679.46 L 1118.23,678.83 L 1117.60,678.20 L 1116.92,677.57 L 1116.17,676.93 L 1115.35,676.29 L 1114.48,675.65 L 1113.55,675.01 L 1112.58,674.37 L 1111.56,673.73 L 1110.50,673.10 L 1109.39,672.47 L 1108.21,671.84 L 1106.97,671.22 L 1105.69,670.59 L 1104.39,669.97 L 1103.06,669.35 L 1101.73,668.72 L 1100.40,668.10 L 1099.02,667.45 L 1097.54,666.76 L 1096.01,666.06 L 1094.48,665.37 L 1093.01,664.70 L 1091.64,664.09 L 1090.42,663.55 L 1089.40,663.10 L 1088.59,662.75 L 1087.94,662.48 L 1087.42,662.28 L 1087.01,662.14 L 1086.69,662.03 L 1086.43,661.95 L 1086.21,661.87 L 1086.00,661.80 Z" fill="#808080" stroke="none"/>
<line x1="1081.00" y1="661.80" x2="1081.00" y2="759.20" stroke="#000000" stroke-width="2.2" />
<line x1="1061.20" y1="661.80" x2="1100.80" y2="661.80" stroke="#000000" stroke-width="2.2" />
<line x1="1061.20" y1="759.20" x2="1100.80" y2="759.20" stroke="#000000" stroke-width="2.2" />
<circle cx="1081.00" cy="688.20" r="5.0" fill="#000000"/>
<path d="M 1160.20,635.30 L 1159.76,635.39 L 1159.19,635.51 L 1158.51,635.65 L 1157.74,635.81 L 1156.91,635.98 L 1156.03,636.15 L 1155.12,636.33 L 1154.20,636.50 L 1153.22,636.66 L 1152.12,636.80 L 1150.96,636.93 L 1149.78,637.08 L 1148.60,637.24 L 1147.46,637.44 L 1146.42,637.69 L 1145.50,638.00 L 1144.66,638.38 L 1143.83,638.82 L 1143.04,639.32 L 1142.33,639.84 L 1141.71,640.39 L 1141.21,640.94 L 1140.87,641.48 L 1140.70,642.00 L 1140.69,642.50 L 1140.82,642.99 L 1141.07,643.47 L 1141.46,643.96 L 1141.99,644.46 L 1142.65,644.96 L 1143.45,645.47 L 1144.40,646.00 L 1145.55,646.55 L 1146.92,647.11 L 1148.47,647.68 L 1150.14,648.26 L 1151.88,648.85 L 1153.64,649.44 L 1155.36,650.02 L 1157.00,650.60 L 1158.61,651.18 L 1160.29,651.75 L 1161.98,652.33 L 1163.66,652.90 L 1165.30,653.48 L 1166.86,654.05 L 1168.30,654.63 L 1169.60,655.20 L 1170.76,655.78 L 1171.82,656.35 L 1172.78,656.93 L 1173.66,657.50 L 1174.45,658.08 L 1175.17,658.65 L 1175.81,659.23 L 1176.40,659.80 L 1176.91,660.37 L 1177.34,660.92 L 1177.69,661.48 L 1177.97,662.03 L 1178.18,662.59 L 1178.34,663.17 L 1178.44,663.77 L 1178.50,664.40 L 1178.48,665.06 L 1178.37,665.75 L 1178.19,666.46 L 1177.96,667.18 L 1177.70,667.91 L 1177.44,668.65 L 1177.20,669.38 L 1177.00,670.10 L 1176.82,670.81 L 1176.63,671.52 L 1176.44,672.24 L 1176.25,672.95 L 1176.08,673.66 L 1175.95,674.37 L 1175.85,675.09 L 1175.80,675.80 L 1175.81,676.51 L 1175.86,677.22 L 1175.94,677.93 L 1176.06,678.64 L 1176.20,679.36 L 1176.36,680.07 L 1176.53,680.78 L 1176.70,681.50 L 1176.88,682.24 L 1177.10,683.00 L 1177.33,683.77 L 1177.57,684.54 L 1177.81,685.30 L 1178.06,686.02 L 1178.29,686.69 L 1178.50,687.30 L 1178.70,687.85 L 1178.90,688.37 L 1179.10,688.84 L 1179.29,689.28 L 1179.47,689.68 L 1179.64,690.05 L 1179.78,690.39 L 1179.90,690.70 L 1179.99,690.97 L 1180.06,691.20 L 1180.11,691.40 L 1180.14,691.56 L 1180.16,691.70 L 1180.17,691.82 L 1180.18,691.91 L 1180.20,692.00 L 1180.20,692.00 L 1180.22,691.91 L 1180.23,691.82 L 1180.24,691.70 L 1180.26,691.56 L 1180.29,691.40 L 1180.34,691.20 L 1180.41,690.97 L 1180.50,690.70 L 1180.62,690.39 L 1180.76,690.05 L 1180.93,689.68 L 1181.11,689.28 L 1181.30,688.84 L 1181.50,688.37 L 1181.70,687.85 L 1181.90,687.30 L 1182.11,686.69 L 1182.34,686.02 L 1182.59,685.30 L 1182.83,684.54 L 1183.07,683.77 L 1183.30,683.00 L 1183.52,682.24 L 1183.70,681.50 L 1183.87,680.78 L 1184.04,680.07 L 1184.20,679.36 L 1184.34,678.64 L 1184.46,677.93 L 1184.54,677.22 L 1184.59,676.51 L 1184.60,675.80 L 1184.55,675.09 L 1184.45,674.37 L 1184.32,673.66 L 1184.15,672.95 L 1183.96,672.24 L 1183.77,671.52 L 1183.58,670.81 L 1183.40,670.10 L 1183.20,669.38 L 1182.96,668.65 L 1182.70,667.91 L 1182.44,667.18 L 1182.21,666.46 L 1182.03,665.75 L 1181.92,665.06 L 1181.90,664.40 L 1181.96,663.77 L 1182.06,663.17 L 1182.22,662.59 L 1182.43,662.03 L 1182.71,661.48 L 1183.06,660.92 L 1183.49,660.37 L 1184.00,659.80 L 1184.59,659.23 L 1185.23,658.65 L 1185.95,658.08 L 1186.74,657.50 L 1187.62,656.93 L 1188.58,656.35 L 1189.64,655.78 L 1190.80,655.20 L 1192.10,654.63 L 1193.54,654.05 L 1195.10,653.48 L 1196.74,652.90 L 1198.42,652.33 L 1200.11,651.75 L 1201.79,651.18 L 1203.40,650.60 L 1205.04,650.02 L 1206.76,649.44 L 1208.52,648.85 L 1210.26,648.26 L 1211.93,647.68 L 1213.48,647.11 L 1214.85,646.55 L 1216.00,646.00 L 1216.95,645.47 L 1217.75,644.96 L 1218.41,644.46 L 1218.94,643.96 L 1219.33,643.47 L 1219.58,642.99 L 1219.71,642.50 L 1219.70,642.00 L 1219.53,641.48 L 1219.19,640.94 L 1218.69,640.39 L 1218.08,639.84 L 1217.36,639.32 L 1216.57,638.82 L 1215.74,638.38 L 1214.90,638.00 L 1213.98,637.69 L 1212.94,637.44 L 1211.80,637.24 L 1210.62,637.08 L 1209.44,636.93 L 1208.28,636.80 L 1207.18,636.66 L 1206.20,636.50 L 1205.28,636.33 L 1204.37,636.15 L 1203.49,635.98 L 1202.66,635.81 L 1201.89,635.65 L 1201.21,635.51 L 1200.64,635.39 L 1200.20,635.30 Z" fill="#808080" stroke="none"/>
<line x1="1180.20" y1="636.00" x2="1180.20" y2="750.50" stroke="#000000" stroke-width="2.2" />
<line x1="1160.40" y1="636.00" x2="1200.00" y2="636.00" stroke="#000000" stroke-width="2.2" />
<line x1="1160.40" y1="750.50" x2="1200.00" y2="750.50" stroke="#000000" stroke-width="2.2" />
<circle cx="1180.20" cy="647.50" r="5.0" fill="#000000"/>
<polyline points="833.35,653.40 833.35,646.30 932.50,646.30 932.50,653.40" fill="none" stroke="#000" stroke-width="2.1" />
<polyline points="1081.00,769.40 1081.00,776.80 1180.20,776.80 1180.20,769.40" fill="none" stroke="#000" stroke-width="2.1" />
<text x="866.72" y="636.30" font-family='"DejaVu Sans", sans-serif' font-weight="normal" font-style="normal" font-size="28.30" fill="#000">ns</text>
<text transform="translate(1102.20,809.60)" font-family='"DejaVu Sans", sans-serif' font-weight="normal" font-style="normal" font-size="28.40" fill="#000" >****</text>
<line x1="1452.30" y1="594.40" x2="1452.30" y2="1029.70" stroke="#000" stroke-width="1.3" />
<line x1="1451.70" y1="1029.10" x2="2032.20" y2="1029.10" stroke="#000" stroke-width="1.3" />
<line x1="1520.70" y1="1029.10" x2="1520.70" y2="1034.50" stroke="#000" stroke-width="1.3" />
<text x="1502.57" y="1058.20" font-family='"DejaVu Sans", sans-serif' font-weight="normal" font-style="normal" font-size="22.80" fill="#000">1.0</text>
<line x1="1691.20" y1="1029.10" x2="1691.20" y2="1034.50" stroke="#000" stroke-width="1.3" />
<text x="1673.07" y="1058.20" font-family='"DejaVu Sans", sans-serif' font-weight="normal" font-style="normal" font-size="22.80" fill="#000">1.5</text>
<line x1="1861.70" y1="1029.10" x2="1861.70" y2="1034.50" stroke="#000" stroke-width="1.3" />
<text x="1843.57" y="1058.20" font-family='"DejaVu Sans", sans-serif' font-weight="normal" font-style="normal" font-size="22.80" fill="#000">2.0</text>
<line x1="2032.20" y1="1029.10" x2="2032.20" y2="1034.50" stroke="#000" stroke-width="1.3" />
<text x="2014.07" y="1058.20" font-family='"DejaVu Sans", sans-serif' font-weight="normal" font-style="normal" font-size="22.80" fill="#000">2.5</text>
<line x1="1452.30" y1="984.20" x2="1446.90" y2="984.20" stroke="#000" stroke-width="1.3" />
<text x="1404.74" y="992.90" font-family='"DejaVu Sans", sans-serif' font-weight="normal" font-style="normal" font-size="22.80" fill="#000">0.0</text>
<line x1="1452.30" y1="909.38" x2="1446.90" y2="909.38" stroke="#000" stroke-width="1.3" />
<text x="1404.74" y="918.08" font-family='"DejaVu Sans", sans-serif' font-weight="normal" font-style="normal" font-size="22.80" fill="#000">0.5</text>
<line x1="1452.30" y1="834.56" x2="1446.90" y2="834.56" stroke="#000" stroke-width="1.3" />
<text x="1404.74" y="843.26" font-family='"DejaVu Sans", sans-serif' font-weight="normal" font-style="normal" font-size="22.80" fill="#000">1.0</text>
<line x1="1452.30" y1="759.74" x2="1446.90" y2="759.74" stroke="#000" stroke-width="1.3" />
<text x="1404.74" y="768.44" font-family='"DejaVu Sans", sans-serif' font-weight="normal" font-style="normal" font-size="22.80" fill="#000">1.5</text>
<line x1="1452.30" y1="684.92" x2="1446.90" y2="684.92" stroke="#000" stroke-width="1.3" />
<text x="1404.74" y="693.62" font-family='"DejaVu Sans", sans-serif' font-weight="normal" font-style="normal" font-size="22.80" fill="#000">2.0</text>
<line x1="1452.30" y1="610.10" x2="1446.90" y2="610.10" stroke="#000" stroke-width="1.3" />
<text x="1404.74" y="618.80" font-family='"DejaVu Sans", sans-serif' font-weight="normal" font-style="normal" font-size="22.80" fill="#000">2.5</text>
<text x="1514.90" y="584.80" font-family='"DejaVu Sans", sans-serif' font-weight="normal" font-style="normal" font-size="32.50" fill="#000">Type-1 vs. type-2 sensitivity</text>
<text transform="translate(1391.81,868.92) rotate(-90)" font-family='"DejaVu Sans", sans-serif' font-weight="normal" font-style="normal" font-size="29.39" fill="#000" >meta-d'</text>
<text x="1729.52" y="1091.00" font-family='"DejaVu Sans", sans-serif' font-weight="normal" font-style="normal" font-size="28.70" fill="#000">d'</text>
<line x1="1452.30" y1="864.49" x2="2032.20" y2="610.10" stroke="#808080" stroke-width="2.2" stroke-dasharray="8.2 3.6"/>
<polyline points="1486.26,880.80 1562.64,879.60 1709.95,861.64 1858.29,791.31 1995.03,679.38" fill="none" stroke="#000000" stroke-width="2.2" />
<line x1="1470.96" y1="880.80" x2="1501.56" y2="880.80" stroke="#000000" stroke-width="2.2" />
<line x1="1486.26" y1="875.50" x2="1486.26" y2="886.10" stroke="#000000" stroke-width="2.2" />
<line x1="1549.34" y1="879.60" x2="1575.94" y2="879.60" stroke="#000000" stroke-width="2.2" />
<line x1="1562.64" y1="875.30" x2="1562.64" y2="883.90" stroke="#000000" stroke-width="2.2" />
<line x1="1696.36" y1="861.64" x2="1723.55" y2="861.64" stroke="#000000" stroke-width="2.2" />
<line x1="1709.95" y1="856.64" x2="1709.95" y2="866.64" stroke="#000000" stroke-width="2.2" />
<line x1="1840.59" y1="791.31" x2="1875.99" y2="791.31" stroke="#000000" stroke-width="2.2" />
<line x1="1858.29" y1="783.31" x2="1858.29" y2="799.31" stroke="#000000" stroke-width="2.2" />
<line x1="1975.23" y1="679.38" x2="2014.83" y2="679.38" stroke="#000000" stroke-width="2.2" />
<line x1="1995.03" y1="669.38" x2="1995.03" y2="689.38" stroke="#000000" stroke-width="2.2" />
<polyline points="1486.26,819.75 1562.64,825.43 1709.95,857.90 1858.29,908.33 1995.03,970.88" fill="none" stroke="#ff0000" stroke-width="2.2" />
<line x1="1470.96" y1="819.75" x2="1501.56" y2="819.75" stroke="#ff0000" stroke-width="2.2" />
<line x1="1486.26" y1="814.45" x2="1486.26" y2="825.05" stroke="#ff0000" stroke-width="2.2" />
<line x1="1549.34" y1="825.43" x2="1575.94" y2="825.43" stroke="#ff0000" stroke-width="2.2" />
<line x1="1562.64" y1="821.13" x2="1562.64" y2="829.73" stroke="#ff0000" stroke-width="2.2" />
<line x1="1696.36" y1="857.90" x2="1723.55" y2="857.90" stroke="#ff0000" stroke-width="2.2" />
<line x1="1709.95" y1="852.90" x2="1709.95" y2="862.90" stroke="#ff0000" stroke-width="2.2" />
<line x1="1840.59" y1="908.33" x2="1875.99" y2="908.33" stroke="#ff0000" stroke-width="2.2" />
<line x1="1858.29" y1="900.33" x2="1858.29" y2="916.33" stroke="#ff0000" stroke-width="2.2" />
<line x1="1975.23" y1="970.88" x2="2014.83" y2="970.88" stroke="#ff0000" stroke-width="2.2" />
<line x1="1995.03" y1="960.88" x2="1995.03" y2="980.88" stroke="#ff0000" stroke-width="2.2" />
<polyline points="1486.26,1023.56 1562.64,973.58 1709.95,854.46 1858.29,724.87 1995.03,610.10" fill="none" stroke="#0000ff" stroke-width="2.2" />
<line x1="1470.96" y1="1023.56" x2="1501.56" y2="1023.56" stroke="#0000ff" stroke-width="2.2" />
<line x1="1486.26" y1="1018.26" x2="1486.26" y2="1028.86" stroke="#0000ff" stroke-width="2.2" />
<line x1="1549.34" y1="973.58" x2="1575.94" y2="973.58" stroke="#0000ff" stroke-width="2.2" />
<line x1="1562.64" y1="969.28" x2="1562.64" y2="977.88" stroke="#0000ff" stroke-width="2.2" />
<line x1="1696.36" y1="854.46" x2="1723.55" y2="854.46" stroke="#0000ff" stroke-width="2.2" />
<line x1="1709.95" y1="849.46" x2="1709.95" y2="859.46" stroke="#0000ff" stroke-width="2.2" />
<line x1="1840.59" y1="724.87" x2="1875.99" y2="724.87" stroke="#0000ff" stroke-width="2.2" />
<line x1="1858.29" y1="716.87" x2="1858.29" y2="732.87" stroke="#0000ff" stroke-width="2.2" />
<line x1="1975.23" y1="610.10" x2="2014.83" y2="610.10" stroke="#0000ff" stroke-width="2.2" />
<line x1="1995.03" y1="600.10" x2="1995.03" y2="620.10" stroke="#0000ff" stroke-width="2.2" />
<line x1="1472.00" y1="625.00" x2="1519.20" y2="625.00" stroke="#808080" stroke-width="2.2" stroke-dasharray="8.2 3.6"/>
<line x1="1472.00" y1="658.30" x2="1519.20" y2="658.30" stroke="#000000" stroke-width="2.2" />
<line x1="1495.60" y1="647.30" x2="1495.60" y2="669.30" stroke="#000000" stroke-width="2.2" />
<line x1="1472.00" y1="691.90" x2="1519.20" y2="691.90" stroke="#ff0000" stroke-width="2.2" />
<line x1="1495.60" y1="680.90" x2="1495.60" y2="702.90" stroke="#ff0000" stroke-width="2.2" />
<line x1="1472.00" y1="725.60" x2="1519.20" y2="725.60" stroke="#0000ff" stroke-width="2.2" />
<line x1="1495.60" y1="714.60" x2="1495.60" y2="736.60" stroke="#0000ff" stroke-width="2.2" />
<text x="1535.63" y="633.20" font-family='"DejaVu Sans", sans-serif' font-weight="normal" font-style="normal" font-size="22.80" fill="#000">meta-d' = d'</text>
<text x="1536.45" y="667.10" font-family='"DejaVu Sans", sans-serif' font-weight="normal" font-style="normal" font-size="22.80" fill="#000">combined</text>
<text x="1535.63" y="700.90" font-family='"DejaVu Sans", sans-serif' font-weight="normal" font-style="normal" font-size="22.80" fill="#000">response = s1</text>
<text x="1535.63" y="733.90" font-family='"DejaVu Sans", sans-serif' font-weight="normal" font-style="normal" font-size="22.80" fill="#000">response = s2</text>
</svg></body></html>
